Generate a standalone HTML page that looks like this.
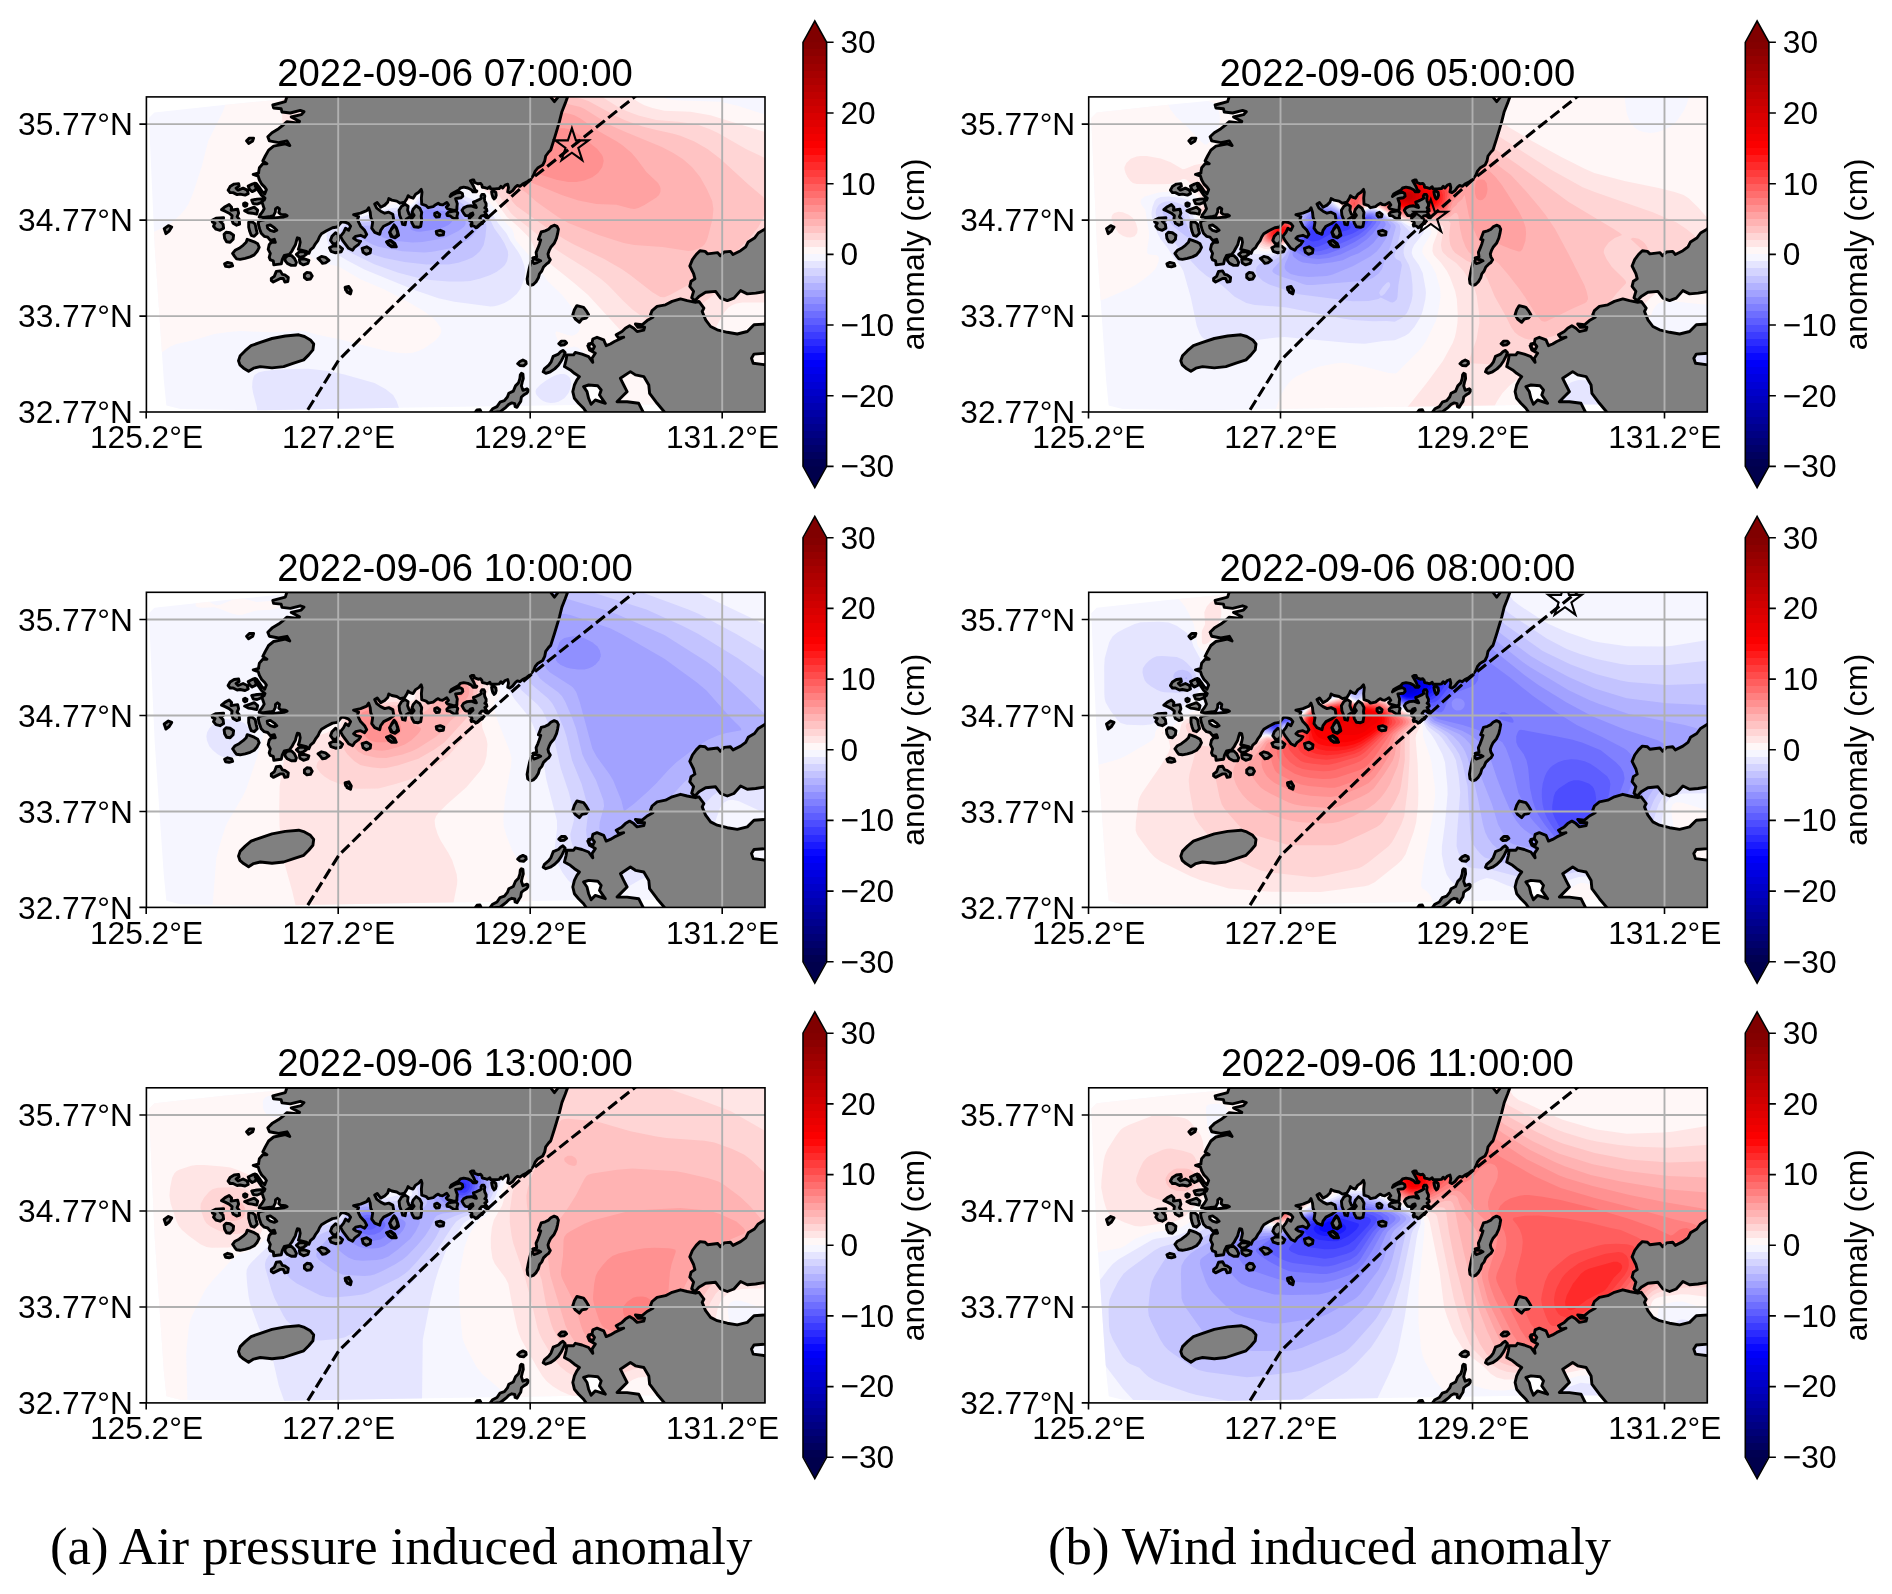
<!DOCTYPE html>
<html lang="en"><head><meta charset="utf-8"><title>Sea level anomaly</title>
<style>html,body{margin:0;padding:0;background:#fff}svg{display:block;will-change:transform}text{font-family:"Liberation Sans",Arial,sans-serif;fill:#000}.cap{font-family:"Liberation Serif","Times New Roman",serif}</style></head><body>
<svg width="1892" height="1594" viewBox="0 0 1892 1594">
<rect width="1892" height="1594" fill="#fff"/>
<defs>
<linearGradient id="cb" x1="0" y1="1" x2="0" y2="0">
<stop offset="0.0000" stop-color="#000052"/>
<stop offset="0.0167" stop-color="#000052"/>
<stop offset="0.0167" stop-color="#00005e"/>
<stop offset="0.0333" stop-color="#00005e"/>
<stop offset="0.0333" stop-color="#00006a"/>
<stop offset="0.0500" stop-color="#00006a"/>
<stop offset="0.0500" stop-color="#000076"/>
<stop offset="0.0667" stop-color="#000076"/>
<stop offset="0.0667" stop-color="#000082"/>
<stop offset="0.0833" stop-color="#000082"/>
<stop offset="0.0833" stop-color="#00008e"/>
<stop offset="0.1000" stop-color="#00008e"/>
<stop offset="0.1000" stop-color="#00009a"/>
<stop offset="0.1167" stop-color="#00009a"/>
<stop offset="0.1167" stop-color="#0000a6"/>
<stop offset="0.1333" stop-color="#0000a6"/>
<stop offset="0.1333" stop-color="#0000b2"/>
<stop offset="0.1500" stop-color="#0000b2"/>
<stop offset="0.1500" stop-color="#0000be"/>
<stop offset="0.1667" stop-color="#0000be"/>
<stop offset="0.1667" stop-color="#0000c9"/>
<stop offset="0.1833" stop-color="#0000c9"/>
<stop offset="0.1833" stop-color="#0000d5"/>
<stop offset="0.2000" stop-color="#0000d5"/>
<stop offset="0.2000" stop-color="#0000e1"/>
<stop offset="0.2167" stop-color="#0000e1"/>
<stop offset="0.2167" stop-color="#0000ed"/>
<stop offset="0.2333" stop-color="#0000ed"/>
<stop offset="0.2333" stop-color="#0000f9"/>
<stop offset="0.2500" stop-color="#0000f9"/>
<stop offset="0.2500" stop-color="#0909ff"/>
<stop offset="0.2667" stop-color="#0909ff"/>
<stop offset="0.2667" stop-color="#1a1aff"/>
<stop offset="0.2833" stop-color="#1a1aff"/>
<stop offset="0.2833" stop-color="#2b2bff"/>
<stop offset="0.3000" stop-color="#2b2bff"/>
<stop offset="0.3000" stop-color="#3c3cff"/>
<stop offset="0.3167" stop-color="#3c3cff"/>
<stop offset="0.3167" stop-color="#4d4dff"/>
<stop offset="0.3333" stop-color="#4d4dff"/>
<stop offset="0.3333" stop-color="#5e5eff"/>
<stop offset="0.3500" stop-color="#5e5eff"/>
<stop offset="0.3500" stop-color="#6e6eff"/>
<stop offset="0.3667" stop-color="#6e6eff"/>
<stop offset="0.3667" stop-color="#8080ff"/>
<stop offset="0.3833" stop-color="#8080ff"/>
<stop offset="0.3833" stop-color="#9090ff"/>
<stop offset="0.4000" stop-color="#9090ff"/>
<stop offset="0.4000" stop-color="#a2a2ff"/>
<stop offset="0.4167" stop-color="#a2a2ff"/>
<stop offset="0.4167" stop-color="#b2b2ff"/>
<stop offset="0.4333" stop-color="#b2b2ff"/>
<stop offset="0.4333" stop-color="#c3c3ff"/>
<stop offset="0.4500" stop-color="#c3c3ff"/>
<stop offset="0.4500" stop-color="#d4d4ff"/>
<stop offset="0.4667" stop-color="#d4d4ff"/>
<stop offset="0.4667" stop-color="#e5e5ff"/>
<stop offset="0.4833" stop-color="#e5e5ff"/>
<stop offset="0.4833" stop-color="#f6f6ff"/>
<stop offset="0.5000" stop-color="#f6f6ff"/>
<stop offset="0.5000" stop-color="#fff7f7"/>
<stop offset="0.5167" stop-color="#fff7f7"/>
<stop offset="0.5167" stop-color="#ffe5e5"/>
<stop offset="0.5333" stop-color="#ffe5e5"/>
<stop offset="0.5333" stop-color="#ffd5d5"/>
<stop offset="0.5500" stop-color="#ffd5d5"/>
<stop offset="0.5500" stop-color="#ffc3c3"/>
<stop offset="0.5667" stop-color="#ffc3c3"/>
<stop offset="0.5667" stop-color="#ffb3b3"/>
<stop offset="0.5833" stop-color="#ffb3b3"/>
<stop offset="0.5833" stop-color="#ffa2a2"/>
<stop offset="0.6000" stop-color="#ffa2a2"/>
<stop offset="0.6000" stop-color="#ff9191"/>
<stop offset="0.6167" stop-color="#ff9191"/>
<stop offset="0.6167" stop-color="#ff8080"/>
<stop offset="0.6333" stop-color="#ff8080"/>
<stop offset="0.6333" stop-color="#ff6e6e"/>
<stop offset="0.6500" stop-color="#ff6e6e"/>
<stop offset="0.6500" stop-color="#ff5e5e"/>
<stop offset="0.6667" stop-color="#ff5e5e"/>
<stop offset="0.6667" stop-color="#ff4c4c"/>
<stop offset="0.6833" stop-color="#ff4c4c"/>
<stop offset="0.6833" stop-color="#ff3c3c"/>
<stop offset="0.7000" stop-color="#ff3c3c"/>
<stop offset="0.7000" stop-color="#ff2a2a"/>
<stop offset="0.7167" stop-color="#ff2a2a"/>
<stop offset="0.7167" stop-color="#ff1a1a"/>
<stop offset="0.7333" stop-color="#ff1a1a"/>
<stop offset="0.7333" stop-color="#ff0808"/>
<stop offset="0.7500" stop-color="#ff0808"/>
<stop offset="0.7500" stop-color="#fb0000"/>
<stop offset="0.7667" stop-color="#fb0000"/>
<stop offset="0.7667" stop-color="#f20000"/>
<stop offset="0.7833" stop-color="#f20000"/>
<stop offset="0.7833" stop-color="#ea0000"/>
<stop offset="0.8000" stop-color="#ea0000"/>
<stop offset="0.8000" stop-color="#e10000"/>
<stop offset="0.8167" stop-color="#e10000"/>
<stop offset="0.8167" stop-color="#d90000"/>
<stop offset="0.8333" stop-color="#d90000"/>
<stop offset="0.8333" stop-color="#d00000"/>
<stop offset="0.8500" stop-color="#d00000"/>
<stop offset="0.8500" stop-color="#c80000"/>
<stop offset="0.8667" stop-color="#c80000"/>
<stop offset="0.8667" stop-color="#bf0000"/>
<stop offset="0.8833" stop-color="#bf0000"/>
<stop offset="0.8833" stop-color="#b70000"/>
<stop offset="0.9000" stop-color="#b70000"/>
<stop offset="0.9000" stop-color="#ae0000"/>
<stop offset="0.9167" stop-color="#ae0000"/>
<stop offset="0.9167" stop-color="#a60000"/>
<stop offset="0.9333" stop-color="#a60000"/>
<stop offset="0.9333" stop-color="#9d0000"/>
<stop offset="0.9500" stop-color="#9d0000"/>
<stop offset="0.9500" stop-color="#950000"/>
<stop offset="0.9667" stop-color="#950000"/>
<stop offset="0.9667" stop-color="#8c0000"/>
<stop offset="0.9833" stop-color="#8c0000"/>
<stop offset="0.9833" stop-color="#840000"/>
<stop offset="1.0000" stop-color="#840000"/>
<stop offset="1.0000" stop-color="#800000"/>
</linearGradient>
<clipPath id="fr"><rect x="0" y="0" width="618.6" height="315.1"/></clipPath>
</defs>
<g transform="translate(146.4,96.9)">
<g clip-path="url(#fr)">
<clipPath id="dr00"><path d="M2.5,21.0 8.0,15.5 77.0,8.0 150.0,1.0 165.0,-3.0 621.6,-3.0 621.6,307.0 430.0,308.0 253.0,310.9 118.0,313.4 34.0,312.0 20.0,308.5 17.4,283.0 8.3,150.0Z"/></clipPath>
<g clip-path="url(#dr00)">
<rect x="-2" y="-2" width="623" height="319" fill="#f6f6ff"/>
<path d="M77.0,-6.0 507.4,-6.0 508.7,-4.0 512.0,-1.5 522.0,2.4 530.0,3.3 574.0,4.8 592.0,9.1 616.0,16.9 620.0,17.6 626.0,17.4 626.0,322.0 447.9,322.0 443.0,310.0 441.1,302.0 441.3,294.0 444.1,282.0 444.8,276.0 444.4,270.0 442.0,262.5 438.0,256.2 432.0,250.8 428.0,249.6 420.0,251.3 416.0,249.9 414.0,247.9 411.5,244.0 409.3,238.0 409.0,236.0 410.0,234.3 422.0,238.3 426.0,238.9 430.0,237.2 432.0,235.1 433.5,232.0 433.7,228.0 430.0,218.5 426.0,211.2 416.0,198.4 401.2,184.0 385.8,162.0 369.9,144.0 367.8,140.0 367.3,136.0 365.6,132.0 356.0,122.7 348.0,111.5 344.0,106.8 340.0,103.0 334.0,98.7 322.0,93.9 315.4,88.0 310.0,84.3 304.0,81.7 298.0,80.5 292.0,80.7 288.0,81.7 284.0,83.4 280.0,86.0 274.0,92.4 268.8,102.0 266.1,106.0 264.0,107.5 262.0,108.1 252.0,107.2 246.0,107.5 235.8,110.0 224.0,111.9 214.0,115.2 212.0,115.1 200.0,111.7 192.0,110.8 182.0,111.6 174.0,113.9 166.4,118.0 161.8,122.0 157.5,128.0 155.9,132.0 155.0,136.0 155.2,144.0 157.1,150.0 160.9,156.0 164.8,160.0 168.0,162.4 176.0,166.2 190.0,169.2 194.0,170.6 214.0,182.3 237.0,192.0 260.2,204.0 277.2,214.0 285.5,220.0 289.5,224.0 293.9,230.0 295.0,234.0 294.6,236.0 292.2,240.0 288.3,244.0 278.0,251.4 272.0,254.2 266.0,255.8 260.0,256.4 254.0,256.2 244.0,254.8 232.0,252.2 194.0,242.7 170.0,237.6 162.0,235.0 158.0,234.2 150.0,234.0 126.0,235.4 94.0,234.1 82.0,235.1 68.0,237.1 48.0,243.1 30.0,247.1 24.0,249.7 12.0,257.8 6.0,260.5 2.0,260.8 -6.0,258.6 -6.0,141.4 16.0,130.9 26.0,125.1 34.0,117.8 38.9,112.0 42.0,107.4 46.7,96.0 55.2,70.0 61.8,44.0 75.8,16.0 78.3,10.0 78.7,4.0Z" fill="#fff7f7" fill-rule="evenodd"/>
<path d="M135.5,-6.0 476.9,-6.0 478.5,-4.0 481.1,-2.0 493.6,6.0 498.0,8.3 506.0,11.1 518.0,13.8 544.0,14.8 564.0,18.4 626.0,37.4 626.0,205.6 596.0,205.7 590.0,206.6 586.0,208.0 582.0,210.6 577.4,216.0 566.4,236.0 560.0,245.1 554.0,251.6 546.0,257.9 536.0,263.1 530.0,265.1 524.0,266.2 518.0,266.6 512.0,266.1 502.0,263.3 494.0,258.5 488.0,252.9 482.6,246.0 472.9,232.0 441.7,198.0 427.7,186.0 392.0,157.4 389.3,154.0 384.9,144.0 382.2,140.0 372.2,130.0 360.5,120.0 350.0,105.3 344.0,98.3 336.0,91.4 312.0,75.7 304.0,72.5 296.0,71.4 288.0,72.4 282.0,74.9 276.0,79.5 272.0,84.3 268.9,90.0 265.7,100.0 264.0,102.8 262.0,103.9 248.0,102.1 232.0,103.7 220.0,104.2 212.0,103.4 175.8,88.0 167.6,84.0 160.0,79.3 153.7,74.0 147.4,66.0 143.2,58.0 139.8,48.0 137.5,38.0 136.0,26.0 135.4,12.0Z" fill="#ffe5e5" fill-rule="evenodd"/>
<path d="M192.6,-6.0 449.2,-6.0 450.6,-4.0 455.7,0.0 471.6,10.0 480.0,14.0 492.0,18.6 510.0,23.0 532.0,24.8 546.0,26.8 552.0,28.2 563.1,32.0 571.6,36.0 600.0,52.3 626.0,64.7 626.0,166.3 588.0,185.0 576.0,191.6 564.2,200.0 544.0,216.9 534.0,223.0 526.0,225.9 518.0,226.9 512.0,226.3 504.0,224.0 496.0,219.8 486.0,212.5 477.0,204.0 461.6,188.0 454.6,182.0 440.6,172.0 420.0,159.4 404.0,148.8 384.3,132.0 368.0,119.5 364.4,116.0 362.0,112.8 352.0,97.3 344.0,88.2 324.0,70.8 316.0,65.0 310.0,61.8 302.0,58.9 294.0,57.8 286.0,58.5 278.0,61.4 272.0,65.5 268.0,69.5 263.4,76.0 257.1,88.0 255.1,90.0 252.0,91.1 240.0,91.0 230.0,89.6 222.0,86.8 214.2,82.0 205.8,74.0 198.5,64.0 193.6,54.0 190.5,44.0 188.9,34.0 188.5,22.0 189.6,10.0Z" fill="#ffd5d5" fill-rule="evenodd"/>
<path d="M283.6,-4.0 284.0,-6.0 417.7,-6.0 420.0,-3.1 424.0,-0.6 436.0,2.0 442.0,4.2 470.0,19.4 478.0,23.1 496.0,29.5 510.0,33.1 526.0,36.5 534.0,38.9 548.0,44.5 561.1,52.0 574.2,62.0 602.0,87.5 616.9,100.0 618.7,104.0 619.1,108.0 618.1,116.0 616.3,122.0 612.0,130.1 604.2,140.0 588.7,156.0 574.7,168.0 558.0,179.2 524.0,197.9 518.0,200.4 514.0,200.0 506.0,195.3 483.8,178.0 475.2,172.0 457.8,162.0 428.0,147.9 418.0,142.4 400.0,130.5 370.0,109.0 366.0,104.7 360.9,96.0 356.4,90.0 324.0,52.0 312.0,40.4 290.7,24.0 284.5,18.0 282.0,14.0 280.6,8.0 281.4,2.0Z" fill="#ffc3c3" fill-rule="evenodd"/>
<path d="M365.1,0.0 376.0,-1.6 390.0,-0.8 400.0,1.3 418.0,6.3 434.0,10.0 438.2,12.0 464.0,28.3 478.0,34.6 515.5,50.0 526.9,56.0 536.4,62.0 545.6,70.0 553.7,80.0 560.4,92.0 565.8,104.0 567.0,112.0 566.1,122.0 561.5,140.0 560.0,144.3 558.0,147.7 556.0,149.5 551.2,152.0 546.0,153.6 542.0,154.0 516.0,150.2 488.0,148.0 477.3,146.0 452.2,138.0 422.0,126.0 411.6,120.0 390.0,104.8 380.2,96.0 366.0,86.1 362.0,82.4 358.3,78.0 353.1,70.0 347.8,60.0 343.7,50.0 341.2,42.0 339.7,34.0 339.5,28.0 340.4,22.0 342.7,16.0 347.0,10.0 351.6,6.0 358.0,2.4Z" fill="#ffb3b3" fill-rule="evenodd"/>
<path d="M401.0,16.0 418.0,15.9 424.0,17.0 428.0,18.3 434.0,21.5 452.0,34.1 469.7,44.0 475.7,48.0 485.3,56.0 490.4,62.0 500.0,75.2 511.7,86.0 513.8,90.0 514.2,92.0 514.0,95.0 512.6,98.0 510.0,100.6 498.1,108.0 492.0,111.1 488.0,112.1 484.0,111.7 470.0,107.8 450.0,107.0 432.0,103.5 416.0,98.3 386.0,86.0 378.0,82.0 371.7,78.0 368.0,74.3 365.6,70.0 363.5,64.0 362.2,58.0 361.7,52.0 361.9,46.0 363.1,40.0 364.6,36.0 366.8,32.0 370.0,28.0 374.0,24.5 378.0,21.9 388.0,18.1Z" fill="#ffa2a2" fill-rule="evenodd"/>
<path d="M408.3,32.0 412.0,31.4 418.0,31.4 422.0,32.0 426.0,33.4 436.0,40.1 450.9,52.0 455.6,58.0 456.5,60.0 457.3,64.0 455.9,70.0 451.7,76.0 446.0,80.4 438.0,83.7 430.0,85.2 422.0,85.2 410.0,82.8 395.2,78.0 386.3,74.0 381.0,70.0 379.4,66.0 379.6,60.0 381.4,54.0 384.6,48.0 388.0,43.8 394.0,38.7 402.0,34.3Z" fill="#ff9191" fill-rule="evenodd"/>
<path d="M289.8,88.0 294.0,87.4 298.0,87.5 306.0,89.7 312.0,93.3 320.0,100.0 330.0,103.8 336.0,107.0 340.0,110.2 344.0,114.5 352.0,126.5 360.0,136.3 364.1,144.0 371.2,154.0 374.7,160.0 377.7,168.0 378.9,174.0 378.0,181.5 374.0,192.0 370.0,197.3 364.0,202.6 358.0,206.0 352.0,208.4 348.0,209.3 344.0,209.5 308.0,204.9 292.0,201.4 268.0,193.1 218.0,172.7 200.0,163.1 191.7,158.0 186.9,154.0 182.4,148.0 180.4,142.0 180.2,138.0 180.9,134.0 184.1,128.0 190.0,123.0 194.0,121.0 200.0,119.6 204.0,119.4 212.0,120.2 216.0,119.9 226.0,116.5 246.0,111.2 252.0,110.7 260.0,111.0 264.0,110.2 268.0,106.8 274.0,98.8 278.0,94.4 284.0,90.2ZM145.1,272.0 162.0,271.9 182.0,274.2 198.0,277.5 228.1,286.0 239.1,292.0 246.7,298.0 250.2,304.0 254.0,315.3 258.7,322.0 107.8,322.0 110.0,317.6 110.9,314.0 110.4,310.0 106.7,296.0 105.7,290.0 106.1,284.0 107.1,280.0 108.3,278.0 112.0,275.5 118.0,274.2 130.0,272.8ZM409.9,278.0 414.0,277.1 418.0,277.2 420.4,278.0 422.8,280.0 424.0,282.0 424.7,286.0 424.0,291.4 422.2,296.0 418.0,301.3 412.0,304.9 408.0,305.9 404.0,306.0 400.0,305.3 396.7,304.0 393.7,302.0 390.2,298.0 389.3,296.0 389.2,294.0 389.9,292.0 393.6,288.0 398.9,284.0 405.4,280.0Z" fill="#e5e5ff" fill-rule="evenodd"/>
<path d="M287.6,94.0 292.0,93.1 296.0,93.0 304.0,94.7 310.0,97.9 320.0,104.7 332.0,110.6 336.0,113.3 340.0,117.1 343.4,122.0 348.0,131.6 354.2,140.0 357.9,146.0 361.4,154.0 361.8,158.0 360.7,164.0 358.5,168.0 356.0,170.7 350.0,175.0 344.0,178.1 334.0,181.5 324.0,184.0 316.0,184.7 302.0,184.7 284.0,183.0 270.0,180.5 252.0,175.8 228.0,167.3 204.0,155.7 198.9,152.0 195.5,148.0 193.1,142.0 193.1,136.0 194.6,132.0 196.0,130.0 200.5,126.0 206.0,123.8 220.7,122.0 234.0,118.4 246.0,114.4 250.0,113.8 260.0,113.6 264.0,112.5 267.4,110.0 274.0,102.6 278.0,99.1 282.0,96.4Z" fill="#d4d4ff" fill-rule="evenodd"/>
<path d="M290.9,98.0 298.0,98.2 306.0,100.7 331.2,116.0 336.0,119.9 338.0,122.3 339.6,126.0 340.0,130.0 339.0,140.0 337.3,148.0 333.7,154.0 330.0,157.7 326.0,160.5 320.0,163.2 312.0,165.9 302.0,167.7 280.0,167.7 258.0,165.0 238.0,161.0 228.0,158.1 208.0,147.8 205.7,146.0 202.8,142.0 201.8,138.0 202.3,134.0 204.4,130.0 208.0,127.2 212.0,125.9 222.0,125.1 230.0,123.5 246.0,117.3 262.0,115.7 266.0,113.7 272.0,107.2 278.0,102.6 284.0,99.6Z" fill="#c3c3ff" fill-rule="evenodd"/>
<path d="M282.3,104.0 290.0,102.5 296.0,102.6 304.0,104.6 310.0,107.7 327.0,120.0 331.1,124.0 332.2,126.0 332.5,128.0 332.0,130.1 330.0,133.9 326.0,139.0 322.0,142.6 310.0,149.0 304.0,151.3 298.0,152.7 286.0,154.9 278.0,155.6 256.0,154.3 232.0,149.8 226.0,147.5 214.0,141.0 210.6,138.0 209.5,136.0 209.2,134.0 209.7,132.0 212.0,129.6 216.0,128.9 228.0,128.6 234.0,126.8 246.0,120.2 250.0,119.4 260.0,119.1 264.0,117.8 268.0,114.7 274.0,107.9 278.0,105.6Z" fill="#b2b2ff" fill-rule="evenodd"/>
<path d="M280.5,108.0 288.0,107.1 294.0,107.2 300.0,108.1 306.0,110.3 311.2,114.0 316.5,120.0 318.9,124.0 319.4,126.0 318.8,128.0 317.3,130.0 312.0,134.0 300.0,140.0 292.0,142.3 276.0,145.2 266.0,145.5 248.0,143.8 238.0,141.1 235.5,140.0 233.6,138.0 234.3,136.0 243.5,126.0 246.0,124.0 250.0,122.8 260.0,122.9 264.0,121.5 268.0,118.8 274.0,110.9 276.0,109.5Z" fill="#a2a2ff" fill-rule="evenodd"/>
<path d="M277.0,114.0 280.0,112.9 284.0,112.7 294.0,113.5 300.0,114.7 303.1,116.0 305.3,118.0 306.3,120.0 306.0,123.8 304.5,126.0 302.0,128.0 298.0,130.2 292.0,132.2 274.0,134.8 270.0,134.6 266.0,133.4 264.0,132.0 264.0,130.0 271.7,122.0 275.2,116.0Z" fill="#9090ff" fill-rule="evenodd"/>
</g>
<path d="M140.6,-0.6 138.9,4.8 126.4,8.1 127.2,11.1 134.7,11.8 135.6,15.1 143.9,16.1 153.9,13.5 157.6,14.8 154.8,17.8 144.8,20.1 153.1,24.5 152.3,26.2 140.6,24.8 136.4,28.5 132.2,31.8 125.6,35.8 121.4,39.9 123.0,44.0 132.2,45.7 140.6,44.0 143.4,48.7 138.9,46.9 127.2,49.2 122.2,53.2 118.9,59.1 116.4,64.1 120.5,66.9 116.4,66.9 113.0,70.8 112.2,75.3 112.3,76.1 106.8,77.6 111.8,79.3 113.0,83.1 115.3,87.2 118.3,90.2 120.0,92.7 118.3,97.0 115.6,94.4 112.6,90.0 110.0,86.7 108.8,89.2 111.6,93.2 115.0,98.2 118.6,101.2 117.8,103.2 115.3,104.7 116.6,108.2 117.8,111.8 115.8,115.3 113.6,118.1 112.8,120.1 117.3,120.5 123.9,119.5 127.1,118.8 128.9,115.3 129.1,112.1 131.1,110.5 133.1,112.1 132.4,115.8 134.4,117.5 139.1,117.8 140.7,118.9 137.4,120.1 132.9,120.5 127.9,121.1 123.9,121.8 119.8,122.5 113.8,123.8 111.8,125.3 112.3,128.8 113.3,132.3 114.8,136.4 117.8,139.4 121.3,140.2 123.9,143.4 127.9,142.4 128.9,145.4 124.9,145.4 122.8,147.9 121.8,152.4 123.9,156.5 122.8,160.5 123.9,163.0 126.9,164.0 127.4,168.0 130.9,167.5 134.9,167.0 135.9,162.5 137.9,158.5 142.9,157.5 145.4,154.4 147.0,151.4 149.0,147.9 150.2,143.4 151.0,140.9 153.0,141.4 153.8,145.4 153.0,149.4 152.0,152.4 156.0,153.4 160.0,154.4 162.5,156.5 164.0,152.9 167.0,150.4 169.0,146.9 171.6,143.4 173.1,139.9 175.1,136.9 180.1,133.9 186.1,130.8 190.9,130.1 193.1,127.3 195.2,124.8 198.7,125.3 202.2,126.8 204.2,129.3 202.2,133.4 199.2,131.3 197.2,135.4 194.1,139.4 196.2,143.4 199.2,147.4 202.2,151.4 206.2,153.4 208.2,150.4 212.2,147.4 214.2,144.4 210.2,143.4 207.2,141.4 209.2,139.4 214.2,138.4 218.2,140.4 220.3,137.4 218.2,133.4 214.2,129.3 212.2,125.3 211.2,122.3 212.2,119.8 207.2,117.8 214.2,116.3 220.3,113.8 222.3,110.8 223.8,115.3 224.3,120.3 226.3,125.3 225.3,131.3 228.3,135.4 233.3,137.4 234.3,133.4 237.3,129.3 243.4,126.3 247.4,123.3 246.4,117.3 242.4,115.3 238.3,116.3 234.3,114.3 230.3,111.3 228.3,107.2 230.8,105.7 234.3,110.3 238.3,108.2 241.3,105.2 242.4,101.7 245.4,103.2 250.4,104.2 253.7,106.3 258.2,105.3 260.7,101.3 261.7,98.8 263.7,100.3 266.7,101.3 269.2,97.3 272.3,95.3 274.8,92.5 275.6,95.3 275.0,101.3 275.3,107.3 279.8,108.8 281.8,110.8 286.8,109.8 289.3,107.8 291.8,106.3 293.6,107.6 296.1,108.0 298.3,106.8 300.4,105.5 302.1,108.0 299.9,110.2 301.2,111.9 304.6,112.7 308.0,113.5 310.5,112.7 310.5,110.2 310.9,106.8 309.7,103.4 309.2,101.7 311.4,101.3 314.7,100.9 316.4,99.2 316.0,96.6 313.9,95.4 309.7,96.2 306.3,97.9 303.7,99.6 305.0,97.1 308.0,95.4 312.2,93.2 313.9,91.1 317.3,90.3 321.5,91.1 324.9,92.8 326.6,94.9 330.0,94.9 330.4,94.1 328.7,93.2 327.4,89.9 325.7,86.9 324.0,83.9 325.7,83.1 327.4,83.1 328.3,85.6 331.7,86.9 334.2,86.5 335.5,88.2 335.9,90.3 338.4,90.7 341.0,91.6 343.5,89.9 344.3,92.0 348.6,92.0 352.8,91.6 354.5,89.4 356.2,91.1 358.7,88.2 361.3,87.3 362.1,90.7 361.3,94.9 363.4,95.8 366.3,93.7 368.9,90.3 371.0,88.6 373.6,89.4 376.2,87.2 380.2,85.2 384.2,82.2 387.2,78.2 388.8,74.2 391.3,71.2 396.3,68.2 398.3,64.1 399.3,59.1 402.3,55.1 404.3,53.1 408.0,41.5 410.5,33.2 413.0,24.8 415.5,14.8 418.8,6.5 421.4,-0.6 412.2,-0.6 408.0,4.8 403.8,-0.6Z M86.2,156.5 88.7,153.4 92.7,151.4 96.7,148.4 99.8,145.4 100.8,142.4 103.8,143.4 107.8,144.9 111.3,146.9 112.8,150.4 110.8,154.4 107.8,158.0 103.8,160.0 98.7,161.5 93.7,162.5 90.2,162.0 88.2,159.5Z M102.3,125.3 105.8,124.8 108.8,127.3 109.8,132.3 110.8,136.4 107.8,139.4 104.8,138.4 103.3,134.4 102.3,130.3Z M81.7,93.2 83.7,89.7 87.7,87.2 92.2,86.7 92.7,89.2 89.7,91.2 91.7,93.2 96.7,91.2 100.8,93.2 101.8,96.7 98.7,98.2 93.7,97.2 90.7,97.7 86.7,95.7 83.7,95.7Z M101.8,89.2 105.8,87.2 108.8,86.2 110.8,89.2 108.8,93.2 105.8,94.7 103.3,92.7Z M75.1,112.8 78.7,109.8 82.7,107.7 85.2,110.3 84.7,113.3 87.7,112.8 91.2,112.3 92.2,116.3 90.7,119.8 92.7,122.3 93.2,127.3 90.2,128.3 86.7,126.3 85.2,122.3 85.7,118.8 82.7,116.3 78.7,114.3Z M105.3,103.2 110.8,102.2 117.8,101.7 115.8,105.2 110.8,107.2 106.8,106.7Z M98.2,113.8 103.8,111.8 107.8,110.3 111.3,113.3 110.3,117.3 105.8,116.3 101.8,115.8Z M65.6,123.3 69.6,121.3 77.2,120.8 76.7,123.3 73.6,124.3 76.7,127.3 77.2,131.3 73.6,133.4 69.6,132.3 67.1,129.3 68.6,126.3 66.1,125.3Z M77.7,137.4 79.7,135.4 83.7,135.9 87.2,138.4 86.7,142.4 83.7,145.4 80.2,144.9 78.2,141.4Z M78.2,167.0 81.2,165.5 85.2,166.5 86.2,169.0 82.7,170.0 79.2,169.5Z M124.9,181.6 127.9,179.5 129.9,174.5 133.9,174.0 135.9,177.5 138.4,178.0 141.9,180.6 141.4,184.6 138.4,185.1 136.9,181.6 133.9,181.6 129.9,183.6 126.9,185.1 124.9,183.6Z M158.0,177.5 160.5,175.5 164.0,176.0 165.8,179.0 164.0,182.1 160.5,182.6 158.0,180.6Z M198.7,190.6 201.7,190.1 204.2,192.6 204.2,196.1 201.2,195.1 199.2,193.1Z M138.4,161.5 140.9,159.0 144.9,158.5 148.0,161.5 150.0,165.5 149.0,168.5 144.9,168.5 140.9,166.5 138.9,164.0Z M150.0,157.5 153.0,154.9 158.0,154.9 160.0,157.5 157.0,159.5 153.0,160.5Z M153.0,162.5 158.0,162.0 162.5,163.5 161.5,166.5 157.0,168.0 153.5,166.0Z M171.6,161.5 175.1,159.5 179.1,160.5 182.6,163.5 179.1,166.0 176.1,166.5 174.1,164.0Z M183.1,150.9 187.1,148.9 193.1,149.4 196.2,151.9 194.7,154.9 189.1,155.9 184.6,154.4Z M215.7,151.4 220.3,149.9 224.3,152.4 223.8,155.9 219.8,157.5 216.7,155.4Z M240.3,144.9 244.4,143.4 248.4,146.4 249.9,149.9 246.4,149.9 242.9,147.9Z M243.4,135.4 245.4,131.3 247.4,128.3 249.9,131.3 251.4,136.4 249.4,140.4 245.9,139.9Z M184.1,143.4 185.6,139.4 189.1,135.9 191.6,137.4 192.1,143.4 190.1,146.9 186.6,146.9Z M97.2,106.7 98.7,106.0 100.6,107.0 100.3,108.7 98.5,109.5 97.2,108.4Z M255.2,109.3 258.7,107.3 261.7,109.3 261.2,113.4 262.7,117.4 266.7,118.4 263.7,119.9 259.7,122.4 258.7,127.9 256.2,127.4 255.2,123.4 253.2,118.4 252.7,113.4Z M266.7,112.3 269.8,108.8 273.3,111.3 275.3,115.4 274.8,119.4 275.3,123.4 274.3,129.4 271.8,130.4 267.7,129.9 265.7,126.4 264.7,122.4 267.7,118.4 265.7,115.4Z M247.7,127.9 249.7,130.4 251.2,134.4 252.2,138.5 248.7,141.0 244.6,139.5 243.1,135.4 245.1,132.4 246.7,130.4Z M240.1,145.0 243.6,143.5 247.2,146.5 249.2,150.0 245.1,150.0 242.1,148.0Z M288.3,116.4 290.8,115.4 293.4,117.4 292.8,119.9 289.8,120.2 288.3,118.4Z M289.8,134.4 293.9,133.4 297.4,134.9 296.9,138.0 292.8,138.5 290.3,137.0Z M92.1,263.8 93.8,258.8 98.8,253.8 104.7,248.8 113.9,245.5 125.6,241.6 138.9,239.1 152.3,237.9 158.1,239.6 164.0,243.0 167.3,247.1 166.5,253.0 162.3,258.0 157.3,263.0 147.3,266.3 137.2,269.7 125.6,271.0 113.9,269.7 107.2,271.3 102.2,274.4 97.2,271.3 93.5,268.0Z M199.0,190.3 202.4,189.5 204.9,193.7 204.1,197.0 200.7,195.4Z M100.2,44.0 103.0,41.2 107.2,41.2 106.3,44.0 102.2,46.5Z M17.8,131.7 22.0,128.7 25.3,130.1 22.8,134.2 19.5,136.7Z M620.8,130.4 618.3,132.3 611.9,136.1 608.1,141.2 601.8,145.0 599.3,150.0 594.2,153.8 586.6,157.6 584.0,154.5 577.7,155.1 573.9,158.9 571.3,155.7 561.2,157.0 558.7,154.5 553.6,153.8 549.8,157.6 546.0,162.7 543.4,169.1 547.2,176.7 548.5,181.8 544.7,184.3 543.4,189.4 547.2,194.4 545.3,200.8 548.5,203.9 552.5,199.5 559.2,195.4 569.2,194.5 574.2,201.2 580.9,203.7 587.5,201.2 594.2,193.7 600.9,197.0 609.3,196.2 619.6,194.5Z M549.1,205.4 540.8,203.7 534.1,202.0 525.7,204.5 519.1,207.9 510.7,209.5 505.7,213.7 504.0,217.9 506.5,220.4 500.7,223.7 495.7,227.9 489.0,227.1 491.5,230.4 498.2,230.4 497.4,233.3 490.7,234.6 487.3,231.3 483.2,228.8 479.0,231.3 475.6,234.6 469.8,237.9 472.3,241.3 477.3,240.4 468.1,244.6 463.9,247.1 459.8,248.8 457.3,243.0 450.6,240.4 446.4,242.1 445.6,246.3 441.4,248.8 443.1,253.0 448.9,256.3 445.6,261.3 446.4,265.5 442.2,259.7 435.6,257.2 428.9,255.5 427.2,258.0 420.5,258.0 419.7,263.0 418.0,269.7 423.9,273.0 428.0,276.4 433.0,279.7 430.5,283.0 428.0,288.1 426.4,294.7 428.0,301.4 432.2,306.4 437.2,311.4 440.6,316.4 497.4,316.4 492.3,306.4 480.7,304.8 470.6,304.8 477.3,298.1 480.7,294.7 477.3,288.1 474.0,281.4 484.0,274.7 489.0,278.0 497.4,279.7 502.4,288.1 503.2,296.4 510.7,306.4 519.1,316.4 619.6,316.4 619.6,268.0 606.8,266.3 605.1,261.3 607.6,257.2 619.6,256.3 619.6,227.1 607.6,227.9 600.9,234.6 590.9,237.1 580.9,235.4 570.8,232.9 564.2,229.6 559.2,222.9 555.8,214.6 557.5,211.2 552.5,204.5Z M430.5,208.7 437.2,210.4 439.7,213.7 442.2,217.9 439.7,221.2 435.6,222.1 433.0,225.4 428.9,222.1 426.4,217.9 428.0,212.9Z M442.2,247.1 445.6,246.3 448.1,249.6 446.4,253.0 443.1,251.3Z M375.0,276.4 376.5,277.1 376.9,281.6 375.8,285.3 375.0,289.0 376.5,293.4 380.6,291.9 382.4,293.4 380.2,296.4 377.2,298.2 375.0,300.1 374.3,304.5 372.8,306.7 370.6,310.4 368.7,309.7 368.4,306.7 365.4,306.0 362.4,307.5 359.5,310.4 356.5,312.7 353.6,314.9 343.2,316.0 346.2,311.9 350.6,309.7 353.6,305.3 358.0,303.8 361.0,300.1 362.4,296.4 366.9,294.2 369.1,289.0 372.1,286.0 373.5,281.6 373.9,277.9Z M371.3,266.8 373.5,264.6 376.5,263.1 379.5,264.6 379.8,266.8 377.2,269.0 373.5,268.6Z M416.5,253.5 418.7,255.7 417.2,259.4 415.0,263.8 412.0,268.3 408.3,272.0 403.9,274.9 399.4,276.4 396.8,274.9 398.0,272.0 402.4,268.3 404.6,265.3 406.8,259.4 412.0,257.2 414.2,254.9Z M412.4,246.8 415.0,244.2 418.7,244.2 420.2,246.1 417.9,247.9 414.2,248.3Z M328.4,316.0 330.6,313.0 333.6,312.7 335.1,316.0Z M315.6,113.5 317.3,111.0 320.7,109.3 324.9,108.9 328.3,110.2 330.0,110.6 329.1,108.5 327.4,106.8 327.0,105.1 329.5,104.2 332.9,102.6 335.0,101.3 334.6,99.2 335.5,97.5 337.6,97.5 338.4,99.2 338.0,101.7 338.4,104.2 339.7,106.8 339.7,109.3 338.4,111.0 340.1,111.9 340.5,114.0 338.4,115.2 339.7,117.3 341.8,119.9 341.4,121.6 339.3,120.3 337.6,118.6 335.0,119.0 333.3,121.2 335.0,123.3 336.7,125.0 335.9,126.7 333.8,127.1 331.7,129.2 329.5,130.9 328.3,129.6 326.6,128.8 324.9,129.2 324.5,127.5 325.7,126.2 324.9,124.5 323.2,123.7 322.8,121.2 324.9,119.5 326.6,117.8 326.2,116.1 324.0,116.9 322.4,119.0 319.0,118.6 317.3,116.5Z M345.2,94.9 346.9,94.1 349.4,95.4 349.8,98.3 349.0,100.9 347.7,102.1 346.5,100.4 345.6,97.5Z M300.4,116.9 302.1,115.2 306.3,114.4 309.7,114.0 311.4,116.1 310.5,119.5 310.9,121.6 307.6,121.6 305.4,120.3 303.7,119.0 300.8,118.6Z M407.8,128.3 410.6,129.5 412.0,132.3 411.2,136.8 410.1,141.3 407.8,146.4 404.4,150.4 402.7,153.8 401.6,157.1 402.2,160.0 403.9,162.8 402.2,165.6 399.9,167.3 397.1,170.1 395.4,174.1 393.1,176.9 392.0,180.9 389.7,184.8 386.9,187.6 384.1,188.5 381.3,186.5 380.7,182.0 381.8,176.3 383.0,170.7 384.4,165.6 385.8,163.9 387.5,166.7 390.9,165.6 394.3,163.9 392.0,162.8 386.9,162.2 386.3,161.1 390.3,160.0 389.7,155.4 391.4,151.5 393.1,147.0 394.3,143.0 392.0,142.5 393.1,139.6 394.8,135.1 398.8,134.0 402.2,132.3 404.4,130.0Z" fill="#808080" stroke="#000" stroke-width="2.9" stroke-linejoin="round"/>
<path d="M120.8,128.8 123.9,128.1 127.9,130.8 130.4,133.4 127.9,134.6 123.9,133.4 121.3,131.3Z M442.2,288.1 451.4,288.9 454.8,293.1 453.1,298.1 458.9,306.4 448.9,303.1 444.7,307.3 442.2,301.4 440.6,294.7 437.2,289.7Z" fill="#fff" stroke="#000" stroke-width="2.9" stroke-linejoin="round"/>
<path d="M191.8,0V315.1 M383.8,0V315.1 M575.8,0V315.1 M0,27.2H618.6 M0,123.2H618.6 M0,219.2H618.6" stroke="#b0b0b0" stroke-width="1.9" fill="none"/>
<path d="M153.0,326.0 L160.6,314.1 L192.4,263.0 L247.0,209.0 L301.8,156.1 L383.6,83.2 L486.4,1.4 L497.0,-7.0" fill="none" stroke="#000" stroke-width="3.1" stroke-dasharray="11.2,4.4"/>
<path d="M425.5,31.3 429.5,43.5 442.3,43.5 431.9,51.1 435.9,63.3 425.5,55.8 415.1,63.3 419.1,51.1 408.7,43.5 421.5,43.5Z" fill="none" stroke="#000" stroke-width="2.1" stroke-linejoin="miter"/>
</g>
<rect x="0" y="0" width="618.6" height="315.1" fill="none" stroke="#000" stroke-width="1.6"/>
<path d="M-0.2,315.1v6.6 M191.8,315.1v6.6 M383.8,315.1v6.6 M575.8,315.1v6.6 M0,27.2h-7 M0,123.2h-7 M0,219.2h-7 M0,315.1h-7" stroke="#000" stroke-width="1.6" fill="none"/>
<text x="0.1" y="351.4" font-size="31.7" text-anchor="middle">125.2°E</text>
<text x="192.1" y="351.4" font-size="31.7" text-anchor="middle">127.2°E</text>
<text x="384.1" y="351.4" font-size="31.7" text-anchor="middle">129.2°E</text>
<text x="576.1" y="351.4" font-size="31.7" text-anchor="middle">131.2°E</text>
<text x="-13.5" y="38.4" font-size="31.7" text-anchor="end">35.77°N</text>
<text x="-13.5" y="134.4" font-size="31.7" text-anchor="end">34.77°N</text>
<text x="-13.5" y="230.4" font-size="31.7" text-anchor="end">33.77°N</text>
<text x="-13.5" y="326.3" font-size="31.7" text-anchor="end">32.77°N</text>
<text x="308.7" y="-11.4" font-size="38.3" text-anchor="middle">2022-09-06 07:00:00</text>
<path d="M656.6,-53.6L668.4,-75.9L680.2,-53.6Z" fill="#800000"/>
<path d="M656.6,368.5L668.4,390.8L680.2,368.5Z" fill="#00004c"/>
<rect x="656.6" y="-54.6" width="23.6" height="424.1" fill="url(#cb)"/>
<path d="M656.6,-54.6L668.4,-75.9L680.2,-54.6L680.2,369.5L668.4,390.8L656.6,369.5Z" fill="none" stroke="#000" stroke-width="1.6" stroke-linejoin="miter"/>
<text x="694.1" y="-43.7" font-size="31.7">30</text>
<text x="694.1" y="27.0" font-size="31.7">20</text>
<text x="694.1" y="97.7" font-size="31.7">10</text>
<text x="694.1" y="168.4" font-size="31.7">0</text>
<text x="694.1" y="239.0" font-size="31.7">−10</text>
<text x="694.1" y="309.7" font-size="31.7">−20</text>
<text x="694.1" y="380.4" font-size="31.7">−30</text>
<path d="M680.2,-54.6h7 M680.2,16.1h7 M680.2,86.8h7 M680.2,157.5h7 M680.2,228.1h7 M680.2,298.8h7 M680.2,369.5h7" stroke="#000" stroke-width="1.6" fill="none"/>
<text transform="translate(777.8,157.4) rotate(-90)" font-size="31.7" text-anchor="middle">anomaly (cm)</text>
</g>
<g transform="translate(1088.7,96.9)">
<g clip-path="url(#fr)">
<clipPath id="dr01"><path d="M2.5,21.0 8.0,15.5 77.0,8.0 150.0,1.0 165.0,-3.0 621.6,-3.0 621.6,307.0 430.0,308.0 253.0,310.9 118.0,313.4 34.0,312.0 20.0,308.5 17.4,283.0 8.3,150.0Z"/></clipPath>
<g clip-path="url(#dr01)">
<rect x="-2" y="-2" width="623" height="319" fill="#f6f6ff"/>
<path d="M-6.0,-6.0 534.9,-6.0 538.0,16.0 539.3,20.0 542.2,26.0 546.0,30.9 550.0,33.7 556.0,35.4 562.0,36.1 568.0,35.3 574.0,33.3 581.1,30.0 586.0,26.3 589.6,22.0 594.9,14.0 597.8,8.0 600.0,0.6 602.0,-1.8 606.0,-3.4 612.0,-4.1 626.0,-2.7 626.0,207.9 612.0,207.4 582.0,204.1 576.0,204.4 570.0,206.4 567.9,208.0 564.9,212.0 558.0,229.2 553.3,238.0 548.0,245.1 540.8,252.0 532.0,257.9 523.3,262.0 512.0,265.5 490.0,269.9 480.0,272.7 466.9,278.0 446.0,288.1 440.0,293.1 435.2,300.0 430.9,310.0 427.3,322.0 182.9,322.0 186.6,314.0 191.2,300.0 195.7,292.0 200.0,286.0 204.0,282.1 208.0,279.4 214.8,276.0 223.6,272.0 230.0,269.8 246.0,266.5 254.0,265.8 260.0,266.5 276.7,270.0 300.0,276.2 306.0,276.6 308.0,276.0 332.0,251.9 337.4,244.0 347.2,224.0 349.2,216.0 351.9,200.0 351.5,192.0 347.0,176.0 342.7,168.0 336.1,160.0 333.8,156.0 333.5,154.0 334.4,150.0 341.8,138.0 342.7,136.0 342.7,134.0 341.4,132.0 337.6,130.0 322.0,127.3 312.0,122.8 304.0,120.4 300.0,118.4 292.0,113.1 286.0,110.6 280.0,110.6 276.0,112.2 268.0,117.0 266.0,117.5 262.0,117.2 259.0,116.0 256.0,114.0 242.0,101.2 232.0,94.6 222.0,90.9 216.0,90.1 212.0,90.4 208.0,91.4 203.7,94.0 200.6,98.0 199.7,102.0 200.5,108.0 206.9,124.0 207.8,128.0 207.6,134.0 205.5,140.0 198.0,147.4 192.0,151.4 188.0,153.0 182.0,154.4 174.0,154.5 168.0,152.9 162.8,150.0 152.0,139.3 146.0,134.8 138.9,132.0 120.0,127.3 112.0,123.5 108.0,119.5 106.3,116.0 105.9,114.0 106.6,110.0 108.6,106.0 108.9,104.0 108.3,102.0 106.0,99.1 102.0,96.1 98.0,94.5 90.0,93.8 70.0,95.7 56.0,99.6 52.8,102.0 52.0,104.0 52.0,106.0 52.9,108.0 56.1,112.0 56.8,114.0 60.1,134.0 60.4,140.0 58.5,152.0 58.6,156.0 60.0,157.5 68.0,158.4 70.1,160.0 70.0,164.2 68.0,169.6 66.5,172.0 62.8,176.0 55.4,182.0 48.0,187.4 42.0,190.8 18.0,201.3 -6.0,210.2ZM90.0,3.8 81.7,6.0 79.9,8.0 81.4,12.0 87.6,20.0 98.7,30.0 112.0,44.4 116.0,47.7 118.0,47.8 122.0,43.8 126.0,38.0 128.2,34.0 130.4,28.0 131.2,22.0 130.9,18.0 130.0,14.0 128.0,9.7 126.0,7.0 124.0,5.5 120.0,4.3 98.0,3.3Z" fill="#fff7f7" fill-rule="evenodd"/>
<path d="M161.6,-6.0 408.0,-6.0 411.5,18.0 412.5,22.0 414.0,25.2 419.8,30.0 443.3,44.0 472.6,60.0 496.5,72.0 505.5,76.0 535.8,84.0 570.0,91.1 586.0,95.1 594.9,98.0 600.0,101.4 610.0,111.1 620.0,122.6 622.0,124.1 626.0,125.4 626.0,178.6 612.0,183.0 584.0,189.1 572.0,193.6 566.0,197.3 560.6,202.0 555.2,208.0 538.0,230.3 530.0,237.9 522.0,243.7 514.2,248.0 506.0,251.5 474.0,262.1 452.0,270.3 442.0,274.7 432.2,280.0 421.4,288.0 413.8,296.0 408.5,304.0 399.1,322.0 313.3,322.0 315.1,316.0 318.9,310.0 338.0,286.1 354.0,264.3 364.0,246.0 366.2,240.0 367.5,234.0 368.7,226.0 369.1,218.0 368.1,202.0 366.4,194.0 361.2,180.0 358.2,174.0 352.5,166.0 345.1,158.0 343.7,154.0 344.2,148.0 348.8,136.0 349.1,134.0 348.0,131.4 345.9,130.0 339.7,128.0 322.0,125.4 313.0,122.0 304.0,119.5 300.0,117.5 292.0,112.1 286.0,109.5 280.0,109.6 276.0,111.2 268.0,116.3 266.0,116.8 262.0,116.6 258.0,114.5 255.0,112.0 244.0,100.2 238.0,94.7 232.0,90.1 226.0,86.4 218.0,82.7 210.0,80.4 202.0,79.4 196.0,79.6 188.0,81.7 184.2,84.0 182.1,86.0 178.6,92.0 177.9,98.0 178.6,100.0 180.5,102.0 192.0,107.8 196.0,111.0 200.0,115.4 204.0,121.1 206.5,126.0 207.3,130.0 206.6,136.0 204.0,140.9 198.0,146.2 194.0,148.9 190.0,150.7 186.0,151.6 180.0,152.4 176.0,152.1 170.0,149.9 167.5,148.0 164.4,144.0 161.4,136.0 159.0,124.0 158.0,122.0 156.0,120.5 150.0,119.8 124.0,122.1 116.0,121.1 112.0,119.1 110.0,117.1 108.8,114.0 109.0,112.0 112.2,106.0 112.7,104.0 111.8,100.0 104.0,89.0 98.0,82.9 96.0,82.0 94.0,82.1 85.6,86.0 80.0,87.0 68.0,87.4 48.0,87.0 44.3,86.0 41.7,84.0 38.8,80.0 36.8,76.0 35.7,72.0 35.8,70.0 37.7,66.0 42.0,61.9 48.0,59.6 52.0,59.0 58.0,59.1 72.0,61.5 82.0,65.4 94.0,72.3 96.0,72.2 105.9,68.0 124.0,64.6 133.5,62.0 142.0,58.9 148.0,55.8 152.8,52.0 156.0,48.0 158.9,42.0 160.6,36.0 161.9,28.0 162.6,18.0ZM25.5,116.0 30.0,114.8 34.0,115.4 40.0,117.8 44.0,120.8 47.3,126.0 48.9,132.0 48.4,136.0 46.0,139.4 42.0,140.6 38.0,140.4 34.0,138.9 29.8,136.0 26.0,130.0 22.9,122.0 22.8,120.0 23.5,118.0Z" fill="#ffe5e5" fill-rule="evenodd"/>
<path d="M197.2,-6.0 375.5,-6.0 377.3,-2.0 384.9,10.0 396.0,26.0 403.2,34.0 412.0,40.6 462.0,72.6 494.0,90.4 506.0,95.2 564.0,115.4 588.0,125.5 597.7,132.0 605.1,138.0 613.7,148.0 614.5,150.0 614.3,152.0 612.3,154.0 609.2,156.0 580.0,172.9 566.0,182.1 560.0,187.8 550.0,198.8 524.0,224.0 514.0,231.7 504.0,237.4 490.0,243.5 470.0,250.9 422.0,265.8 414.0,267.2 406.0,267.7 382.0,266.4 381.2,266.0 380.5,264.0 380.8,262.0 387.9,242.0 390.6,226.0 390.3,216.0 388.0,198.9 386.6,194.0 384.0,188.6 374.8,174.0 367.5,166.0 358.9,160.0 354.7,156.0 353.4,154.0 352.2,148.0 354.8,132.0 354.7,130.0 354.0,128.9 352.9,128.0 350.0,127.5 324.0,124.2 306.0,119.3 300.0,116.6 290.0,109.9 286.0,108.4 282.0,108.2 278.0,109.2 270.0,114.6 266.0,116.2 262.0,115.9 258.0,113.6 254.4,110.0 244.0,96.9 236.0,88.1 207.0,62.0 201.9,56.0 198.2,50.0 194.8,40.0 193.4,28.0 194.2,12.0ZM116.6,80.0 120.0,78.8 124.0,78.4 130.0,79.2 134.0,80.8 138.0,83.8 139.8,86.0 141.4,90.0 141.8,94.0 141.0,98.0 139.2,102.0 134.0,107.8 123.5,114.0 118.0,115.9 116.0,116.1 114.0,115.5 112.7,114.0 112.9,112.0 117.6,106.0 117.9,102.0 117.2,100.0 112.3,92.0 111.6,88.0 112.5,84.0 114.0,81.9ZM187.0,114.0 190.0,113.6 194.0,114.6 198.0,117.1 202.0,120.9 204.4,124.0 206.2,128.0 206.7,132.0 206.0,136.0 204.0,139.9 202.0,141.9 196.0,146.6 192.0,148.7 188.0,149.8 182.0,150.5 176.0,149.8 172.0,147.8 168.8,144.0 167.5,138.0 168.1,132.0 169.9,128.0 172.0,125.5 183.0,116.0Z" fill="#ffd5d5" fill-rule="evenodd"/>
<path d="M233.7,-6.0 336.6,-6.0 340.4,-2.0 380.5,32.0 406.4,52.0 429.4,68.0 480.0,105.1 525.1,132.0 531.3,136.0 533.4,138.0 526.0,141.2 520.0,145.6 516.0,151.2 515.1,154.0 515.1,156.0 517.8,162.0 523.2,170.0 535.4,182.0 537.0,184.0 537.5,186.0 528.0,196.4 513.9,214.0 506.0,220.5 496.1,226.0 468.4,238.0 456.0,241.7 448.0,242.7 440.0,242.7 436.0,241.7 430.0,238.5 426.0,235.3 422.4,230.0 416.5,218.0 406.0,199.7 398.7,182.0 395.1,176.0 388.0,168.3 378.0,163.9 366.6,156.0 364.0,153.1 361.6,148.0 360.9,144.0 360.5,138.0 361.8,126.0 360.0,124.2 356.0,123.9 346.0,124.6 322.0,122.5 304.0,117.8 300.0,115.7 290.0,108.8 284.0,106.9 280.0,107.3 278.0,108.1 269.8,114.0 266.0,115.6 264.0,115.6 260.0,114.2 255.7,110.0 232.8,76.0 226.6,66.0 221.9,56.0 219.1,46.0 218.3,34.0 218.9,28.0 220.6,20.0 225.3,8.0ZM187.2,118.0 190.0,117.1 194.0,117.7 198.0,119.6 202.0,122.7 204.0,125.0 205.5,128.0 206.1,132.0 205.4,136.0 204.0,138.9 202.0,141.1 194.0,146.7 188.0,148.6 182.0,149.0 178.0,148.5 174.0,146.5 171.9,144.0 170.7,140.0 171.2,134.0 172.0,131.6 174.0,128.8ZM541.9,142.0 544.0,140.8 546.0,141.0 550.0,141.9 553.5,144.0 556.0,146.4 558.5,150.0 559.3,152.0 558.9,154.0 556.0,154.0 552.7,152.0Z" fill="#ffc3c3" fill-rule="evenodd"/>
<path d="M277.4,6.0 286.0,5.9 296.0,7.3 306.0,10.4 316.0,14.8 366.0,40.9 384.0,51.1 400.0,61.3 422.2,78.0 437.1,94.0 450.6,110.0 456.9,118.0 466.4,132.0 481.4,160.0 495.6,188.0 497.8,194.0 499.2,200.0 499.3,202.0 498.0,204.8 496.4,206.0 484.0,211.5 458.0,224.3 456.0,224.8 452.9,224.0 447.6,218.0 436.3,200.0 430.7,192.0 419.8,178.0 410.0,166.7 406.0,163.7 400.0,164.2 396.0,163.7 383.7,158.0 380.0,155.0 376.9,150.0 373.8,142.0 371.4,132.0 369.8,120.0 369.3,118.0 368.0,116.0 366.0,116.0 362.0,119.6 358.0,121.1 350.0,122.5 342.0,122.6 324.0,121.5 306.0,117.7 301.9,116.0 290.0,107.6 284.0,105.7 282.0,105.7 278.0,106.8 270.0,113.0 266.0,114.9 262.0,114.4 258.6,112.0 254.3,106.0 249.0,96.0 242.5,82.0 238.7,72.0 236.5,64.0 235.5,58.0 235.2,50.0 235.9,44.0 238.0,36.1 240.8,30.0 244.6,24.0 250.0,18.1 256.0,13.4 262.0,10.1 270.0,7.3ZM188.5,120.0 192.0,119.5 196.0,120.5 200.0,122.4 202.0,124.1 204.0,126.4 205.3,130.0 204.9,136.0 202.0,140.3 196.0,144.7 192.0,146.7 186.0,147.7 182.0,147.7 178.0,146.9 174.2,144.0 173.2,142.0 172.8,138.0 173.3,134.0 175.8,130.0Z" fill="#ffb3b3" fill-rule="evenodd"/>
<path d="M279.0,30.0 288.0,30.3 296.0,32.0 304.0,34.9 326.0,44.3 362.0,54.8 370.0,58.1 394.0,69.7 400.0,73.4 406.9,80.0 413.2,88.0 429.9,114.0 434.0,122.0 436.8,130.0 437.4,136.0 436.7,144.0 433.9,152.0 432.0,154.3 430.0,154.7 422.0,152.2 410.0,147.1 406.0,145.9 402.0,145.7 396.0,147.3 394.0,147.4 392.0,145.9 388.0,139.3 382.0,125.6 380.0,118.1 376.0,98.0 374.0,100.9 373.8,102.0 368.9,106.0 367.8,108.0 364.0,111.4 361.8,116.0 360.0,118.0 356.0,119.6 350.0,120.6 342.0,121.0 326.0,120.5 306.0,116.9 302.0,115.2 290.0,106.3 284.0,104.3 280.0,104.6 278.0,105.4 274.0,108.3 270.3,112.0 266.9,114.0 264.0,114.3 260.0,112.3 256.7,108.0 253.9,102.0 248.0,84.0 245.9,70.0 245.9,64.0 246.8,58.0 248.0,53.7 250.5,48.0 254.0,42.8 258.0,38.6 262.0,35.6 268.0,32.5 274.0,30.7ZM188.1,122.0 190.0,121.2 194.0,121.5 198.0,122.6 202.0,125.1 204.0,127.9 204.7,130.0 204.8,134.0 204.3,136.0 201.4,140.0 194.0,145.0 188.0,146.7 180.0,146.2 176.1,144.0 174.9,142.0 174.3,138.0 174.8,134.0 176.0,131.9Z" fill="#ffa2a2" fill-rule="evenodd"/>
<path d="M279.5,48.0 286.0,48.3 292.0,49.7 310.0,57.3 316.0,59.2 340.0,61.9 356.0,65.1 366.0,68.9 372.0,73.0 374.8,76.0 376.5,80.0 375.1,88.0 373.4,92.0 370.1,96.0 368.7,100.0 364.0,104.6 360.7,114.0 359.4,116.0 356.0,117.8 352.0,118.7 336.0,119.6 324.0,119.2 308.0,116.5 302.0,114.3 290.0,104.9 284.0,102.6 280.0,102.9 276.0,104.9 268.0,112.7 266.0,113.6 264.0,113.6 260.9,112.0 259.1,110.0 257.1,106.0 255.2,100.0 253.5,92.0 252.5,80.0 253.0,74.0 254.0,69.0 255.9,64.0 258.0,60.1 264.0,53.6 268.0,51.0 272.0,49.4ZM387.6,84.0 390.0,82.7 394.0,82.6 396.0,83.4 398.0,86.4 398.8,92.0 398.3,96.0 396.8,100.0 394.0,102.9 392.0,103.4 390.0,103.0 388.0,101.5 387.2,100.0 386.3,96.0 386.2,92.0 386.9,86.0ZM187.3,124.0 190.0,122.6 192.0,122.5 196.0,123.1 200.0,124.6 202.0,126.2 204.1,130.0 204.2,134.0 203.6,136.0 202.5,138.0 200.0,140.3 196.0,143.1 192.0,145.0 188.0,145.8 180.0,145.1 178.0,144.0 176.0,141.1 175.4,138.0 176.1,134.0 178.0,131.5Z" fill="#ff9191" fill-rule="evenodd"/>
<path d="M277.2,62.0 282.0,61.7 288.0,62.5 308.0,70.0 314.0,70.5 326.0,69.4 334.0,69.6 352.0,73.1 358.0,74.9 362.0,76.7 366.0,79.7 367.8,82.0 368.9,84.0 369.8,88.0 369.6,90.0 366.1,98.0 362.0,104.5 358.7,114.0 356.0,116.1 352.0,117.1 336.0,118.3 324.0,118.0 308.0,115.7 304.0,114.5 302.0,113.3 292.0,104.8 288.0,102.1 286.0,101.2 282.0,100.5 280.0,100.8 276.0,102.8 267.9,112.0 266.0,112.8 264.0,112.8 262.2,112.0 259.2,108.0 257.3,100.0 256.9,90.0 258.4,80.0 262.0,72.0 266.0,67.3 272.0,63.5ZM189.7,124.0 192.0,123.7 196.0,124.1 198.0,124.6 200.7,126.0 202.6,128.0 203.4,130.0 203.7,132.0 203.0,136.0 200.0,139.5 196.0,142.3 192.0,144.2 186.0,145.1 180.0,143.9 177.7,142.0 176.8,140.0 176.6,136.0 177.2,134.0 184.0,127.6Z" fill="#ff8080" fill-rule="evenodd"/>
<path d="M275.2,74.0 280.0,72.9 286.0,72.9 292.0,74.0 304.0,77.3 308.0,77.6 326.0,74.6 330.0,74.5 336.0,75.3 354.0,80.2 360.0,82.8 363.5,86.0 364.6,88.0 365.1,90.0 364.6,94.0 358.0,112.2 356.0,114.2 352.0,115.5 344.0,116.5 328.0,117.3 306.0,114.4 301.6,112.0 288.0,100.0 286.0,98.8 282.0,97.8 278.0,98.5 276.0,99.7 274.0,101.7 268.7,110.0 266.0,112.0 264.0,111.9 261.6,110.0 260.6,108.0 259.7,104.0 260.0,96.0 261.4,90.0 264.0,83.7 266.6,80.0 270.0,76.8ZM187.8,126.0 190.0,124.9 192.0,124.8 198.0,125.4 200.0,126.4 201.8,128.0 202.8,130.0 203.1,132.0 202.3,136.0 200.8,138.0 198.3,140.0 192.0,143.5 188.0,144.3 182.0,143.6 179.1,142.0 178.0,140.2 177.6,136.0 178.3,134.0 180.0,132.2Z" fill="#ff6e6e" fill-rule="evenodd"/>
<path d="M325.7,78.0 330.0,77.9 336.0,78.9 354.0,85.0 358.0,87.0 360.0,88.7 361.6,92.0 361.4,96.0 358.0,108.4 356.0,112.0 354.0,113.2 348.0,114.6 330.0,116.2 322.0,115.8 306.0,113.4 303.1,112.0 300.6,110.0 286.0,95.0 282.0,92.3 278.0,91.0 276.0,91.5 274.0,93.4 272.0,97.2 268.6,108.0 267.1,110.0 266.0,110.7 264.0,110.6 262.0,108.1 262.1,102.0 264.0,97.1 266.0,94.3 270.0,91.0 274.0,89.2 282.1,84.0 287.8,82.0 292.0,81.4 306.6,82.0ZM190.0,126.0 196.0,125.9 200.0,127.3 202.0,129.8 202.5,132.0 201.6,136.0 198.0,139.4 192.0,142.7 186.0,143.5 180.8,142.0 179.1,140.0 178.5,138.0 178.6,136.0 179.5,134.0 186.0,128.1Z" fill="#ff5e5e" fill-rule="evenodd"/>
<path d="M317.5,82.0 326.0,80.3 334.0,80.9 350.0,86.7 356.1,90.0 358.0,92.0 358.9,96.0 357.1,106.0 355.2,110.0 352.4,112.0 346.0,113.6 328.0,115.2 308.0,112.9 305.0,112.0 302.0,110.0 296.1,104.0 291.9,98.0 290.1,94.0 290.3,90.0 292.0,87.7 296.0,85.8 306.0,84.6ZM264.9,106.0 266.0,105.1 266.4,106.0 266.0,108.3 264.9,108.0ZM187.7,128.0 192.0,126.7 198.0,127.2 199.6,128.0 201.2,130.0 201.8,132.0 200.7,136.0 196.0,140.0 191.9,142.0 188.0,142.8 184.0,142.3 182.0,141.5 180.0,139.3 179.6,136.0 180.7,134.0Z" fill="#ff4c4c" fill-rule="evenodd"/>
<path d="M316.4,84.0 324.0,82.3 332.0,82.4 344.0,86.4 351.5,90.0 354.1,92.0 355.7,94.0 356.3,96.0 356.0,103.0 354.3,108.0 352.0,110.1 346.0,112.3 330.0,114.2 322.0,113.9 310.0,112.3 304.0,110.3 299.3,106.0 294.9,100.0 293.5,96.0 293.9,92.0 295.3,90.0 298.0,88.4ZM190.0,128.0 196.0,127.8 198.0,128.1 200.0,129.6 200.9,132.0 200.7,134.0 199.8,136.0 194.4,140.0 190.0,141.7 186.0,141.8 182.0,140.1 180.8,138.0 180.9,136.0 182.0,134.0 186.2,130.0Z" fill="#ff3c3c" fill-rule="evenodd"/>
<path d="M322.7,84.0 328.0,83.5 334.0,84.6 344.0,88.2 350.8,92.0 352.8,94.0 354.2,98.0 353.7,104.0 352.0,107.4 348.4,110.0 344.0,111.4 328.0,113.3 320.0,112.8 308.0,110.8 305.8,110.0 302.0,107.3 298.9,104.0 296.5,100.0 295.6,96.0 297.0,92.0 299.6,90.0 302.0,89.0ZM187.9,130.0 192.0,128.8 198.0,129.4 199.9,132.0 199.7,134.0 198.5,136.0 196.1,138.0 192.0,140.2 188.0,140.9 184.0,140.0 182.3,138.0 182.3,136.0 185.4,132.0Z" fill="#ff2a2a" fill-rule="evenodd"/>
<path d="M319.4,86.0 326.0,85.0 332.0,85.6 342.0,89.0 347.9,92.0 350.1,94.0 351.9,98.0 351.9,102.0 350.3,106.0 348.4,108.0 344.0,110.1 328.0,112.3 322.0,112.1 310.0,110.2 304.0,107.6 300.3,104.0 298.0,100.0 297.4,96.0 298.1,94.0 300.0,91.8 303.4,90.0ZM191.5,130.0 196.0,130.1 198.0,131.4 198.3,134.0 196.9,136.0 194.0,138.1 190.0,139.6 188.0,139.7 184.4,138.0 184.1,136.0 185.2,134.0 188.0,131.3Z" fill="#ff1a1a" fill-rule="evenodd"/>
<path d="M315.9,88.0 322.0,86.7 328.0,86.4 334.0,87.8 344.0,91.7 347.4,94.0 348.9,96.0 349.7,100.0 348.8,104.0 347.6,106.0 344.0,108.6 338.2,110.0 330.0,111.2 320.0,110.8 310.0,109.0 306.0,107.5 301.6,104.0 299.3,100.0 299.0,96.0 300.0,94.0 302.1,92.0 306.0,90.3ZM189.7,132.0 192.0,131.5 195.4,132.0 196.2,134.0 194.6,136.0 192.0,137.5 190.0,138.1 188.0,137.8 186.6,136.0 187.4,134.0Z" fill="#ff0808" fill-rule="evenodd"/>
<path d="M322.1,88.0 326.0,87.7 330.0,88.2 340.6,92.0 344.0,93.9 346.1,96.0 346.9,98.0 347.0,100.0 346.0,104.0 344.0,106.4 340.4,108.0 330.7,110.0 324.0,110.2 318.0,109.5 308.0,107.2 304.0,104.9 301.5,102.0 300.2,98.0 300.5,96.0 301.7,94.0 304.0,92.2 308.0,90.7Z" fill="#fb0000" fill-rule="evenodd"/>
<path d="M317.5,90.0 324.0,89.2 328.0,89.4 332.0,90.5 339.8,94.0 342.3,96.0 343.5,98.0 343.5,102.0 342.5,104.0 339.9,106.0 333.9,108.0 324.0,109.1 318.0,108.5 310.0,106.7 306.0,105.0 304.0,103.5 301.8,100.0 301.5,98.0 301.9,96.0 303.3,94.0 308.0,91.6Z" fill="#f20000" fill-rule="evenodd"/>
<path d="M311.5,92.0 324.0,90.6 330.0,91.7 334.8,94.0 337.6,96.0 339.2,98.0 339.7,100.0 339.3,102.0 337.7,104.0 334.0,106.0 326.0,107.9 320.0,107.8 310.0,105.6 306.3,104.0 304.0,102.0 302.9,100.0 302.6,98.0 303.2,96.0 305.0,94.0 308.0,92.6Z" fill="#ea0000" fill-rule="evenodd"/>
<path d="M321.4,92.0 328.0,93.0 332.9,96.0 334.5,98.0 335.0,100.0 334.4,102.0 332.3,104.0 327.9,106.0 324.0,106.7 320.0,106.6 308.0,103.7 305.5,102.0 304.1,100.0 303.8,98.0 304.4,96.0 306.8,94.0 310.0,93.1Z" fill="#e10000" fill-rule="evenodd"/>
<path d="M315.0,94.0 322.0,93.4 326.0,94.3 328.8,96.0 330.3,98.0 330.7,100.0 329.9,102.0 326.0,104.6 320.0,105.4 310.0,103.3 307.2,102.0 305.4,100.0 305.0,98.0 306.0,95.8 308.0,94.6 310.0,94.1Z" fill="#d90000" fill-rule="evenodd"/>
<path d="M307.6,96.0 310.0,95.3 322.0,95.0 324.9,96.0 326.0,97.0 326.9,98.0 327.2,100.0 326.2,102.0 324.0,103.4 322.0,104.1 318.0,103.9 310.0,102.0 308.0,101.0 306.9,100.0 306.2,98.0Z" fill="#d00000" fill-rule="evenodd"/>
<path d="M308.0,98.0 310.0,97.0 314.0,97.7 320.0,96.6 322.0,97.0 323.6,98.0 324.2,100.0 322.5,102.0 320.0,102.5 317.1,102.0 314.0,100.6 310.0,100.2Z" fill="#c80000" fill-rule="evenodd"/>
<path d="M212.8,98.0 218.0,96.3 222.0,96.1 226.0,96.5 232.0,98.3 242.0,103.7 256.0,114.9 262.0,117.9 266.0,118.1 268.0,117.6 276.0,113.0 280.0,111.5 286.0,111.6 292.0,114.2 302.0,120.5 312.0,124.0 320.0,129.0 332.0,131.6 335.1,134.0 334.8,136.0 325.4,148.0 323.6,152.0 323.0,156.0 324.4,160.0 330.2,168.0 334.0,176.0 336.9,192.0 337.2,196.0 336.7,202.0 334.0,214.0 331.8,220.0 325.7,230.0 320.0,236.5 316.0,239.2 306.0,243.4 294.8,244.0 276.0,246.8 261.0,246.0 196.0,240.0 188.0,240.5 172.0,242.6 150.0,247.0 138.0,247.7 130.0,246.9 122.0,245.0 116.0,242.4 113.1,240.0 110.7,236.0 108.0,228.8 102.0,200.0 94.6,174.0 92.0,169.5 84.0,159.2 78.2,150.0 71.8,142.0 68.6,136.0 65.4,128.0 63.1,120.0 62.7,116.0 63.7,110.0 66.0,104.0 68.0,101.9 72.0,100.2 80.0,99.5 92.0,100.8 100.0,103.2 101.2,104.0 102.5,106.0 102.7,114.0 104.7,120.0 108.0,124.8 112.0,128.5 120.0,133.4 137.4,142.0 156.5,154.0 166.0,157.0 176.0,157.7 184.0,156.5 192.0,153.3 198.0,148.8 206.0,140.3 207.8,136.0 208.7,130.0 208.1,124.0 206.0,114.0 205.9,108.0 207.0,104.0 208.2,102.0 210.0,99.9ZM595.3,252.0 600.0,251.5 606.0,251.9 626.0,255.4 626.0,322.0 456.7,322.0 458.0,311.4 459.0,308.0 461.2,304.0 464.7,300.0 471.3,294.0 482.0,285.7 486.0,284.0 490.0,283.2 496.0,283.4 512.0,285.5 520.0,285.8 532.0,284.9 542.0,282.7 552.0,279.1 560.0,275.0 570.4,268.0 586.0,255.9 590.0,253.7Z" fill="#e5e5ff" fill-rule="evenodd"/>
<path d="M217.2,102.0 222.0,100.6 226.0,100.4 230.0,101.0 236.0,102.8 244.0,107.0 256.1,116.0 262.0,118.6 266.0,118.8 268.0,118.3 276.0,113.8 280.0,112.4 284.0,112.2 288.0,113.2 302.0,121.5 312.5,126.0 322.7,136.0 322.6,138.0 316.0,148.5 315.0,152.0 314.9,156.0 315.9,160.0 320.3,168.0 322.5,176.0 323.8,188.0 323.9,198.0 322.8,204.0 320.0,212.4 318.0,216.4 314.0,220.7 306.0,224.9 298.0,224.0 284.0,224.4 264.0,223.1 254.0,221.6 198.0,210.5 166.0,208.0 157.6,206.0 146.0,199.8 132.0,187.4 118.0,179.2 110.0,172.4 90.0,150.8 78.0,136.3 70.0,124.4 67.8,120.0 66.9,116.0 67.6,112.0 70.0,108.1 72.7,106.0 76.0,104.8 80.0,104.3 84.0,104.6 89.4,106.0 94.0,108.0 96.0,109.6 97.7,112.0 100.8,120.0 104.0,126.1 108.0,131.2 112.0,135.2 128.9,148.0 140.0,158.5 144.0,161.5 150.0,163.9 156.0,164.2 178.0,161.0 184.0,159.6 192.0,155.6 198.0,150.5 205.7,142.0 207.8,138.0 209.4,130.0 209.1,116.0 209.5,112.0 212.1,106.0 214.0,104.0Z" fill="#d4d4ff" fill-rule="evenodd"/>
<path d="M225.5,104.0 232.0,104.3 240.0,106.8 248.0,111.2 256.0,116.8 262.0,119.4 266.0,119.5 268.0,119.0 276.0,114.6 280.0,113.3 286.0,113.6 291.5,116.0 302.0,122.8 308.7,126.0 311.0,128.0 311.9,132.0 311.5,136.0 307.7,152.0 305.7,158.0 305.8,160.0 307.5,162.0 312.0,164.7 313.2,168.0 309.7,188.0 308.8,200.0 308.0,202.5 306.0,204.7 304.0,205.6 302.0,205.4 292.0,200.7 289.6,202.0 280.0,204.0 264.0,204.3 210.0,197.4 180.0,187.4 174.2,184.0 170.0,180.0 168.5,178.0 167.1,174.0 167.9,170.0 169.7,168.0 172.0,166.7 182.0,164.4 186.0,162.8 192.0,158.9 196.0,155.2 206.0,142.8 208.0,139.3 210.2,130.0 211.7,116.0 214.0,110.5 216.0,108.1 218.8,106.0 222.0,104.6ZM298.0,185.8 294.0,190.0 291.2,194.0 290.5,196.0 292.0,199.0 294.0,198.5 296.0,196.8 300.9,190.0 301.5,188.0 301.1,186.0 300.0,185.2ZM76.8,112.0 80.0,110.8 84.0,111.0 90.0,113.6 92.8,116.0 96.0,122.0 102.4,138.0 103.0,140.0 102.0,141.9 98.0,139.8 90.0,133.9 84.0,128.5 76.1,120.0 73.8,116.0 74.4,114.0Z" fill="#c3c3ff" fill-rule="evenodd"/>
<path d="M223.1,108.0 230.0,106.8 238.0,108.1 246.0,111.4 258.0,118.8 264.0,120.3 270.0,119.0 278.0,114.6 282.0,114.0 286.0,114.6 292.9,118.0 304.5,126.0 306.6,128.0 307.1,130.0 306.6,132.0 302.2,148.0 295.7,164.0 293.4,172.0 290.0,176.7 284.0,181.2 278.0,183.6 224.0,188.1 218.0,188.1 214.0,187.2 206.4,184.0 196.0,180.9 188.5,178.0 185.0,176.0 183.5,174.0 184.3,172.0 196.0,159.2 202.9,148.0 208.0,141.1 210.7,132.0 213.2,120.0 215.7,114.0 219.4,110.0Z" fill="#b2b2ff" fill-rule="evenodd"/>
<path d="M227.0,110.0 234.0,109.5 242.0,111.1 248.0,113.7 258.0,119.6 264.0,121.1 268.0,120.6 278.0,115.5 282.0,115.0 286.0,115.7 290.9,118.0 298.7,124.0 302.0,128.0 302.0,130.0 297.0,142.0 292.0,149.7 288.0,154.7 282.0,159.3 264.0,169.3 244.0,177.7 238.0,179.0 220.0,180.2 210.0,179.0 202.0,177.0 198.0,174.4 196.3,172.0 195.8,170.0 196.7,166.0 198.7,162.0 203.1,150.0 208.0,142.8 209.3,140.0 214.0,123.6 216.0,118.7 220.0,113.5 224.0,111.0Z" fill="#a2a2ff" fill-rule="evenodd"/>
<path d="M230.7,112.0 238.0,112.0 244.0,113.3 248.0,114.9 258.0,120.5 264.0,121.9 268.0,121.5 270.0,120.7 278.0,116.3 280.0,116.0 284.0,116.2 288.6,118.0 293.8,122.0 296.8,126.0 297.0,128.0 290.0,139.4 284.6,146.0 280.0,150.1 270.0,156.4 262.0,159.4 254.0,163.3 244.0,165.3 228.0,167.4 214.0,165.6 210.0,163.9 205.0,160.0 203.9,158.0 204.0,152.0 204.6,150.0 209.5,142.0 212.0,133.0 216.0,123.3 218.0,119.9 220.0,117.4 224.0,114.2Z" fill="#9090ff" fill-rule="evenodd"/>
<path d="M233.7,114.0 238.0,113.8 244.0,114.7 248.0,116.1 256.0,120.7 264.0,122.9 266.0,122.9 270.0,121.6 278.0,117.3 280.0,117.0 284.0,117.4 288.9,120.0 290.9,122.0 291.8,124.0 291.7,126.0 284.0,136.8 278.0,142.7 268.0,149.9 252.0,157.5 240.0,161.1 230.0,162.2 222.0,161.3 214.0,159.0 208.0,155.3 206.0,152.0 206.2,150.0 210.5,142.0 212.0,135.7 214.0,130.7 218.0,123.7 222.0,119.0 228.0,115.4Z" fill="#8080ff" fill-rule="evenodd"/>
<path d="M235.6,116.0 242.0,115.8 246.0,116.6 256.0,121.7 264.0,123.9 268.0,123.5 270.0,122.8 278.0,118.3 282.0,118.3 286.0,120.0 287.6,122.0 287.9,124.0 287.1,126.0 284.0,130.2 276.0,138.5 266.0,145.1 250.0,152.9 238.0,157.1 230.0,158.3 220.0,157.5 216.0,156.4 212.0,154.4 208.9,152.0 208.4,150.0 211.1,144.0 213.6,134.0 216.0,129.9 220.0,124.5 224.0,120.7 230.0,117.4Z" fill="#6e6eff" fill-rule="evenodd"/>
<path d="M237.0,118.0 242.0,117.4 246.0,117.8 256.0,122.9 264.0,125.2 268.0,124.9 272.0,123.1 276.9,120.0 280.0,119.5 282.1,120.0 284.0,121.8 284.1,124.0 281.6,128.0 278.0,131.8 270.0,138.1 258.0,144.0 238.4,152.0 232.0,154.0 224.0,154.8 218.0,154.0 213.4,152.0 211.7,150.0 211.7,148.0 212.9,144.0 213.9,136.0 216.0,132.4 222.0,125.7 226.0,122.5 230.6,120.0Z" fill="#5e5eff" fill-rule="evenodd"/>
<path d="M238.4,120.0 242.0,119.2 246.0,119.3 248.2,120.0 254.0,123.5 264.0,126.9 266.0,127.2 270.0,126.3 278.0,121.8 279.3,122.0 280.1,124.0 277.0,128.0 272.2,132.0 264.0,136.5 244.0,143.6 230.0,149.6 224.0,150.6 220.0,150.4 218.0,149.7 216.1,148.0 215.5,146.0 215.1,138.0 216.0,135.2 220.0,130.8 226.0,126.0 233.2,122.0Z" fill="#4d4dff" fill-rule="evenodd"/>
<path d="M240.5,122.0 244.0,121.0 248.0,121.7 254.0,125.5 260.4,128.0 262.0,130.0 261.0,132.0 258.0,133.5 242.0,137.0 230.0,143.7 224.0,144.5 222.0,144.2 220.0,143.2 217.9,140.0 217.7,138.0 218.6,136.0 226.0,129.9Z" fill="#3c3cff" fill-rule="evenodd"/>
<path d="M242.8,126.0 244.0,124.9 246.0,124.3 248.4,126.0 248.8,128.0 246.0,129.2 244.0,129.0 242.5,128.0ZM228.1,136.0 230.2,136.0Z" fill="#2b2bff" fill-rule="evenodd"/>
</g>
<path d="M140.6,-0.6 138.9,4.8 126.4,8.1 127.2,11.1 134.7,11.8 135.6,15.1 143.9,16.1 153.9,13.5 157.6,14.8 154.8,17.8 144.8,20.1 153.1,24.5 152.3,26.2 140.6,24.8 136.4,28.5 132.2,31.8 125.6,35.8 121.4,39.9 123.0,44.0 132.2,45.7 140.6,44.0 143.4,48.7 138.9,46.9 127.2,49.2 122.2,53.2 118.9,59.1 116.4,64.1 120.5,66.9 116.4,66.9 113.0,70.8 112.2,75.3 112.3,76.1 106.8,77.6 111.8,79.3 113.0,83.1 115.3,87.2 118.3,90.2 120.0,92.7 118.3,97.0 115.6,94.4 112.6,90.0 110.0,86.7 108.8,89.2 111.6,93.2 115.0,98.2 118.6,101.2 117.8,103.2 115.3,104.7 116.6,108.2 117.8,111.8 115.8,115.3 113.6,118.1 112.8,120.1 117.3,120.5 123.9,119.5 127.1,118.8 128.9,115.3 129.1,112.1 131.1,110.5 133.1,112.1 132.4,115.8 134.4,117.5 139.1,117.8 140.7,118.9 137.4,120.1 132.9,120.5 127.9,121.1 123.9,121.8 119.8,122.5 113.8,123.8 111.8,125.3 112.3,128.8 113.3,132.3 114.8,136.4 117.8,139.4 121.3,140.2 123.9,143.4 127.9,142.4 128.9,145.4 124.9,145.4 122.8,147.9 121.8,152.4 123.9,156.5 122.8,160.5 123.9,163.0 126.9,164.0 127.4,168.0 130.9,167.5 134.9,167.0 135.9,162.5 137.9,158.5 142.9,157.5 145.4,154.4 147.0,151.4 149.0,147.9 150.2,143.4 151.0,140.9 153.0,141.4 153.8,145.4 153.0,149.4 152.0,152.4 156.0,153.4 160.0,154.4 162.5,156.5 164.0,152.9 167.0,150.4 169.0,146.9 171.6,143.4 173.1,139.9 175.1,136.9 180.1,133.9 186.1,130.8 190.9,130.1 193.1,127.3 195.2,124.8 198.7,125.3 202.2,126.8 204.2,129.3 202.2,133.4 199.2,131.3 197.2,135.4 194.1,139.4 196.2,143.4 199.2,147.4 202.2,151.4 206.2,153.4 208.2,150.4 212.2,147.4 214.2,144.4 210.2,143.4 207.2,141.4 209.2,139.4 214.2,138.4 218.2,140.4 220.3,137.4 218.2,133.4 214.2,129.3 212.2,125.3 211.2,122.3 212.2,119.8 207.2,117.8 214.2,116.3 220.3,113.8 222.3,110.8 223.8,115.3 224.3,120.3 226.3,125.3 225.3,131.3 228.3,135.4 233.3,137.4 234.3,133.4 237.3,129.3 243.4,126.3 247.4,123.3 246.4,117.3 242.4,115.3 238.3,116.3 234.3,114.3 230.3,111.3 228.3,107.2 230.8,105.7 234.3,110.3 238.3,108.2 241.3,105.2 242.4,101.7 245.4,103.2 250.4,104.2 253.7,106.3 258.2,105.3 260.7,101.3 261.7,98.8 263.7,100.3 266.7,101.3 269.2,97.3 272.3,95.3 274.8,92.5 275.6,95.3 275.0,101.3 275.3,107.3 279.8,108.8 281.8,110.8 286.8,109.8 289.3,107.8 291.8,106.3 293.6,107.6 296.1,108.0 298.3,106.8 300.4,105.5 302.1,108.0 299.9,110.2 301.2,111.9 304.6,112.7 308.0,113.5 310.5,112.7 310.5,110.2 310.9,106.8 309.7,103.4 309.2,101.7 311.4,101.3 314.7,100.9 316.4,99.2 316.0,96.6 313.9,95.4 309.7,96.2 306.3,97.9 303.7,99.6 305.0,97.1 308.0,95.4 312.2,93.2 313.9,91.1 317.3,90.3 321.5,91.1 324.9,92.8 326.6,94.9 330.0,94.9 330.4,94.1 328.7,93.2 327.4,89.9 325.7,86.9 324.0,83.9 325.7,83.1 327.4,83.1 328.3,85.6 331.7,86.9 334.2,86.5 335.5,88.2 335.9,90.3 338.4,90.7 341.0,91.6 343.5,89.9 344.3,92.0 348.6,92.0 352.8,91.6 354.5,89.4 356.2,91.1 358.7,88.2 361.3,87.3 362.1,90.7 361.3,94.9 363.4,95.8 366.3,93.7 368.9,90.3 371.0,88.6 373.6,89.4 376.2,87.2 380.2,85.2 384.2,82.2 387.2,78.2 388.8,74.2 391.3,71.2 396.3,68.2 398.3,64.1 399.3,59.1 402.3,55.1 404.3,53.1 408.0,41.5 410.5,33.2 413.0,24.8 415.5,14.8 418.8,6.5 421.4,-0.6 412.2,-0.6 408.0,4.8 403.8,-0.6Z M86.2,156.5 88.7,153.4 92.7,151.4 96.7,148.4 99.8,145.4 100.8,142.4 103.8,143.4 107.8,144.9 111.3,146.9 112.8,150.4 110.8,154.4 107.8,158.0 103.8,160.0 98.7,161.5 93.7,162.5 90.2,162.0 88.2,159.5Z M102.3,125.3 105.8,124.8 108.8,127.3 109.8,132.3 110.8,136.4 107.8,139.4 104.8,138.4 103.3,134.4 102.3,130.3Z M81.7,93.2 83.7,89.7 87.7,87.2 92.2,86.7 92.7,89.2 89.7,91.2 91.7,93.2 96.7,91.2 100.8,93.2 101.8,96.7 98.7,98.2 93.7,97.2 90.7,97.7 86.7,95.7 83.7,95.7Z M101.8,89.2 105.8,87.2 108.8,86.2 110.8,89.2 108.8,93.2 105.8,94.7 103.3,92.7Z M75.1,112.8 78.7,109.8 82.7,107.7 85.2,110.3 84.7,113.3 87.7,112.8 91.2,112.3 92.2,116.3 90.7,119.8 92.7,122.3 93.2,127.3 90.2,128.3 86.7,126.3 85.2,122.3 85.7,118.8 82.7,116.3 78.7,114.3Z M105.3,103.2 110.8,102.2 117.8,101.7 115.8,105.2 110.8,107.2 106.8,106.7Z M98.2,113.8 103.8,111.8 107.8,110.3 111.3,113.3 110.3,117.3 105.8,116.3 101.8,115.8Z M65.6,123.3 69.6,121.3 77.2,120.8 76.7,123.3 73.6,124.3 76.7,127.3 77.2,131.3 73.6,133.4 69.6,132.3 67.1,129.3 68.6,126.3 66.1,125.3Z M77.7,137.4 79.7,135.4 83.7,135.9 87.2,138.4 86.7,142.4 83.7,145.4 80.2,144.9 78.2,141.4Z M78.2,167.0 81.2,165.5 85.2,166.5 86.2,169.0 82.7,170.0 79.2,169.5Z M124.9,181.6 127.9,179.5 129.9,174.5 133.9,174.0 135.9,177.5 138.4,178.0 141.9,180.6 141.4,184.6 138.4,185.1 136.9,181.6 133.9,181.6 129.9,183.6 126.9,185.1 124.9,183.6Z M158.0,177.5 160.5,175.5 164.0,176.0 165.8,179.0 164.0,182.1 160.5,182.6 158.0,180.6Z M198.7,190.6 201.7,190.1 204.2,192.6 204.2,196.1 201.2,195.1 199.2,193.1Z M138.4,161.5 140.9,159.0 144.9,158.5 148.0,161.5 150.0,165.5 149.0,168.5 144.9,168.5 140.9,166.5 138.9,164.0Z M150.0,157.5 153.0,154.9 158.0,154.9 160.0,157.5 157.0,159.5 153.0,160.5Z M153.0,162.5 158.0,162.0 162.5,163.5 161.5,166.5 157.0,168.0 153.5,166.0Z M171.6,161.5 175.1,159.5 179.1,160.5 182.6,163.5 179.1,166.0 176.1,166.5 174.1,164.0Z M183.1,150.9 187.1,148.9 193.1,149.4 196.2,151.9 194.7,154.9 189.1,155.9 184.6,154.4Z M215.7,151.4 220.3,149.9 224.3,152.4 223.8,155.9 219.8,157.5 216.7,155.4Z M240.3,144.9 244.4,143.4 248.4,146.4 249.9,149.9 246.4,149.9 242.9,147.9Z M243.4,135.4 245.4,131.3 247.4,128.3 249.9,131.3 251.4,136.4 249.4,140.4 245.9,139.9Z M184.1,143.4 185.6,139.4 189.1,135.9 191.6,137.4 192.1,143.4 190.1,146.9 186.6,146.9Z M97.2,106.7 98.7,106.0 100.6,107.0 100.3,108.7 98.5,109.5 97.2,108.4Z M255.2,109.3 258.7,107.3 261.7,109.3 261.2,113.4 262.7,117.4 266.7,118.4 263.7,119.9 259.7,122.4 258.7,127.9 256.2,127.4 255.2,123.4 253.2,118.4 252.7,113.4Z M266.7,112.3 269.8,108.8 273.3,111.3 275.3,115.4 274.8,119.4 275.3,123.4 274.3,129.4 271.8,130.4 267.7,129.9 265.7,126.4 264.7,122.4 267.7,118.4 265.7,115.4Z M247.7,127.9 249.7,130.4 251.2,134.4 252.2,138.5 248.7,141.0 244.6,139.5 243.1,135.4 245.1,132.4 246.7,130.4Z M240.1,145.0 243.6,143.5 247.2,146.5 249.2,150.0 245.1,150.0 242.1,148.0Z M288.3,116.4 290.8,115.4 293.4,117.4 292.8,119.9 289.8,120.2 288.3,118.4Z M289.8,134.4 293.9,133.4 297.4,134.9 296.9,138.0 292.8,138.5 290.3,137.0Z M92.1,263.8 93.8,258.8 98.8,253.8 104.7,248.8 113.9,245.5 125.6,241.6 138.9,239.1 152.3,237.9 158.1,239.6 164.0,243.0 167.3,247.1 166.5,253.0 162.3,258.0 157.3,263.0 147.3,266.3 137.2,269.7 125.6,271.0 113.9,269.7 107.2,271.3 102.2,274.4 97.2,271.3 93.5,268.0Z M199.0,190.3 202.4,189.5 204.9,193.7 204.1,197.0 200.7,195.4Z M100.2,44.0 103.0,41.2 107.2,41.2 106.3,44.0 102.2,46.5Z M17.8,131.7 22.0,128.7 25.3,130.1 22.8,134.2 19.5,136.7Z M620.8,130.4 618.3,132.3 611.9,136.1 608.1,141.2 601.8,145.0 599.3,150.0 594.2,153.8 586.6,157.6 584.0,154.5 577.7,155.1 573.9,158.9 571.3,155.7 561.2,157.0 558.7,154.5 553.6,153.8 549.8,157.6 546.0,162.7 543.4,169.1 547.2,176.7 548.5,181.8 544.7,184.3 543.4,189.4 547.2,194.4 545.3,200.8 548.5,203.9 552.5,199.5 559.2,195.4 569.2,194.5 574.2,201.2 580.9,203.7 587.5,201.2 594.2,193.7 600.9,197.0 609.3,196.2 619.6,194.5Z M549.1,205.4 540.8,203.7 534.1,202.0 525.7,204.5 519.1,207.9 510.7,209.5 505.7,213.7 504.0,217.9 506.5,220.4 500.7,223.7 495.7,227.9 489.0,227.1 491.5,230.4 498.2,230.4 497.4,233.3 490.7,234.6 487.3,231.3 483.2,228.8 479.0,231.3 475.6,234.6 469.8,237.9 472.3,241.3 477.3,240.4 468.1,244.6 463.9,247.1 459.8,248.8 457.3,243.0 450.6,240.4 446.4,242.1 445.6,246.3 441.4,248.8 443.1,253.0 448.9,256.3 445.6,261.3 446.4,265.5 442.2,259.7 435.6,257.2 428.9,255.5 427.2,258.0 420.5,258.0 419.7,263.0 418.0,269.7 423.9,273.0 428.0,276.4 433.0,279.7 430.5,283.0 428.0,288.1 426.4,294.7 428.0,301.4 432.2,306.4 437.2,311.4 440.6,316.4 497.4,316.4 492.3,306.4 480.7,304.8 470.6,304.8 477.3,298.1 480.7,294.7 477.3,288.1 474.0,281.4 484.0,274.7 489.0,278.0 497.4,279.7 502.4,288.1 503.2,296.4 510.7,306.4 519.1,316.4 619.6,316.4 619.6,268.0 606.8,266.3 605.1,261.3 607.6,257.2 619.6,256.3 619.6,227.1 607.6,227.9 600.9,234.6 590.9,237.1 580.9,235.4 570.8,232.9 564.2,229.6 559.2,222.9 555.8,214.6 557.5,211.2 552.5,204.5Z M430.5,208.7 437.2,210.4 439.7,213.7 442.2,217.9 439.7,221.2 435.6,222.1 433.0,225.4 428.9,222.1 426.4,217.9 428.0,212.9Z M442.2,247.1 445.6,246.3 448.1,249.6 446.4,253.0 443.1,251.3Z M375.0,276.4 376.5,277.1 376.9,281.6 375.8,285.3 375.0,289.0 376.5,293.4 380.6,291.9 382.4,293.4 380.2,296.4 377.2,298.2 375.0,300.1 374.3,304.5 372.8,306.7 370.6,310.4 368.7,309.7 368.4,306.7 365.4,306.0 362.4,307.5 359.5,310.4 356.5,312.7 353.6,314.9 343.2,316.0 346.2,311.9 350.6,309.7 353.6,305.3 358.0,303.8 361.0,300.1 362.4,296.4 366.9,294.2 369.1,289.0 372.1,286.0 373.5,281.6 373.9,277.9Z M371.3,266.8 373.5,264.6 376.5,263.1 379.5,264.6 379.8,266.8 377.2,269.0 373.5,268.6Z M416.5,253.5 418.7,255.7 417.2,259.4 415.0,263.8 412.0,268.3 408.3,272.0 403.9,274.9 399.4,276.4 396.8,274.9 398.0,272.0 402.4,268.3 404.6,265.3 406.8,259.4 412.0,257.2 414.2,254.9Z M412.4,246.8 415.0,244.2 418.7,244.2 420.2,246.1 417.9,247.9 414.2,248.3Z M328.4,316.0 330.6,313.0 333.6,312.7 335.1,316.0Z M315.6,113.5 317.3,111.0 320.7,109.3 324.9,108.9 328.3,110.2 330.0,110.6 329.1,108.5 327.4,106.8 327.0,105.1 329.5,104.2 332.9,102.6 335.0,101.3 334.6,99.2 335.5,97.5 337.6,97.5 338.4,99.2 338.0,101.7 338.4,104.2 339.7,106.8 339.7,109.3 338.4,111.0 340.1,111.9 340.5,114.0 338.4,115.2 339.7,117.3 341.8,119.9 341.4,121.6 339.3,120.3 337.6,118.6 335.0,119.0 333.3,121.2 335.0,123.3 336.7,125.0 335.9,126.7 333.8,127.1 331.7,129.2 329.5,130.9 328.3,129.6 326.6,128.8 324.9,129.2 324.5,127.5 325.7,126.2 324.9,124.5 323.2,123.7 322.8,121.2 324.9,119.5 326.6,117.8 326.2,116.1 324.0,116.9 322.4,119.0 319.0,118.6 317.3,116.5Z M345.2,94.9 346.9,94.1 349.4,95.4 349.8,98.3 349.0,100.9 347.7,102.1 346.5,100.4 345.6,97.5Z M300.4,116.9 302.1,115.2 306.3,114.4 309.7,114.0 311.4,116.1 310.5,119.5 310.9,121.6 307.6,121.6 305.4,120.3 303.7,119.0 300.8,118.6Z M407.8,128.3 410.6,129.5 412.0,132.3 411.2,136.8 410.1,141.3 407.8,146.4 404.4,150.4 402.7,153.8 401.6,157.1 402.2,160.0 403.9,162.8 402.2,165.6 399.9,167.3 397.1,170.1 395.4,174.1 393.1,176.9 392.0,180.9 389.7,184.8 386.9,187.6 384.1,188.5 381.3,186.5 380.7,182.0 381.8,176.3 383.0,170.7 384.4,165.6 385.8,163.9 387.5,166.7 390.9,165.6 394.3,163.9 392.0,162.8 386.9,162.2 386.3,161.1 390.3,160.0 389.7,155.4 391.4,151.5 393.1,147.0 394.3,143.0 392.0,142.5 393.1,139.6 394.8,135.1 398.8,134.0 402.2,132.3 404.4,130.0Z" fill="#808080" stroke="#000" stroke-width="2.9" stroke-linejoin="round"/>
<path d="M120.8,128.8 123.9,128.1 127.9,130.8 130.4,133.4 127.9,134.6 123.9,133.4 121.3,131.3Z M442.2,288.1 451.4,288.9 454.8,293.1 453.1,298.1 458.9,306.4 448.9,303.1 444.7,307.3 442.2,301.4 440.6,294.7 437.2,289.7Z" fill="#fff" stroke="#000" stroke-width="2.9" stroke-linejoin="round"/>
<path d="M191.8,0V315.1 M383.8,0V315.1 M575.8,0V315.1 M0,27.2H618.6 M0,123.2H618.6 M0,219.2H618.6" stroke="#b0b0b0" stroke-width="1.9" fill="none"/>
<path d="M153.0,326.0 L160.6,314.1 L192.4,263.0 L247.0,209.0 L301.8,156.1 L383.6,83.2 L486.4,1.4 L497.0,-7.0" fill="none" stroke="#000" stroke-width="3.1" stroke-dasharray="11.2,4.4"/>
<path d="M342.1,102.6 346.1,114.8 358.9,114.8 348.5,122.4 352.5,134.6 342.1,127.1 331.7,134.6 335.7,122.4 325.3,114.8 338.1,114.8Z" fill="none" stroke="#000" stroke-width="2.1" stroke-linejoin="miter"/>
</g>
<rect x="0" y="0" width="618.6" height="315.1" fill="none" stroke="#000" stroke-width="1.6"/>
<path d="M-0.2,315.1v6.6 M191.8,315.1v6.6 M383.8,315.1v6.6 M575.8,315.1v6.6 M0,27.2h-7 M0,123.2h-7 M0,219.2h-7 M0,315.1h-7" stroke="#000" stroke-width="1.6" fill="none"/>
<text x="0.1" y="351.4" font-size="31.7" text-anchor="middle">125.2°E</text>
<text x="192.1" y="351.4" font-size="31.7" text-anchor="middle">127.2°E</text>
<text x="384.1" y="351.4" font-size="31.7" text-anchor="middle">129.2°E</text>
<text x="576.1" y="351.4" font-size="31.7" text-anchor="middle">131.2°E</text>
<text x="-13.5" y="38.4" font-size="31.7" text-anchor="end">35.77°N</text>
<text x="-13.5" y="134.4" font-size="31.7" text-anchor="end">34.77°N</text>
<text x="-13.5" y="230.4" font-size="31.7" text-anchor="end">33.77°N</text>
<text x="-13.5" y="326.3" font-size="31.7" text-anchor="end">32.77°N</text>
<text x="308.7" y="-11.4" font-size="38.3" text-anchor="middle">2022-09-06 05:00:00</text>
<path d="M656.6,-53.6L668.4,-75.9L680.2,-53.6Z" fill="#800000"/>
<path d="M656.6,368.5L668.4,390.8L680.2,368.5Z" fill="#00004c"/>
<rect x="656.6" y="-54.6" width="23.6" height="424.1" fill="url(#cb)"/>
<path d="M656.6,-54.6L668.4,-75.9L680.2,-54.6L680.2,369.5L668.4,390.8L656.6,369.5Z" fill="none" stroke="#000" stroke-width="1.6" stroke-linejoin="miter"/>
<text x="694.1" y="-43.7" font-size="31.7">30</text>
<text x="694.1" y="27.0" font-size="31.7">20</text>
<text x="694.1" y="97.7" font-size="31.7">10</text>
<text x="694.1" y="168.4" font-size="31.7">0</text>
<text x="694.1" y="239.0" font-size="31.7">−10</text>
<text x="694.1" y="309.7" font-size="31.7">−20</text>
<text x="694.1" y="380.4" font-size="31.7">−30</text>
<path d="M680.2,-54.6h7 M680.2,16.1h7 M680.2,86.8h7 M680.2,157.5h7 M680.2,228.1h7 M680.2,298.8h7 M680.2,369.5h7" stroke="#000" stroke-width="1.6" fill="none"/>
<text transform="translate(777.8,157.4) rotate(-90)" font-size="31.7" text-anchor="middle">anomaly (cm)</text>
</g>
<g transform="translate(146.4,592.3)">
<g clip-path="url(#fr)">
<clipPath id="dr10"><path d="M2.5,21.0 8.0,15.5 77.0,8.0 150.0,1.0 165.0,-3.0 621.6,-3.0 621.6,307.0 430.0,308.0 253.0,310.9 118.0,313.4 34.0,312.0 20.0,308.5 17.4,283.0 8.3,150.0Z"/></clipPath>
<g clip-path="url(#dr10)">
<rect x="-2" y="-2" width="623" height="319" fill="#f6f6ff"/>
<path d="M90.9,6.0 96.0,6.1 110.0,9.6 124.0,8.8 130.0,9.0 134.3,10.0 137.1,12.0 136.3,14.0 130.0,16.5 124.0,17.5 110.0,18.2 96.0,22.5 92.0,22.8 86.0,21.5 74.0,16.6 68.0,15.0 56.0,15.5 52.0,15.3 49.5,14.0 49.1,12.0 50.0,9.3 52.0,7.4 54.0,6.5 56.0,6.3 60.0,7.4 66.0,11.5 70.0,13.0 74.0,12.5 88.0,6.7ZM256.9,10.0 264.0,8.7 270.0,8.3 282.0,9.2 294.0,12.5 306.0,18.3 318.0,27.0 328.0,36.9 338.0,50.4 345.1,64.0 348.1,72.0 350.3,80.0 353.9,102.0 353.6,104.0 352.6,106.0 347.8,110.0 347.4,114.0 348.0,118.0 351.1,128.0 363.1,158.0 365.2,166.0 364.6,174.0 358.8,204.0 356.9,226.0 357.3,234.0 360.0,243.3 365.7,258.0 378.3,280.0 381.1,286.0 382.7,292.0 385.8,310.0 387.4,314.0 391.8,322.0 64.3,322.0 66.5,310.0 69.9,266.0 73.0,254.0 78.5,236.0 81.2,230.0 96.4,204.0 100.0,196.4 110.9,164.0 118.4,138.0 122.0,132.2 126.0,127.0 143.5,108.0 148.4,100.0 151.3,92.0 160.0,59.5 162.7,52.0 166.0,45.3 168.3,42.0 172.0,38.4 178.0,35.1 188.0,32.5 210.0,30.2 218.0,28.4 226.0,24.9 244.0,14.7 250.3,12.0ZM602.5,298.0 614.0,296.7 626.0,297.3 626.0,322.0 527.4,322.0 533.0,320.0 560.0,313.0 592.0,301.0Z" fill="#fff7f7" fill-rule="evenodd"/>
<path d="M289.1,44.0 298.0,42.5 306.0,43.4 316.0,47.1 324.0,52.4 332.0,60.4 338.0,69.5 341.6,78.0 343.6,88.0 342.9,96.0 339.6,104.0 338.6,108.0 337.4,120.0 335.3,130.0 336.0,135.6 339.9,146.0 341.1,152.0 340.1,164.0 338.0,171.8 334.0,178.5 320.0,194.9 300.7,212.0 292.6,220.0 289.6,224.0 288.2,228.0 288.8,234.0 291.3,242.0 294.1,248.0 302.0,260.7 305.8,268.0 310.3,282.0 310.9,288.0 310.7,292.0 306.4,314.0 305.5,322.0 151.3,322.0 145.6,298.0 136.6,266.0 133.1,234.0 132.8,216.0 133.2,194.0 137.1,170.0 138.5,164.0 140.0,160.2 144.0,155.5 152.0,150.2 160.0,146.8 180.0,140.6 190.0,135.1 193.8,132.0 194.6,130.0 194.6,128.0 194.0,125.9 189.4,118.0 187.8,114.0 186.9,110.0 186.9,104.0 188.6,98.0 190.9,94.0 194.6,90.0 200.0,86.7 204.0,85.6 210.0,85.3 216.0,86.7 220.0,88.7 226.0,93.7 229.4,98.0 234.0,105.2 236.0,106.7 238.0,106.9 246.0,104.5 250.0,104.3 254.0,104.9 262.0,108.7 264.0,109.1 267.0,108.0 268.3,106.0 268.9,102.0 267.5,78.0 268.3,70.0 269.8,64.0 272.4,58.0 276.7,52.0 282.0,47.4Z" fill="#ffe5e5" fill-rule="evenodd"/>
<path d="M299.5,60.0 306.0,59.3 312.0,60.1 318.0,62.4 324.0,66.2 329.7,72.0 333.5,78.0 335.9,84.0 336.9,90.0 336.6,96.0 332.5,114.0 326.0,133.4 318.0,145.2 302.0,163.5 298.0,167.0 292.0,171.1 268.0,185.1 262.0,187.6 250.0,191.4 232.0,196.1 214.0,196.5 208.0,196.1 202.0,194.9 184.0,187.9 178.0,184.3 174.0,180.7 170.5,176.0 170.0,174.0 171.1,170.0 176.2,164.0 186.0,156.3 188.0,154.1 189.0,152.0 191.0,144.0 196.3,136.0 198.3,132.0 198.8,128.0 196.9,118.0 196.8,112.0 198.5,106.0 201.5,102.0 204.0,100.0 208.0,98.2 212.0,97.7 216.0,98.1 220.0,99.4 224.0,101.8 230.9,108.0 234.0,110.1 238.0,110.7 246.0,109.6 250.0,109.8 262.0,113.8 266.0,114.1 268.0,113.6 272.0,110.9 275.0,106.0 276.6,100.0 279.6,82.0 281.6,76.0 283.7,72.0 286.6,68.0 290.0,64.7 294.0,62.1Z" fill="#ffd5d5" fill-rule="evenodd"/>
<path d="M302.5,72.0 308.0,71.0 312.0,71.3 318.0,73.2 322.0,75.7 326.0,79.5 329.0,84.0 331.1,90.0 331.6,96.0 330.9,102.0 329.4,108.0 327.2,114.0 324.0,120.3 320.0,126.0 298.2,150.0 288.0,157.1 272.0,166.5 252.0,172.9 240.0,175.8 234.0,175.9 226.0,175.1 218.0,173.8 214.0,172.6 208.0,169.0 200.9,162.0 198.2,158.0 197.6,156.0 196.3,146.0 201.3,132.0 201.8,128.0 201.7,118.0 202.5,114.0 204.0,110.7 206.2,108.0 209.2,106.0 212.0,105.0 218.0,104.9 224.0,106.9 234.0,112.3 238.0,113.0 248.0,113.2 264.0,118.3 270.0,117.8 273.6,116.0 276.0,114.1 280.5,108.0 282.9,102.0 287.2,88.0 291.6,80.0 296.0,75.4Z" fill="#ffc3c3" fill-rule="evenodd"/>
<path d="M303.4,82.0 308.0,80.5 312.0,80.3 316.0,81.2 320.8,84.0 324.0,87.5 326.2,92.0 327.1,96.0 326.7,102.0 324.0,109.6 320.0,115.4 316.0,119.2 304.6,128.0 294.6,140.0 290.0,144.2 272.0,155.7 266.0,158.8 256.0,162.1 240.0,165.7 230.0,165.4 218.0,162.8 212.0,159.4 204.8,152.0 202.5,148.0 202.2,144.0 206.0,118.0 207.9,114.0 210.0,111.9 212.0,110.7 216.0,109.6 222.0,110.1 236.0,114.6 248.0,116.5 264.0,123.0 268.0,123.5 272.0,123.1 278.0,120.0 282.6,116.0 286.0,112.0 288.2,108.0 292.4,96.0 295.2,90.0 298.2,86.0Z" fill="#ffb3b3" fill-rule="evenodd"/>
<path d="M305.9,90.0 308.0,88.9 312.0,88.1 316.0,88.8 318.0,89.8 320.0,91.5 321.7,94.0 322.5,96.0 322.8,100.0 321.8,104.0 318.0,109.3 312.0,112.8 306.0,113.9 302.0,113.1 300.7,112.0 299.5,110.0 298.9,106.0 299.6,100.0 301.0,96.0 303.6,92.0ZM217.1,114.0 222.0,113.7 226.0,114.1 242.5,118.0 248.2,120.0 255.4,124.0 266.0,131.3 274.0,135.5 274.6,136.0 274.3,138.0 271.3,142.0 265.0,148.0 258.8,152.0 252.0,154.7 242.0,157.5 236.0,158.4 228.0,157.7 220.0,155.3 214.4,152.0 211.3,148.0 208.8,142.0 207.8,136.0 207.9,130.0 209.6,120.0 212.0,116.3 214.0,115.0Z" fill="#ffa2a2" fill-rule="evenodd"/>
<path d="M311.7,96.0 314.0,95.5 315.8,96.0 317.5,98.0 317.8,100.0 317.0,102.0 314.0,104.1 311.7,104.0 309.5,102.0 309.1,100.0 309.7,98.0ZM221.6,118.0 226.0,117.5 232.2,118.0 243.3,122.0 249.6,126.0 252.9,130.0 254.5,134.0 254.9,138.0 253.0,142.0 246.0,147.5 238.7,150.0 230.0,149.9 226.0,148.9 222.0,146.9 218.8,144.0 216.0,140.0 214.0,135.5 213.2,130.0 213.8,124.0 214.5,122.0 216.2,120.0Z" fill="#ff9191" fill-rule="evenodd"/>
<path d="M226.5,126.0 230.0,124.2 234.0,125.2 237.1,128.0 237.6,130.0 236.9,132.0 234.0,133.5 232.0,133.7 228.0,132.5 225.8,130.0 225.6,128.0Z" fill="#ff8080" fill-rule="evenodd"/>
<path d="M328.4,-6.0 544.3,-6.0 545.7,-4.0 548.0,-2.0 555.1,2.0 618.0,32.0 622.0,33.5 626.0,34.2 626.0,222.9 616.0,219.7 592.0,208.8 586.0,207.5 581.8,208.0 578.0,210.0 575.9,212.0 573.5,216.0 564.6,242.0 560.7,250.0 556.9,256.0 548.0,266.1 542.0,271.0 536.0,274.8 529.5,278.0 522.0,280.7 497.4,286.0 492.9,288.0 476.0,297.7 468.0,300.7 462.0,302.0 452.0,302.6 444.0,301.4 436.0,298.6 428.0,293.8 421.7,288.0 416.0,280.3 411.9,272.0 409.4,264.0 408.5,254.0 410.7,236.0 410.5,228.0 399.6,186.0 395.9,158.0 394.0,150.2 386.0,131.5 382.1,124.0 368.0,106.7 363.7,100.0 361.8,94.0 356.6,70.0 352.4,56.0 346.0,38.8 330.8,2.0ZM72.8,128.0 76.0,127.0 80.0,126.8 92.0,128.1 98.0,130.8 102.0,135.1 105.4,142.0 105.9,146.0 104.0,152.3 100.0,158.9 98.0,161.1 94.0,163.2 90.0,164.1 82.0,165.1 78.0,164.9 74.8,164.0 71.2,162.0 66.4,158.0 62.9,154.0 60.5,148.0 60.0,144.0 60.7,140.0 63.0,136.0 66.0,132.8 69.3,130.0Z" fill="#e5e5ff" fill-rule="evenodd"/>
<path d="M358.3,-6.0 487.1,-6.0 490.0,-3.0 495.3,0.0 542.0,17.2 552.0,21.5 590.3,42.0 620.0,59.7 626.0,62.0 626.0,196.6 590.0,194.4 580.0,195.9 572.0,199.3 565.7,204.0 560.1,210.0 542.0,237.6 537.1,244.0 531.6,250.0 524.7,256.0 518.0,260.7 510.0,265.1 499.0,270.0 478.0,277.8 470.0,279.6 464.0,280.2 458.0,280.0 452.0,278.8 446.0,276.5 440.0,272.9 434.7,268.0 430.3,262.0 427.2,256.0 424.5,248.0 423.9,242.0 427.5,228.0 427.4,220.0 422.4,200.0 414.3,176.0 408.4,150.0 405.2,140.0 398.8,124.0 395.8,118.0 390.8,112.0 375.1,98.0 372.3,94.0 370.1,88.0 361.6,50.0 357.9,28.0 356.8,10.0Z" fill="#d4d4ff" fill-rule="evenodd"/>
<path d="M387.5,-6.0 437.1,-6.0 438.7,-4.0 441.5,-2.0 445.8,0.0 500.0,17.2 537.0,34.0 552.0,41.6 591.5,66.0 622.0,87.9 626.0,89.9 626.0,176.8 612.0,179.3 592.0,180.7 582.0,182.1 572.0,185.0 564.0,188.9 556.0,194.5 548.1,202.0 525.8,230.0 514.6,242.0 502.0,252.0 490.0,258.8 478.0,263.3 468.0,264.7 462.0,264.2 458.0,263.2 454.0,261.5 450.0,259.0 446.7,256.0 443.7,252.0 441.6,248.0 440.2,244.0 439.7,238.0 441.8,220.0 440.8,212.0 435.3,192.0 425.6,168.0 420.0,144.0 417.4,136.0 409.6,118.0 406.0,111.2 401.5,106.0 387.2,94.0 383.2,90.0 379.7,84.0 376.5,74.0 374.2,62.0 372.6,48.0 372.3,36.0 373.1,26.0 374.6,18.0 377.3,10.0 380.5,4.0Z" fill="#c3c3ff" fill-rule="evenodd"/>
<path d="M405.5,8.0 410.0,6.6 414.0,6.1 422.0,7.0 460.0,18.2 470.0,21.7 518.0,42.8 561.1,70.0 569.1,76.0 589.3,94.0 602.0,105.7 622.0,125.4 626.0,128.4 626.0,155.8 618.0,160.7 612.0,163.1 604.0,164.6 586.0,166.1 578.0,167.3 568.0,170.1 558.0,174.6 548.0,181.2 537.8,190.0 528.5,200.0 504.0,228.9 497.1,236.0 490.2,242.0 482.0,247.4 474.0,250.7 470.0,251.4 466.0,251.3 460.0,249.4 458.0,248.0 454.9,244.0 452.9,236.0 453.3,230.0 457.7,214.0 457.0,208.0 449.6,188.0 438.6,168.0 435.9,162.0 429.5,136.0 426.0,126.2 419.1,110.0 415.7,104.0 411.8,100.0 398.0,90.0 393.3,86.0 389.3,80.0 385.9,70.0 384.3,60.0 384.1,50.0 385.0,40.0 387.4,30.0 390.9,22.0 394.9,16.0 400.0,11.2Z" fill="#b2b2ff" fill-rule="evenodd"/>
<path d="M414.5,22.0 418.0,21.4 424.0,22.6 463.8,36.0 475.5,42.0 518.0,66.4 550.2,90.0 559.8,98.0 584.0,125.1 592.9,134.0 594.6,136.0 595.0,138.0 580.0,140.7 572.0,143.0 562.0,147.3 550.0,154.6 530.0,170.0 522.0,177.7 510.0,190.9 502.0,198.8 488.0,211.1 478.0,218.7 477.3,218.0 474.9,208.0 466.7,188.0 463.1,182.0 450.0,164.0 446.0,156.5 433.4,110.0 429.9,100.0 427.2,96.0 425.1,94.0 403.3,80.0 399.6,76.0 396.8,70.0 395.6,64.0 395.6,56.0 396.7,48.0 398.4,42.0 401.1,36.0 405.0,30.0 410.0,24.8Z" fill="#a2a2ff" fill-rule="evenodd"/>
<path d="M426.3,44.0 432.0,44.2 438.0,46.0 445.8,50.0 450.8,54.0 453.3,58.0 454.3,62.0 454.3,64.0 452.9,68.0 449.4,72.0 446.0,74.4 442.0,76.3 438.0,77.2 432.0,77.2 424.0,76.3 420.0,75.2 414.0,72.4 411.0,70.0 409.7,68.0 409.3,64.0 410.8,56.0 413.1,50.0 414.7,48.0 418.0,45.8Z" fill="#9090ff" fill-rule="evenodd"/>
</g>
<path d="M140.6,-0.6 138.9,4.8 126.4,8.1 127.2,11.1 134.7,11.8 135.6,15.1 143.9,16.1 153.9,13.5 157.6,14.8 154.8,17.8 144.8,20.1 153.1,24.5 152.3,26.2 140.6,24.8 136.4,28.5 132.2,31.8 125.6,35.8 121.4,39.9 123.0,44.0 132.2,45.7 140.6,44.0 143.4,48.7 138.9,46.9 127.2,49.2 122.2,53.2 118.9,59.1 116.4,64.1 120.5,66.9 116.4,66.9 113.0,70.8 112.2,75.3 112.3,76.1 106.8,77.6 111.8,79.3 113.0,83.1 115.3,87.2 118.3,90.2 120.0,92.7 118.3,97.0 115.6,94.4 112.6,90.0 110.0,86.7 108.8,89.2 111.6,93.2 115.0,98.2 118.6,101.2 117.8,103.2 115.3,104.7 116.6,108.2 117.8,111.8 115.8,115.3 113.6,118.1 112.8,120.1 117.3,120.5 123.9,119.5 127.1,118.8 128.9,115.3 129.1,112.1 131.1,110.5 133.1,112.1 132.4,115.8 134.4,117.5 139.1,117.8 140.7,118.9 137.4,120.1 132.9,120.5 127.9,121.1 123.9,121.8 119.8,122.5 113.8,123.8 111.8,125.3 112.3,128.8 113.3,132.3 114.8,136.4 117.8,139.4 121.3,140.2 123.9,143.4 127.9,142.4 128.9,145.4 124.9,145.4 122.8,147.9 121.8,152.4 123.9,156.5 122.8,160.5 123.9,163.0 126.9,164.0 127.4,168.0 130.9,167.5 134.9,167.0 135.9,162.5 137.9,158.5 142.9,157.5 145.4,154.4 147.0,151.4 149.0,147.9 150.2,143.4 151.0,140.9 153.0,141.4 153.8,145.4 153.0,149.4 152.0,152.4 156.0,153.4 160.0,154.4 162.5,156.5 164.0,152.9 167.0,150.4 169.0,146.9 171.6,143.4 173.1,139.9 175.1,136.9 180.1,133.9 186.1,130.8 190.9,130.1 193.1,127.3 195.2,124.8 198.7,125.3 202.2,126.8 204.2,129.3 202.2,133.4 199.2,131.3 197.2,135.4 194.1,139.4 196.2,143.4 199.2,147.4 202.2,151.4 206.2,153.4 208.2,150.4 212.2,147.4 214.2,144.4 210.2,143.4 207.2,141.4 209.2,139.4 214.2,138.4 218.2,140.4 220.3,137.4 218.2,133.4 214.2,129.3 212.2,125.3 211.2,122.3 212.2,119.8 207.2,117.8 214.2,116.3 220.3,113.8 222.3,110.8 223.8,115.3 224.3,120.3 226.3,125.3 225.3,131.3 228.3,135.4 233.3,137.4 234.3,133.4 237.3,129.3 243.4,126.3 247.4,123.3 246.4,117.3 242.4,115.3 238.3,116.3 234.3,114.3 230.3,111.3 228.3,107.2 230.8,105.7 234.3,110.3 238.3,108.2 241.3,105.2 242.4,101.7 245.4,103.2 250.4,104.2 253.7,106.3 258.2,105.3 260.7,101.3 261.7,98.8 263.7,100.3 266.7,101.3 269.2,97.3 272.3,95.3 274.8,92.5 275.6,95.3 275.0,101.3 275.3,107.3 279.8,108.8 281.8,110.8 286.8,109.8 289.3,107.8 291.8,106.3 293.6,107.6 296.1,108.0 298.3,106.8 300.4,105.5 302.1,108.0 299.9,110.2 301.2,111.9 304.6,112.7 308.0,113.5 310.5,112.7 310.5,110.2 310.9,106.8 309.7,103.4 309.2,101.7 311.4,101.3 314.7,100.9 316.4,99.2 316.0,96.6 313.9,95.4 309.7,96.2 306.3,97.9 303.7,99.6 305.0,97.1 308.0,95.4 312.2,93.2 313.9,91.1 317.3,90.3 321.5,91.1 324.9,92.8 326.6,94.9 330.0,94.9 330.4,94.1 328.7,93.2 327.4,89.9 325.7,86.9 324.0,83.9 325.7,83.1 327.4,83.1 328.3,85.6 331.7,86.9 334.2,86.5 335.5,88.2 335.9,90.3 338.4,90.7 341.0,91.6 343.5,89.9 344.3,92.0 348.6,92.0 352.8,91.6 354.5,89.4 356.2,91.1 358.7,88.2 361.3,87.3 362.1,90.7 361.3,94.9 363.4,95.8 366.3,93.7 368.9,90.3 371.0,88.6 373.6,89.4 376.2,87.2 380.2,85.2 384.2,82.2 387.2,78.2 388.8,74.2 391.3,71.2 396.3,68.2 398.3,64.1 399.3,59.1 402.3,55.1 404.3,53.1 408.0,41.5 410.5,33.2 413.0,24.8 415.5,14.8 418.8,6.5 421.4,-0.6 412.2,-0.6 408.0,4.8 403.8,-0.6Z M86.2,156.5 88.7,153.4 92.7,151.4 96.7,148.4 99.8,145.4 100.8,142.4 103.8,143.4 107.8,144.9 111.3,146.9 112.8,150.4 110.8,154.4 107.8,158.0 103.8,160.0 98.7,161.5 93.7,162.5 90.2,162.0 88.2,159.5Z M102.3,125.3 105.8,124.8 108.8,127.3 109.8,132.3 110.8,136.4 107.8,139.4 104.8,138.4 103.3,134.4 102.3,130.3Z M81.7,93.2 83.7,89.7 87.7,87.2 92.2,86.7 92.7,89.2 89.7,91.2 91.7,93.2 96.7,91.2 100.8,93.2 101.8,96.7 98.7,98.2 93.7,97.2 90.7,97.7 86.7,95.7 83.7,95.7Z M101.8,89.2 105.8,87.2 108.8,86.2 110.8,89.2 108.8,93.2 105.8,94.7 103.3,92.7Z M75.1,112.8 78.7,109.8 82.7,107.7 85.2,110.3 84.7,113.3 87.7,112.8 91.2,112.3 92.2,116.3 90.7,119.8 92.7,122.3 93.2,127.3 90.2,128.3 86.7,126.3 85.2,122.3 85.7,118.8 82.7,116.3 78.7,114.3Z M105.3,103.2 110.8,102.2 117.8,101.7 115.8,105.2 110.8,107.2 106.8,106.7Z M98.2,113.8 103.8,111.8 107.8,110.3 111.3,113.3 110.3,117.3 105.8,116.3 101.8,115.8Z M65.6,123.3 69.6,121.3 77.2,120.8 76.7,123.3 73.6,124.3 76.7,127.3 77.2,131.3 73.6,133.4 69.6,132.3 67.1,129.3 68.6,126.3 66.1,125.3Z M77.7,137.4 79.7,135.4 83.7,135.9 87.2,138.4 86.7,142.4 83.7,145.4 80.2,144.9 78.2,141.4Z M78.2,167.0 81.2,165.5 85.2,166.5 86.2,169.0 82.7,170.0 79.2,169.5Z M124.9,181.6 127.9,179.5 129.9,174.5 133.9,174.0 135.9,177.5 138.4,178.0 141.9,180.6 141.4,184.6 138.4,185.1 136.9,181.6 133.9,181.6 129.9,183.6 126.9,185.1 124.9,183.6Z M158.0,177.5 160.5,175.5 164.0,176.0 165.8,179.0 164.0,182.1 160.5,182.6 158.0,180.6Z M198.7,190.6 201.7,190.1 204.2,192.6 204.2,196.1 201.2,195.1 199.2,193.1Z M138.4,161.5 140.9,159.0 144.9,158.5 148.0,161.5 150.0,165.5 149.0,168.5 144.9,168.5 140.9,166.5 138.9,164.0Z M150.0,157.5 153.0,154.9 158.0,154.9 160.0,157.5 157.0,159.5 153.0,160.5Z M153.0,162.5 158.0,162.0 162.5,163.5 161.5,166.5 157.0,168.0 153.5,166.0Z M171.6,161.5 175.1,159.5 179.1,160.5 182.6,163.5 179.1,166.0 176.1,166.5 174.1,164.0Z M183.1,150.9 187.1,148.9 193.1,149.4 196.2,151.9 194.7,154.9 189.1,155.9 184.6,154.4Z M215.7,151.4 220.3,149.9 224.3,152.4 223.8,155.9 219.8,157.5 216.7,155.4Z M240.3,144.9 244.4,143.4 248.4,146.4 249.9,149.9 246.4,149.9 242.9,147.9Z M243.4,135.4 245.4,131.3 247.4,128.3 249.9,131.3 251.4,136.4 249.4,140.4 245.9,139.9Z M184.1,143.4 185.6,139.4 189.1,135.9 191.6,137.4 192.1,143.4 190.1,146.9 186.6,146.9Z M97.2,106.7 98.7,106.0 100.6,107.0 100.3,108.7 98.5,109.5 97.2,108.4Z M255.2,109.3 258.7,107.3 261.7,109.3 261.2,113.4 262.7,117.4 266.7,118.4 263.7,119.9 259.7,122.4 258.7,127.9 256.2,127.4 255.2,123.4 253.2,118.4 252.7,113.4Z M266.7,112.3 269.8,108.8 273.3,111.3 275.3,115.4 274.8,119.4 275.3,123.4 274.3,129.4 271.8,130.4 267.7,129.9 265.7,126.4 264.7,122.4 267.7,118.4 265.7,115.4Z M247.7,127.9 249.7,130.4 251.2,134.4 252.2,138.5 248.7,141.0 244.6,139.5 243.1,135.4 245.1,132.4 246.7,130.4Z M240.1,145.0 243.6,143.5 247.2,146.5 249.2,150.0 245.1,150.0 242.1,148.0Z M288.3,116.4 290.8,115.4 293.4,117.4 292.8,119.9 289.8,120.2 288.3,118.4Z M289.8,134.4 293.9,133.4 297.4,134.9 296.9,138.0 292.8,138.5 290.3,137.0Z M92.1,263.8 93.8,258.8 98.8,253.8 104.7,248.8 113.9,245.5 125.6,241.6 138.9,239.1 152.3,237.9 158.1,239.6 164.0,243.0 167.3,247.1 166.5,253.0 162.3,258.0 157.3,263.0 147.3,266.3 137.2,269.7 125.6,271.0 113.9,269.7 107.2,271.3 102.2,274.4 97.2,271.3 93.5,268.0Z M199.0,190.3 202.4,189.5 204.9,193.7 204.1,197.0 200.7,195.4Z M100.2,44.0 103.0,41.2 107.2,41.2 106.3,44.0 102.2,46.5Z M17.8,131.7 22.0,128.7 25.3,130.1 22.8,134.2 19.5,136.7Z M620.8,130.4 618.3,132.3 611.9,136.1 608.1,141.2 601.8,145.0 599.3,150.0 594.2,153.8 586.6,157.6 584.0,154.5 577.7,155.1 573.9,158.9 571.3,155.7 561.2,157.0 558.7,154.5 553.6,153.8 549.8,157.6 546.0,162.7 543.4,169.1 547.2,176.7 548.5,181.8 544.7,184.3 543.4,189.4 547.2,194.4 545.3,200.8 548.5,203.9 552.5,199.5 559.2,195.4 569.2,194.5 574.2,201.2 580.9,203.7 587.5,201.2 594.2,193.7 600.9,197.0 609.3,196.2 619.6,194.5Z M549.1,205.4 540.8,203.7 534.1,202.0 525.7,204.5 519.1,207.9 510.7,209.5 505.7,213.7 504.0,217.9 506.5,220.4 500.7,223.7 495.7,227.9 489.0,227.1 491.5,230.4 498.2,230.4 497.4,233.3 490.7,234.6 487.3,231.3 483.2,228.8 479.0,231.3 475.6,234.6 469.8,237.9 472.3,241.3 477.3,240.4 468.1,244.6 463.9,247.1 459.8,248.8 457.3,243.0 450.6,240.4 446.4,242.1 445.6,246.3 441.4,248.8 443.1,253.0 448.9,256.3 445.6,261.3 446.4,265.5 442.2,259.7 435.6,257.2 428.9,255.5 427.2,258.0 420.5,258.0 419.7,263.0 418.0,269.7 423.9,273.0 428.0,276.4 433.0,279.7 430.5,283.0 428.0,288.1 426.4,294.7 428.0,301.4 432.2,306.4 437.2,311.4 440.6,316.4 497.4,316.4 492.3,306.4 480.7,304.8 470.6,304.8 477.3,298.1 480.7,294.7 477.3,288.1 474.0,281.4 484.0,274.7 489.0,278.0 497.4,279.7 502.4,288.1 503.2,296.4 510.7,306.4 519.1,316.4 619.6,316.4 619.6,268.0 606.8,266.3 605.1,261.3 607.6,257.2 619.6,256.3 619.6,227.1 607.6,227.9 600.9,234.6 590.9,237.1 580.9,235.4 570.8,232.9 564.2,229.6 559.2,222.9 555.8,214.6 557.5,211.2 552.5,204.5Z M430.5,208.7 437.2,210.4 439.7,213.7 442.2,217.9 439.7,221.2 435.6,222.1 433.0,225.4 428.9,222.1 426.4,217.9 428.0,212.9Z M442.2,247.1 445.6,246.3 448.1,249.6 446.4,253.0 443.1,251.3Z M375.0,276.4 376.5,277.1 376.9,281.6 375.8,285.3 375.0,289.0 376.5,293.4 380.6,291.9 382.4,293.4 380.2,296.4 377.2,298.2 375.0,300.1 374.3,304.5 372.8,306.7 370.6,310.4 368.7,309.7 368.4,306.7 365.4,306.0 362.4,307.5 359.5,310.4 356.5,312.7 353.6,314.9 343.2,316.0 346.2,311.9 350.6,309.7 353.6,305.3 358.0,303.8 361.0,300.1 362.4,296.4 366.9,294.2 369.1,289.0 372.1,286.0 373.5,281.6 373.9,277.9Z M371.3,266.8 373.5,264.6 376.5,263.1 379.5,264.6 379.8,266.8 377.2,269.0 373.5,268.6Z M416.5,253.5 418.7,255.7 417.2,259.4 415.0,263.8 412.0,268.3 408.3,272.0 403.9,274.9 399.4,276.4 396.8,274.9 398.0,272.0 402.4,268.3 404.6,265.3 406.8,259.4 412.0,257.2 414.2,254.9Z M412.4,246.8 415.0,244.2 418.7,244.2 420.2,246.1 417.9,247.9 414.2,248.3Z M328.4,316.0 330.6,313.0 333.6,312.7 335.1,316.0Z M315.6,113.5 317.3,111.0 320.7,109.3 324.9,108.9 328.3,110.2 330.0,110.6 329.1,108.5 327.4,106.8 327.0,105.1 329.5,104.2 332.9,102.6 335.0,101.3 334.6,99.2 335.5,97.5 337.6,97.5 338.4,99.2 338.0,101.7 338.4,104.2 339.7,106.8 339.7,109.3 338.4,111.0 340.1,111.9 340.5,114.0 338.4,115.2 339.7,117.3 341.8,119.9 341.4,121.6 339.3,120.3 337.6,118.6 335.0,119.0 333.3,121.2 335.0,123.3 336.7,125.0 335.9,126.7 333.8,127.1 331.7,129.2 329.5,130.9 328.3,129.6 326.6,128.8 324.9,129.2 324.5,127.5 325.7,126.2 324.9,124.5 323.2,123.7 322.8,121.2 324.9,119.5 326.6,117.8 326.2,116.1 324.0,116.9 322.4,119.0 319.0,118.6 317.3,116.5Z M345.2,94.9 346.9,94.1 349.4,95.4 349.8,98.3 349.0,100.9 347.7,102.1 346.5,100.4 345.6,97.5Z M300.4,116.9 302.1,115.2 306.3,114.4 309.7,114.0 311.4,116.1 310.5,119.5 310.9,121.6 307.6,121.6 305.4,120.3 303.7,119.0 300.8,118.6Z M407.8,128.3 410.6,129.5 412.0,132.3 411.2,136.8 410.1,141.3 407.8,146.4 404.4,150.4 402.7,153.8 401.6,157.1 402.2,160.0 403.9,162.8 402.2,165.6 399.9,167.3 397.1,170.1 395.4,174.1 393.1,176.9 392.0,180.9 389.7,184.8 386.9,187.6 384.1,188.5 381.3,186.5 380.7,182.0 381.8,176.3 383.0,170.7 384.4,165.6 385.8,163.9 387.5,166.7 390.9,165.6 394.3,163.9 392.0,162.8 386.9,162.2 386.3,161.1 390.3,160.0 389.7,155.4 391.4,151.5 393.1,147.0 394.3,143.0 392.0,142.5 393.1,139.6 394.8,135.1 398.8,134.0 402.2,132.3 404.4,130.0Z" fill="#808080" stroke="#000" stroke-width="2.9" stroke-linejoin="round"/>
<path d="M120.8,128.8 123.9,128.1 127.9,130.8 130.4,133.4 127.9,134.6 123.9,133.4 121.3,131.3Z M442.2,288.1 451.4,288.9 454.8,293.1 453.1,298.1 458.9,306.4 448.9,303.1 444.7,307.3 442.2,301.4 440.6,294.7 437.2,289.7Z" fill="#fff" stroke="#000" stroke-width="2.9" stroke-linejoin="round"/>
<path d="M191.8,0V315.1 M383.8,0V315.1 M575.8,0V315.1 M0,27.2H618.6 M0,123.2H618.6 M0,219.2H618.6" stroke="#b0b0b0" stroke-width="1.9" fill="none"/>
<path d="M153.0,326.0 L160.6,314.1 L192.4,263.0 L247.0,209.0 L301.8,156.1 L383.6,83.2 L486.4,1.4 L497.0,-7.0" fill="none" stroke="#000" stroke-width="3.1" stroke-dasharray="11.2,4.4"/>
</g>
<rect x="0" y="0" width="618.6" height="315.1" fill="none" stroke="#000" stroke-width="1.6"/>
<path d="M-0.2,315.1v6.6 M191.8,315.1v6.6 M383.8,315.1v6.6 M575.8,315.1v6.6 M0,27.2h-7 M0,123.2h-7 M0,219.2h-7 M0,315.1h-7" stroke="#000" stroke-width="1.6" fill="none"/>
<text x="0.1" y="351.4" font-size="31.7" text-anchor="middle">125.2°E</text>
<text x="192.1" y="351.4" font-size="31.7" text-anchor="middle">127.2°E</text>
<text x="384.1" y="351.4" font-size="31.7" text-anchor="middle">129.2°E</text>
<text x="576.1" y="351.4" font-size="31.7" text-anchor="middle">131.2°E</text>
<text x="-13.5" y="38.4" font-size="31.7" text-anchor="end">35.77°N</text>
<text x="-13.5" y="134.4" font-size="31.7" text-anchor="end">34.77°N</text>
<text x="-13.5" y="230.4" font-size="31.7" text-anchor="end">33.77°N</text>
<text x="-13.5" y="326.3" font-size="31.7" text-anchor="end">32.77°N</text>
<text x="308.7" y="-11.4" font-size="38.3" text-anchor="middle">2022-09-06 10:00:00</text>
<path d="M656.6,-53.6L668.4,-75.9L680.2,-53.6Z" fill="#800000"/>
<path d="M656.6,368.5L668.4,390.8L680.2,368.5Z" fill="#00004c"/>
<rect x="656.6" y="-54.6" width="23.6" height="424.1" fill="url(#cb)"/>
<path d="M656.6,-54.6L668.4,-75.9L680.2,-54.6L680.2,369.5L668.4,390.8L656.6,369.5Z" fill="none" stroke="#000" stroke-width="1.6" stroke-linejoin="miter"/>
<text x="694.1" y="-43.7" font-size="31.7">30</text>
<text x="694.1" y="27.0" font-size="31.7">20</text>
<text x="694.1" y="97.7" font-size="31.7">10</text>
<text x="694.1" y="168.4" font-size="31.7">0</text>
<text x="694.1" y="239.0" font-size="31.7">−10</text>
<text x="694.1" y="309.7" font-size="31.7">−20</text>
<text x="694.1" y="380.4" font-size="31.7">−30</text>
<path d="M680.2,-54.6h7 M680.2,16.1h7 M680.2,86.8h7 M680.2,157.5h7 M680.2,228.1h7 M680.2,298.8h7 M680.2,369.5h7" stroke="#000" stroke-width="1.6" fill="none"/>
<text transform="translate(777.8,157.4) rotate(-90)" font-size="31.7" text-anchor="middle">anomaly (cm)</text>
</g>
<g transform="translate(1088.7,592.3)">
<g clip-path="url(#fr)">
<clipPath id="dr11"><path d="M2.5,21.0 8.0,15.5 77.0,8.0 150.0,1.0 165.0,-3.0 621.6,-3.0 621.6,307.0 430.0,308.0 253.0,310.9 118.0,313.4 34.0,312.0 20.0,308.5 17.4,283.0 8.3,150.0Z"/></clipPath>
<g clip-path="url(#dr11)">
<rect x="-2" y="-2" width="623" height="319" fill="#f6f6ff"/>
<path d="M72.8,-6.0 173.0,-6.0 162.0,3.8 156.0,10.9 150.0,20.4 137.4,44.0 132.0,52.1 126.0,58.0 124.0,59.1 120.0,60.0 116.0,59.3 114.0,58.4 112.0,57.0 109.3,54.0 108.5,52.0 107.6,44.0 105.1,32.0 100.0,20.9 96.0,14.0 92.0,8.9 88.0,4.9ZM278.9,104.0 282.0,103.2 286.0,103.1 290.0,103.8 294.0,105.3 310.0,115.4 326.0,122.3 330.6,126.0 333.0,130.0 334.0,134.0 334.3,144.0 341.2,164.0 342.7,170.0 346.0,193.2 346.5,202.0 344.6,220.0 335.4,268.0 332.5,290.0 332.5,294.0 333.5,296.0 338.0,298.9 342.0,303.6 346.5,316.0 349.9,322.0 -6.0,322.0 -6.0,180.4 6.0,173.7 28.0,167.4 36.0,164.1 60.0,150.2 64.0,147.4 66.0,144.5 66.6,140.0 67.4,138.0 70.0,135.2 74.0,133.7 80.0,134.8 84.0,133.8 96.0,123.4 106.0,118.8 112.0,118.8 116.0,120.5 120.0,123.5 133.1,136.0 139.4,140.0 146.0,142.7 152.0,144.2 160.0,145.1 170.0,144.8 178.0,143.0 186.0,144.3 188.0,144.1 190.0,143.3 196.0,138.2 202.0,137.1 206.0,134.5 207.7,132.0 210.5,126.0 213.3,122.0 222.0,112.8 226.0,110.4 230.0,109.5 236.0,109.2 250.0,104.7 254.0,104.1 260.0,105.4 268.0,110.0 270.0,109.5 276.0,105.2ZM587.8,210.0 594.0,210.5 616.0,217.1 626.0,219.1 626.0,322.0 387.3,322.0 389.5,320.0 398.0,315.3 406.0,312.9 412.0,312.7 426.0,314.0 434.0,314.2 444.0,313.2 454.0,310.9 468.0,305.1 476.0,300.3 488.0,292.1 492.0,290.7 496.0,290.9 514.0,295.5 522.0,296.5 528.0,296.5 536.0,295.7 542.0,294.4 550.0,291.7 556.0,288.7 564.0,283.3 571.6,276.0 577.3,268.0 581.2,260.0 583.7,252.0 585.0,242.0 584.8,234.0 582.7,220.0 582.6,216.0 584.1,212.0Z" fill="#fff7f7" fill-rule="evenodd"/>
<path d="M121.9,10.0 124.0,8.8 126.0,8.5 128.0,9.1 130.0,10.8 132.3,16.0 132.7,20.0 132.4,24.0 127.9,38.0 124.1,46.0 120.0,50.3 116.8,52.0 114.7,52.0 114.0,51.8 113.2,50.0 113.0,40.0 113.5,38.0 116.4,32.0 115.6,20.0 118.0,14.1ZM249.2,106.0 254.0,105.1 258.0,105.7 262.0,107.5 265.9,110.0 268.0,110.6 270.6,110.0 276.0,106.3 280.0,104.7 284.0,104.1 290.0,104.9 296.0,107.5 310.0,116.4 326.0,123.7 328.8,126.0 331.3,130.0 331.6,134.0 327.5,142.0 326.9,146.0 329.0,172.0 329.7,200.0 329.4,212.0 327.5,230.0 324.9,240.0 316.9,262.0 312.9,268.0 308.0,272.5 286.0,289.9 280.0,292.9 276.0,293.9 232.0,299.7 182.0,299.5 140.0,296.1 112.0,287.9 101.9,284.0 72.0,269.1 66.0,265.0 61.3,260.0 49.4,244.0 48.0,241.5 46.9,238.0 47.1,230.0 49.9,208.0 51.4,204.0 53.7,200.0 72.0,173.5 80.0,160.0 81.3,156.0 81.4,154.0 80.0,148.0 80.6,146.0 83.3,144.0 88.7,142.0 90.0,141.0 90.7,140.0 92.7,132.0 96.0,128.0 98.0,126.9 102.0,125.9 106.0,126.0 110.0,127.2 114.2,130.0 122.4,138.0 128.0,142.4 134.0,145.4 142.0,147.6 150.0,148.5 158.0,148.4 168.0,147.0 178.0,143.8 186.0,145.0 188.0,144.9 190.0,144.0 196.0,138.9 202.0,137.9 206.0,135.6 208.6,132.0 212.5,124.0 220.0,115.8 224.0,112.4 228.0,110.8 236.5,110.0ZM73.3,140.0 74.0,139.6 74.5,140.0 74.0,142.1ZM625.8,264.0 626.0,322.0 477.9,322.0 479.5,320.0 488.0,313.3 492.0,310.9 496.0,309.7 502.0,310.2 522.0,314.7 534.0,315.6 542.0,315.3 550.0,314.2 564.6,310.0 576.0,304.6 586.0,298.0 597.4,288.0 614.0,270.7 620.0,266.3Z" fill="#ffe5e5" fill-rule="evenodd"/>
<path d="M279.2,106.0 282.0,105.3 286.0,105.2 290.0,106.0 294.0,107.6 308.0,116.4 324.2,124.0 328.0,127.3 329.5,130.0 329.7,132.0 329.1,134.0 323.2,140.0 321.0,144.0 320.9,166.0 319.1,196.0 315.5,224.0 312.6,232.0 306.0,245.3 303.2,250.0 299.9,254.0 279.9,270.0 274.1,274.0 270.0,276.0 233.4,284.0 224.0,285.0 182.0,280.3 172.0,278.3 161.9,274.0 140.0,263.2 134.7,260.0 130.0,256.1 110.4,232.0 106.6,226.0 105.2,222.0 100.9,198.0 100.0,188.0 100.7,182.0 105.7,164.0 106.3,158.0 105.9,156.0 101.9,152.0 101.2,144.0 98.0,137.6 96.9,134.0 98.0,131.3 100.0,130.6 102.0,131.0 103.8,132.0 105.4,134.0 106.9,138.0 108.7,150.0 109.7,152.0 112.0,153.2 122.0,154.5 130.0,155.0 140.0,154.7 150.0,153.6 164.0,150.6 178.0,144.8 188.0,145.6 190.0,144.9 196.0,139.6 204.0,137.9 208.0,134.4 212.0,126.0 214.9,122.0 222.0,114.9 226.0,112.4 230.0,111.3 238.0,110.4 250.0,106.6 254.0,106.1 260.0,107.3 264.7,110.0 268.0,111.1 270.0,110.8 276.0,107.2Z" fill="#ffd5d5" fill-rule="evenodd"/>
<path d="M248.3,108.0 252.0,107.1 256.0,107.0 260.0,108.1 268.0,111.6 270.0,111.4 276.0,108.1 280.0,106.7 284.0,106.2 290.0,107.1 296.0,109.7 310.0,118.5 322.0,124.1 326.0,127.2 327.6,130.0 327.5,132.0 326.2,134.0 319.0,140.0 316.6,144.0 316.0,148.0 316.1,168.0 312.3,194.0 310.8,200.0 306.0,209.9 294.0,229.6 291.8,232.0 288.0,234.7 276.0,240.6 254.0,250.6 248.0,252.4 244.0,252.9 208.0,253.0 198.0,252.3 166.0,242.7 160.0,240.6 156.0,238.4 150.0,232.9 140.3,222.0 135.4,216.0 133.0,212.0 130.6,204.0 126.5,184.0 126.9,178.0 128.8,174.0 134.2,168.0 140.3,164.0 162.0,154.8 177.1,146.0 180.0,145.5 186.0,146.7 188.0,146.5 192.0,144.2 196.0,140.3 202.0,139.4 205.5,138.0 209.2,134.0 214.0,124.0 220.0,117.6 224.0,114.3 228.0,112.5 236.0,111.5Z" fill="#ffc3c3" fill-rule="evenodd"/>
<path d="M251.5,108.0 254.0,107.7 258.0,108.2 268.0,112.1 270.0,111.9 276.0,108.9 280.0,107.6 284.0,107.2 290.0,108.1 296.0,110.7 308.0,118.5 322.0,125.6 324.6,128.0 325.5,130.0 325.0,132.0 315.6,140.0 312.9,144.0 311.9,148.0 311.3,164.0 308.9,174.0 301.2,192.0 296.3,200.0 291.6,206.0 286.0,211.5 280.0,215.8 264.0,224.2 250.0,229.4 244.0,230.6 236.0,231.2 212.0,230.0 204.0,228.8 196.0,226.9 184.0,222.7 174.0,218.3 166.0,213.7 158.9,208.0 154.0,202.8 150.0,197.2 147.2,192.0 145.0,186.0 144.4,180.0 145.0,176.0 146.7,172.0 149.9,168.0 166.0,156.8 176.0,148.0 178.0,146.9 180.0,146.5 186.0,147.7 188.0,147.5 192.0,145.2 196.0,141.1 204.0,139.7 206.0,138.7 208.0,137.1 210.0,134.3 214.7,124.0 220.0,118.5 224.0,115.2 228.0,113.3 236.7,112.0Z" fill="#ffb3b3" fill-rule="evenodd"/>
<path d="M246.5,110.0 252.0,108.7 256.0,108.6 268.0,112.6 270.0,112.4 276.0,109.6 280.0,108.4 284.0,108.1 288.0,108.6 296.0,111.8 308.0,119.7 320.1,126.0 322.3,128.0 323.1,130.0 322.3,132.0 312.4,140.0 309.3,144.0 308.2,148.0 306.2,162.0 304.2,168.0 295.4,182.0 285.2,196.0 280.0,200.5 272.0,204.6 250.0,214.3 246.0,215.5 242.0,215.9 214.0,213.7 206.0,212.3 200.0,210.2 182.0,201.4 175.8,198.0 172.0,195.3 167.5,190.0 160.4,180.0 158.4,176.0 158.3,174.0 159.1,172.0 168.0,161.2 176.2,150.0 178.0,148.4 180.0,147.8 186.0,148.9 188.0,148.7 192.0,146.4 196.0,141.9 198.0,141.2 204.0,140.6 206.0,139.8 208.0,138.4 210.0,136.0 213.2,128.0 215.4,124.0 222.0,117.6 228.0,114.2 238.0,112.3Z" fill="#ffa2a2" fill-rule="evenodd"/>
<path d="M249.1,110.0 256.0,109.3 268.0,113.0 270.0,112.8 280.0,109.3 284.0,109.0 288.0,109.5 296.0,112.8 306.0,119.8 317.4,126.0 319.6,128.0 320.3,130.0 319.3,132.0 309.3,140.0 306.2,144.0 302.4,158.0 300.0,163.9 292.5,176.0 286.0,185.0 280.0,190.6 272.0,195.0 252.0,202.9 242.0,204.8 222.0,203.4 210.0,201.4 204.0,199.3 194.0,194.7 186.0,190.6 182.0,187.8 178.2,184.0 175.5,180.0 173.7,176.0 172.8,172.0 172.9,168.0 174.0,162.0 175.8,156.0 178.0,151.5 180.0,149.9 186.0,150.5 188.0,150.1 192.0,147.7 196.0,143.0 197.7,142.0 204.0,141.6 208.0,139.7 211.1,136.0 213.9,128.0 216.1,124.0 224.0,116.9 230.0,114.3Z" fill="#ff9191" fill-rule="evenodd"/>
<path d="M281.1,110.0 288.0,110.5 294.0,112.8 306.0,121.1 314.7,126.0 316.8,128.0 317.4,130.0 316.3,132.0 304.4,142.0 296.0,160.1 286.0,176.0 280.0,182.6 274.0,185.7 251.4,194.0 246.0,195.4 240.0,195.5 220.0,193.7 212.0,192.3 204.0,188.9 192.0,182.9 188.0,180.1 186.2,178.0 183.7,172.0 181.8,164.0 181.1,158.0 182.0,154.8 182.8,154.0 190.0,151.3 192.0,149.6 196.0,144.3 198.0,143.0 204.0,142.7 208.0,141.2 209.4,140.0 212.1,136.0 214.6,128.0 216.0,125.1 218.7,122.0 224.0,117.7 230.0,115.0 252.0,110.1 258.0,110.4 268.0,113.4 270.0,113.3 276.0,111.0Z" fill="#ff8080" fill-rule="evenodd"/>
<path d="M246.1,112.0 252.0,110.9 256.0,110.8 268.0,113.8 270.0,113.7 276.0,111.6 280.0,110.9 288.0,111.5 292.0,112.9 297.5,116.0 306.0,122.7 312.0,126.2 314.0,128.0 314.5,130.0 313.4,132.0 305.6,138.0 301.4,142.0 286.0,164.4 280.0,171.7 276.0,175.1 270.0,178.1 248.0,185.5 242.0,186.5 234.0,186.6 222.0,185.7 214.0,184.3 206.0,181.4 196.7,176.0 194.0,173.6 191.4,170.0 188.8,164.0 188.0,160.0 189.1,156.0 196.3,146.0 198.0,144.3 206.0,143.6 210.0,141.2 213.2,136.0 216.1,126.0 219.5,122.0 224.0,118.6 230.0,115.7Z" fill="#ff6e6e" fill-rule="evenodd"/>
<path d="M249.3,112.0 254.0,111.4 258.0,111.7 268.0,114.3 280.0,111.7 288.0,112.5 292.2,114.0 298.0,117.7 310.7,128.0 311.4,130.0 310.1,132.0 298.1,142.0 278.0,164.3 272.0,168.6 266.0,171.2 246.0,177.7 240.0,178.8 234.0,179.0 222.0,178.0 214.0,176.7 208.0,174.4 201.4,170.0 196.0,164.0 194.3,160.0 194.0,158.0 194.6,154.0 196.1,150.0 198.0,146.8 200.0,145.7 206.0,145.4 208.0,144.6 211.3,142.0 214.0,137.1 216.0,128.0 216.8,126.0 220.0,122.4 224.0,119.4 231.6,116.0Z" fill="#ff5e5e" fill-rule="evenodd"/>
<path d="M242.6,114.0 254.0,112.2 258.0,112.4 268.0,114.7 280.0,112.5 288.0,113.5 292.0,115.0 296.8,118.0 304.9,126.0 306.6,128.0 307.2,130.0 306.1,132.0 304.1,134.0 294.8,142.0 276.0,159.9 272.0,162.7 268.0,164.7 248.0,170.7 240.0,172.4 234.0,172.5 224.0,171.4 216.0,170.1 212.0,168.6 206.0,163.8 200.9,158.0 199.4,154.0 200.0,150.0 202.0,148.9 208.0,147.3 212.0,144.0 215.0,138.0 216.7,128.0 217.5,126.0 220.0,123.2 228.0,118.0Z" fill="#ff4c4c" fill-rule="evenodd"/>
<path d="M245.7,114.0 256.0,113.0 268.0,115.2 278.0,113.4 284.0,113.6 288.0,114.5 292.0,116.1 297.4,120.0 302.3,126.0 303.3,128.0 303.5,130.0 302.7,132.0 299.0,136.0 280.0,152.4 272.0,158.6 266.0,161.4 250.0,165.6 238.0,167.4 226.0,166.2 220.0,164.7 216.0,162.9 212.2,160.0 210.5,158.0 208.9,154.0 209.4,152.0 214.0,145.2 215.4,142.0 216.5,138.0 217.5,128.0 218.3,126.0 222.0,122.4 228.0,118.9 236.7,116.0Z" fill="#ff3c3c" fill-rule="evenodd"/>
<path d="M250.3,114.0 258.0,113.8 268.0,115.7 276.0,114.3 280.0,114.1 288.0,115.6 293.2,118.0 297.5,122.0 300.1,126.0 300.7,130.0 299.8,132.0 296.4,136.0 282.0,147.9 272.0,155.2 264.0,158.8 250.0,161.9 238.0,162.9 228.0,161.6 223.4,160.0 220.0,158.1 217.8,156.0 216.1,152.0 217.9,140.0 218.0,130.0 219.3,126.0 224.0,121.9 232.0,118.1 239.3,116.0Z" fill="#ff2a2a" fill-rule="evenodd"/>
<path d="M242.5,116.0 256.0,114.5 268.0,116.2 278.0,115.0 285.5,116.0 290.9,118.0 293.9,120.0 295.8,122.0 298.0,126.0 298.2,130.0 296.0,134.0 284.0,144.0 274.0,150.9 266.0,155.0 258.0,157.2 248.0,158.4 238.0,158.4 230.0,157.0 224.0,154.0 221.1,150.0 220.2,146.0 219.3,128.0 220.3,126.0 222.0,124.4 226.0,121.7 234.6,118.0Z" fill="#ff1a1a" fill-rule="evenodd"/>
<path d="M247.7,116.0 258.0,115.5 268.0,116.9 278.0,115.9 286.0,117.4 291.7,120.0 293.9,122.0 295.9,126.0 295.9,130.0 293.4,134.0 282.0,142.9 272.0,149.1 265.6,152.0 257.0,154.0 248.0,154.5 238.0,153.7 230.0,151.6 226.0,148.7 224.0,145.3 220.6,132.0 220.5,128.0 221.6,126.0 224.1,124.0 231.7,120.0 238.0,117.8Z" fill="#ff0808" fill-rule="evenodd"/>
<path d="M241.1,118.0 256.0,116.5 268.0,117.6 276.0,116.9 280.0,117.4 288.0,119.8 291.4,122.0 292.8,124.0 293.7,128.0 292.1,132.0 290.0,134.0 278.9,142.0 270.0,146.7 264.0,148.8 256.9,150.0 250.0,150.0 244.0,149.1 234.0,146.9 230.0,145.1 228.0,143.1 226.0,139.9 221.9,130.0 222.0,128.0 223.5,126.0 226.3,124.0 234.5,120.0Z" fill="#fb0000" fill-rule="evenodd"/>
<path d="M251.4,118.0 278.0,118.4 283.4,120.0 287.4,122.0 289.5,124.0 290.2,126.0 290.1,128.0 288.0,130.8 282.1,134.0 276.0,139.5 270.0,142.0 266.0,142.7 252.0,142.5 248.0,141.8 244.0,140.0 240.0,137.2 238.0,136.9 234.0,138.0 230.0,137.2 226.0,133.3 224.5,130.0 224.7,128.0 226.4,126.0 229.4,124.0 238.0,120.0Z" fill="#f20000" fill-rule="evenodd"/>
<path d="M250.9,120.0 262.0,119.5 276.0,119.9 281.1,122.0 283.3,124.0 283.7,126.0 282.2,128.0 276.0,133.3 274.0,134.6 270.0,135.6 268.0,135.1 266.0,133.9 262.0,129.8 260.0,128.7 258.0,128.4 256.0,128.9 250.0,132.4 248.0,132.8 240.0,131.0 232.0,131.1 229.9,130.0 229.7,128.0 231.4,126.0 237.9,122.0 244.0,120.6Z" fill="#ea0000" fill-rule="evenodd"/>
<path d="M264.2,124.0 266.0,123.0 272.0,122.8 275.0,124.0 275.2,126.0 273.0,128.0 270.0,128.4 266.0,126.3Z" fill="#e10000" fill-rule="evenodd"/>
<path d="M238.4,-6.0 419.8,-6.0 421.6,4.0 424.3,8.0 430.0,12.5 450.4,26.0 460.0,31.6 478.4,40.0 504.0,48.6 512.0,50.2 538.0,54.0 576.0,54.1 584.0,53.4 616.0,48.2 626.0,45.7 626.0,200.7 594.0,201.3 586.0,203.2 582.0,205.4 580.0,207.2 576.7,212.0 575.2,216.0 571.1,242.0 568.6,250.0 564.9,258.0 559.3,266.0 553.3,272.0 546.0,277.3 538.0,281.2 530.0,283.6 520.0,285.1 512.0,285.2 496.0,284.3 490.0,284.8 484.0,286.5 462.0,294.8 448.0,297.4 438.0,297.6 428.0,296.1 418.0,292.9 404.0,287.0 398.0,285.8 391.0,288.0 376.0,296.3 372.0,296.9 370.0,296.1 362.0,288.2 358.0,282.5 355.3,274.0 353.1,262.0 353.2,254.0 356.2,232.0 358.9,202.0 358.7,194.0 356.3,170.0 353.6,162.0 346.3,148.0 342.4,142.0 338.0,136.8 333.8,128.0 330.0,123.6 324.0,120.1 310.0,114.4 296.0,105.2 290.0,102.6 284.0,101.8 280.0,102.4 276.0,104.1 270.0,108.6 268.0,109.1 266.0,108.4 260.0,104.3 256.0,103.1 252.0,103.2 237.0,108.0 228.0,108.8 224.0,110.3 220.0,113.5 212.0,122.5 205.4,134.0 202.0,136.3 196.0,137.2 190.0,142.6 186.0,143.6 178.0,142.2 170.0,143.0 166.0,142.9 159.5,142.0 152.0,139.9 146.0,137.1 140.0,133.1 134.6,128.0 129.7,122.0 122.8,112.0 118.5,104.0 116.8,98.0 116.9,94.0 119.0,84.0 121.2,78.0 123.9,74.0 138.0,57.9 156.0,32.1 166.0,21.0 172.0,16.2 180.0,11.6 186.0,9.2 194.0,7.3 200.0,6.8 208.0,7.1 228.0,11.5 232.0,11.1 234.0,10.0 236.3,6.0ZM52.1,30.0 70.0,29.5 80.0,30.2 88.0,33.5 98.0,40.5 102.0,45.3 104.7,54.0 111.3,66.0 112.4,70.0 113.7,80.0 113.8,88.0 110.7,98.0 107.7,102.0 94.0,113.9 78.8,124.0 62.0,132.2 54.0,132.9 38.0,132.4 32.0,130.6 28.9,128.0 21.5,118.0 16.9,110.0 15.9,106.0 15.6,100.0 15.5,74.0 16.0,66.0 20.5,50.0 24.0,43.9 29.0,40.0 36.7,36.0 46.0,31.7Z" fill="#e5e5ff" fill-rule="evenodd"/>
<path d="M249.0,-6.0 405.8,-6.0 408.3,2.0 411.8,10.0 416.0,16.6 420.0,20.7 458.0,46.3 478.0,56.7 492.0,61.9 508.0,66.8 532.0,71.7 540.0,72.8 580.0,72.8 618.0,68.5 626.0,68.5 626.0,186.4 592.0,193.8 584.0,196.9 578.0,201.0 573.4,206.0 570.0,212.0 567.8,218.0 561.2,240.0 557.6,248.0 554.0,254.0 549.2,260.0 542.5,266.0 536.0,270.2 528.0,273.8 516.0,276.8 490.0,279.2 464.0,284.9 448.0,286.3 438.0,285.8 430.0,284.5 402.0,277.1 384.0,275.8 380.0,275.0 376.5,272.0 372.7,266.0 369.5,260.0 367.9,254.0 368.1,244.0 371.5,200.0 370.0,183.8 367.2,168.0 364.0,161.3 353.5,146.0 349.8,142.0 340.0,134.6 338.0,132.3 334.2,126.0 330.0,122.0 326.0,119.8 310.0,113.5 296.0,104.1 290.0,101.4 284.0,100.6 280.0,101.1 276.0,102.7 270.0,107.4 268.0,108.1 260.0,103.0 256.0,102.0 252.0,102.0 238.0,106.5 228.0,107.6 224.0,109.0 220.0,112.1 211.5,122.0 208.9,126.0 206.0,132.0 204.3,134.0 200.1,136.0 196.0,136.1 190.0,141.9 186.0,142.9 178.0,141.4 172.0,141.4 166.0,140.6 160.0,139.0 153.2,136.0 147.1,132.0 142.8,128.0 138.0,122.0 133.6,114.0 130.9,106.0 130.1,98.0 131.3,88.0 133.8,80.0 137.8,72.0 145.7,60.0 156.0,46.0 164.0,36.9 170.0,31.3 176.0,26.9 182.0,23.5 190.0,20.4 196.0,18.9 204.0,17.9 228.0,17.9 234.9,16.0 240.0,12.1 243.0,8.0 246.9,0.0ZM67.9,64.0 74.0,63.6 88.0,64.8 94.0,67.3 98.0,70.4 105.1,78.0 107.1,82.0 107.4,84.0 107.3,86.0 105.9,90.0 102.0,95.8 98.0,98.8 94.0,100.1 88.0,100.5 76.0,99.9 72.0,99.1 68.0,97.4 62.2,94.0 58.0,90.7 56.0,88.0 54.6,84.0 53.8,80.0 54.1,76.0 56.8,72.0 60.8,68.0 64.0,65.7Z" fill="#d4d4ff" fill-rule="evenodd"/>
<path d="M258.8,-6.0 393.2,-6.0 394.8,-2.0 405.5,18.0 412.0,27.6 416.0,31.9 454.0,58.7 482.0,72.1 508.0,82.0 532.0,88.1 540.0,89.6 578.0,92.6 618.0,91.3 626.0,92.1 626.0,171.9 610.0,179.0 586.0,188.1 580.0,191.4 574.1,196.0 568.9,202.0 565.2,208.0 553.8,236.0 546.9,248.0 541.9,254.0 536.0,259.3 530.0,263.4 522.0,267.2 514.0,269.7 504.0,271.7 472.0,276.3 456.0,277.2 444.0,276.4 430.0,274.3 420.0,272.0 396.0,265.1 392.2,262.0 388.7,258.0 384.3,252.0 382.6,248.0 381.4,238.0 378.9,194.0 373.5,170.0 370.5,162.0 366.8,156.0 357.7,144.0 353.0,140.0 340.4,132.0 334.5,124.0 330.0,120.5 312.0,113.6 308.0,111.3 296.0,102.8 292.0,100.8 288.0,99.6 282.0,99.3 278.0,100.3 274.0,102.3 270.0,105.6 268.0,106.4 260.0,101.6 256.0,100.5 252.0,100.5 238.0,105.1 226.0,106.8 222.0,108.9 220.0,110.6 214.4,118.0 210.5,122.0 206.0,130.5 204.0,133.2 202.0,134.5 200.0,135.0 196.0,134.4 190.0,141.2 186.0,142.2 170.0,139.4 160.0,135.6 154.3,132.0 149.8,128.0 146.4,124.0 142.6,118.0 139.6,110.0 138.2,102.0 138.5,94.0 140.2,86.0 143.3,78.0 148.8,68.0 156.0,57.8 164.0,48.3 170.0,42.5 176.0,37.7 182.0,33.9 190.0,30.1 196.0,28.2 204.0,26.5 228.0,23.6 234.0,21.9 238.0,20.1 243.6,16.0 249.0,10.0 256.9,-2.0ZM89.9,78.0 94.0,77.5 98.0,78.5 100.0,79.5 102.5,82.0 103.4,84.0 103.5,86.0 102.0,89.6 100.0,91.7 96.0,93.3 92.0,92.9 88.0,90.8 85.5,88.0 84.6,84.0 85.1,82.0 86.5,80.0Z" fill="#c3c3ff" fill-rule="evenodd"/>
<path d="M269.3,-6.0 380.4,-6.0 403.1,30.0 408.0,36.9 412.0,41.3 442.0,63.6 456.0,71.9 480.0,84.6 506.0,96.3 538.0,105.9 578.0,111.0 616.0,112.7 620.0,113.4 626.0,116.6 626.0,152.5 616.0,162.0 608.2,168.0 600.0,172.9 580.0,182.6 574.0,186.8 570.0,190.5 565.4,196.0 560.3,204.0 548.0,230.9 541.3,242.0 536.4,248.0 532.0,252.2 526.0,256.7 520.2,260.0 510.1,264.0 500.0,266.5 484.0,269.1 470.0,270.1 460.0,269.5 449.8,268.0 426.0,263.6 416.0,260.5 408.3,256.0 403.8,252.0 399.4,246.0 396.5,240.0 394.2,232.0 389.6,208.0 385.4,190.0 379.0,166.0 376.7,160.0 374.6,156.0 370.3,150.0 364.4,144.0 358.9,140.0 342.0,130.8 336.0,123.3 330.0,119.0 312.0,112.6 307.5,110.0 296.0,101.5 292.0,99.5 288.0,98.2 282.0,97.8 278.0,98.6 268.0,103.7 258.0,99.3 252.0,98.9 238.0,103.3 226.0,105.3 222.0,107.3 219.0,110.0 214.0,117.2 209.4,122.0 204.0,132.1 202.0,133.6 200.0,134.0 196.0,133.3 194.0,134.9 192.4,138.0 190.0,140.5 188.0,141.4 186.0,141.6 171.6,138.0 163.2,134.0 155.8,128.0 149.8,120.0 147.1,114.0 145.2,106.0 145.0,98.0 146.3,90.0 148.9,82.0 152.9,74.0 159.7,64.0 166.5,56.0 172.0,50.6 178.0,45.8 184.0,41.9 191.9,38.0 204.0,34.1 230.0,28.9 236.0,26.8 242.0,23.7 247.1,20.0 253.5,14.0 266.8,-2.0ZM95.7,86.0 98.0,85.0 98.6,86.0 98.0,86.8Z" fill="#b2b2ff" fill-rule="evenodd"/>
<path d="M281.6,-6.0 366.1,-6.0 380.0,10.4 398.9,38.0 405.2,46.0 412.0,52.3 434.0,69.7 442.0,75.2 480.0,97.9 500.0,107.4 510.0,111.5 540.0,121.6 596.0,132.7 608.0,136.0 609.9,138.0 610.0,140.0 606.3,150.0 601.6,158.0 595.9,164.0 590.0,167.8 576.0,174.6 570.0,179.1 565.3,184.0 560.9,190.0 556.2,198.0 544.0,223.4 539.2,232.0 533.6,240.0 526.0,247.7 516.0,254.6 504.0,259.6 488.0,263.3 474.0,264.2 466.0,263.4 460.0,262.1 440.0,255.3 424.5,252.0 421.1,250.0 414.0,240.5 409.3,232.0 403.3,212.0 393.0,186.0 386.3,160.0 384.4,156.0 381.6,152.0 376.0,146.0 370.8,142.0 344.3,130.0 342.0,128.0 337.2,122.0 334.0,119.6 328.0,116.9 312.0,111.7 308.0,109.3 298.0,101.5 292.0,98.0 286.0,96.3 280.0,96.3 268.0,100.5 258.0,97.4 252.0,97.1 248.0,97.9 238.0,101.2 228.0,102.9 224.0,104.3 220.0,106.9 218.0,109.1 213.7,116.0 208.3,122.0 204.0,130.7 202.0,132.5 200.0,132.9 196.0,132.3 194.0,133.4 191.6,138.0 190.0,139.8 188.0,140.7 184.0,140.6 174.0,137.1 168.2,134.0 163.0,130.0 157.7,124.0 153.4,116.0 151.3,108.0 151.0,100.0 152.3,92.0 155.9,82.0 161.7,72.0 168.0,64.1 174.0,58.1 180.0,53.2 192.0,46.0 204.0,41.5 232.0,34.1 238.0,31.8 245.1,28.0 250.9,24.0 257.8,18.0 280.3,-4.0Z" fill="#a2a2ff" fill-rule="evenodd"/>
<path d="M296.5,-4.0 298.9,-6.0 347.2,-6.0 362.0,4.6 372.0,14.3 381.3,26.0 398.0,50.3 404.0,57.3 436.0,83.0 450.0,93.0 478.0,110.3 504.0,124.1 536.0,137.1 569.1,148.0 576.1,152.0 577.2,154.0 568.0,162.2 564.0,167.0 560.8,172.0 556.0,181.3 542.1,212.0 536.0,224.0 529.4,234.0 522.2,242.0 516.0,247.0 508.0,251.7 500.0,255.0 490.0,257.7 482.0,258.8 474.0,258.7 466.0,257.0 459.4,254.0 436.3,238.0 431.9,234.0 427.1,228.0 421.5,218.0 413.7,200.0 408.3,186.0 400.9,164.0 396.3,156.0 391.0,150.0 383.4,144.0 374.0,138.6 346.0,128.4 340.0,122.0 334.4,118.0 329.3,116.0 316.0,112.5 312.0,110.8 307.6,108.0 296.0,98.6 288.0,95.0 284.0,94.3 280.0,94.3 268.0,97.2 258.0,95.1 252.0,94.8 248.0,95.5 224.0,102.1 220.0,104.6 216.9,108.0 212.2,116.0 207.0,122.0 203.3,130.0 202.0,131.4 200.0,131.9 196.0,131.5 194.0,132.3 190.8,138.0 188.0,140.1 184.0,139.8 175.2,136.0 169.6,132.0 165.6,128.0 161.2,122.0 157.9,114.0 156.6,106.0 157.1,98.0 159.1,90.0 162.7,82.0 168.0,74.0 174.0,67.2 184.0,58.8 196.0,52.0 206.4,48.0 232.0,40.3 240.0,37.1 246.0,33.9 257.5,26.0 282.0,5.3Z" fill="#9090ff" fill-rule="evenodd"/>
<path d="M318.4,0.0 328.0,0.2 338.0,2.2 348.0,6.4 356.0,11.3 366.0,20.0 374.7,30.0 384.3,44.0 397.2,66.0 402.0,71.0 422.0,85.8 444.0,103.5 468.0,120.3 488.0,132.6 514.0,144.9 535.2,156.0 538.2,158.0 542.0,161.9 545.0,168.0 545.9,174.0 545.5,182.0 543.0,192.0 535.3,210.0 528.0,224.0 522.0,232.4 514.0,240.4 508.0,244.8 502.0,248.1 496.0,250.6 488.0,252.8 480.0,253.8 474.0,253.4 468.7,252.0 464.8,250.0 462.0,247.7 445.5,230.0 442.3,226.0 438.7,220.0 429.5,200.0 422.4,170.0 417.2,156.0 413.6,150.0 408.0,146.4 388.0,137.2 374.0,132.7 350.0,127.0 347.9,126.0 341.5,120.0 336.0,116.9 314.0,110.9 308.9,108.0 296.0,97.0 288.0,93.1 280.0,92.0 268.0,93.6 256.0,92.0 250.0,92.2 230.0,97.3 224.0,99.4 220.0,101.8 216.0,106.0 211.7,114.0 206.0,121.4 202.1,130.0 200.0,130.8 196.0,130.7 194.0,131.4 190.1,138.0 188.0,139.3 184.0,139.0 177.8,136.0 173.2,132.0 169.7,128.0 165.8,122.0 162.8,114.0 162.0,108.0 162.5,100.0 164.7,92.0 168.6,84.0 174.0,76.6 180.6,70.0 190.0,63.1 200.0,58.0 232.0,47.2 246.0,40.8 258.0,33.1 282.0,14.5 294.0,7.1 306.0,2.3 312.0,0.8ZM368.0,105.9 366.0,106.5 364.0,108.1 363.0,110.0 363.2,114.0 364.0,115.5 366.0,117.4 368.0,118.2 372.0,117.9 374.6,116.0 375.7,114.0 376.1,112.0 375.7,110.0 374.4,108.0 372.0,106.5Z" fill="#8080ff" fill-rule="evenodd"/>
<path d="M311.0,10.0 318.0,9.1 326.0,9.2 334.0,10.6 340.0,12.5 346.0,15.2 352.0,18.8 358.0,23.4 364.8,30.0 371.4,38.0 376.7,46.0 381.1,54.0 385.3,64.0 388.5,74.0 389.9,82.0 389.2,88.0 386.5,92.0 382.0,94.8 370.0,99.2 364.0,102.5 362.0,104.2 359.2,108.0 355.1,118.0 352.7,120.0 350.0,120.3 336.0,114.9 320.0,111.7 314.0,110.0 307.8,106.0 296.0,95.2 292.0,92.7 286.0,90.3 280.0,89.3 268.0,89.6 254.0,88.2 246.0,88.8 226.0,94.7 222.0,96.7 218.0,99.8 214.0,104.8 209.4,114.0 205.1,120.0 202.0,128.1 200.0,129.7 194.0,130.5 192.4,132.0 190.0,136.8 188.7,138.0 186.0,138.6 183.4,138.0 179.9,136.0 177.8,134.0 172.2,126.0 169.3,120.0 167.7,114.0 167.3,106.0 168.8,98.0 172.0,90.4 176.2,84.0 182.0,77.8 190.0,71.6 200.0,66.2 208.0,63.1 232.0,55.1 244.0,49.7 256.0,42.4 278.0,25.9 288.0,19.2 300.0,13.2ZM412.9,120.0 416.0,120.0 420.0,122.0 423.6,126.0 424.7,128.0 424.9,130.0 424.0,130.5 422.0,130.2 414.1,128.0 410.5,126.0 409.6,124.0 410.1,122.0ZM430.4,138.0 432.0,137.4 434.0,137.6 466.0,143.7 484.0,147.4 494.0,150.5 512.1,158.0 527.2,170.0 532.0,174.9 534.8,180.0 535.9,186.0 535.1,190.0 532.1,198.0 525.3,214.0 520.0,223.6 513.4,232.0 506.0,238.7 500.0,242.6 492.0,246.2 484.0,248.2 476.0,248.7 470.0,247.2 466.0,244.6 455.7,232.0 449.2,222.0 446.5,216.0 443.9,208.0 441.3,196.0 439.5,176.0 437.8,168.0 435.0,162.0 429.1,154.0 427.5,150.0 427.5,144.0 429.0,140.0Z" fill="#6e6eff" fill-rule="evenodd"/>
<path d="M313.2,18.0 322.0,17.5 332.0,18.9 340.0,21.5 348.0,25.7 356.0,31.8 363.7,40.0 369.4,48.0 374.4,58.0 376.9,66.0 377.9,72.0 377.7,78.0 376.6,82.0 373.3,88.0 360.0,101.0 352.0,111.2 348.0,113.7 344.0,114.0 318.0,110.4 314.0,109.1 310.0,106.7 296.0,93.1 290.0,89.3 286.0,87.6 278.0,85.7 254.0,82.5 248.0,82.2 242.0,82.8 234.0,84.7 228.0,86.9 222.0,90.3 216.0,95.7 211.9,102.0 207.6,112.0 203.1,120.0 200.1,128.0 193.3,130.0 192.0,131.1 190.0,135.3 188.0,137.4 186.0,137.7 184.0,137.1 181.9,136.0 180.0,134.0 173.9,120.0 172.7,114.0 172.7,108.0 173.8,102.0 176.2,96.0 180.0,90.0 186.0,83.7 192.0,79.4 200.0,75.4 208.0,72.7 228.0,67.5 238.0,63.4 252.0,54.6 276.0,35.8 288.0,27.5 300.0,21.5 306.0,19.5ZM475.1,168.0 482.0,166.9 488.0,167.1 496.0,168.9 502.0,171.6 508.0,175.6 518.4,184.0 520.9,188.0 521.7,192.0 520.4,202.0 517.5,212.0 514.0,219.3 509.2,226.0 502.0,233.4 495.8,238.0 486.3,242.0 478.0,243.6 474.0,243.5 470.0,242.0 466.0,238.0 462.0,232.0 458.4,226.0 455.8,220.0 453.9,212.0 453.1,204.0 453.1,198.0 454.0,191.4 456.0,184.5 458.1,180.0 460.9,176.0 464.0,173.1 469.4,170.0Z" fill="#5e5eff" fill-rule="evenodd"/>
<path d="M312.7,26.0 320.0,25.5 328.0,26.2 336.0,28.4 344.0,32.2 352.0,38.0 358.0,44.2 363.5,52.0 367.4,60.0 369.1,66.0 369.8,72.0 369.3,78.0 367.3,84.0 363.8,90.0 353.0,104.0 350.0,107.3 346.0,109.9 340.0,111.0 330.0,110.8 320.0,109.9 314.0,108.2 310.0,105.6 298.0,92.5 292.0,87.7 284.0,83.3 265.4,76.0 262.3,74.0 260.2,72.0 259.1,70.0 259.0,66.0 262.1,60.0 268.8,52.0 279.6,42.0 288.0,35.8 296.0,31.3 304.0,28.0ZM196.1,88.0 202.0,86.9 206.2,88.0 207.7,90.0 208.1,92.0 207.5,98.0 204.5,110.0 201.2,118.0 198.7,126.0 196.0,127.8 192.0,129.3 188.2,136.0 186.0,136.5 184.0,135.8 182.1,134.0 181.2,132.0 178.6,116.0 179.0,108.0 181.0,102.0 184.8,96.0 190.0,91.2ZM485.0,188.0 490.0,188.0 494.0,189.0 500.0,191.2 503.6,194.0 505.0,196.0 506.5,200.0 507.4,206.0 507.4,210.0 506.2,214.0 503.8,218.0 495.6,228.0 492.0,231.5 488.0,233.6 481.4,236.0 476.0,237.1 474.0,236.9 472.0,235.9 470.0,233.3 466.0,225.8 463.7,220.0 463.5,214.0 465.1,204.0 466.6,200.0 470.0,196.3 480.0,189.8Z" fill="#4d4dff" fill-rule="evenodd"/>
<path d="M310.9,34.0 318.0,33.2 326.0,33.7 334.0,35.7 340.0,38.4 346.0,42.3 352.0,47.8 356.8,54.0 360.0,60.0 362.0,66.0 362.9,72.0 362.6,78.0 361.1,84.0 357.1,92.0 351.8,100.0 348.0,104.3 344.0,107.0 338.0,108.8 328.0,109.4 320.0,108.9 314.0,107.2 309.7,104.0 296.0,87.8 279.1,74.0 275.9,70.0 274.6,66.0 275.6,60.0 277.7,56.0 282.4,50.0 289.2,44.0 296.0,39.5 304.0,35.9ZM190.1,106.0 192.0,104.6 194.0,104.1 196.0,104.8 197.5,108.0 197.5,112.0 196.0,118.4 194.0,123.0 192.0,123.5 188.3,120.0 186.9,116.0 187.6,110.0ZM185.9,128.0 188.0,127.5 189.3,130.0 188.0,134.3 186.0,134.7 184.7,134.0 183.7,132.0 184.1,130.0Z" fill="#3c3cff" fill-rule="evenodd"/>
<path d="M309.4,42.0 316.0,40.8 322.0,40.7 328.0,41.6 335.1,44.0 340.0,46.6 346.0,51.4 350.1,56.0 353.7,62.0 355.4,66.0 356.7,72.0 356.9,78.0 355.8,84.0 353.6,90.0 350.4,96.0 346.0,101.6 342.0,104.7 336.0,106.9 326.0,108.1 318.0,107.6 313.6,106.0 309.3,102.0 287.2,72.0 285.8,68.0 285.5,64.0 286.5,60.0 288.6,56.0 292.0,52.0 298.0,47.1 304.0,43.9Z" fill="#2b2bff" fill-rule="evenodd"/>
<path d="M319.6,48.0 324.0,48.2 330.0,49.6 335.5,52.0 340.0,55.0 344.0,58.8 347.7,64.0 350.0,69.0 351.2,74.0 351.6,78.0 351.0,84.0 349.3,90.0 346.3,96.0 343.3,100.0 340.0,102.7 336.0,104.7 330.0,106.3 324.0,107.0 318.0,106.6 314.0,105.1 312.0,103.5 308.0,98.0 297.7,80.0 295.0,74.0 294.1,70.0 294.1,66.0 295.2,62.0 297.7,58.0 300.0,55.5 304.0,52.5 309.1,50.0 314.0,48.6Z" fill="#1a1aff" fill-rule="evenodd"/>
<path d="M315.2,56.0 320.0,55.3 324.0,55.5 328.0,56.4 332.2,58.0 336.0,60.3 340.0,63.9 343.0,68.0 344.9,72.0 346.1,76.0 346.6,82.0 345.8,88.0 344.5,92.0 342.5,96.0 339.1,100.0 336.3,102.0 332.1,104.0 326.0,105.6 322.0,105.9 318.0,105.5 314.0,103.9 312.1,102.0 309.5,98.0 302.6,82.0 300.8,74.0 300.9,70.0 302.1,66.0 304.0,62.9 306.9,60.0 310.0,57.9Z" fill="#0909ff" fill-rule="evenodd"/>
<path d="M315.1,64.0 318.0,63.1 322.0,62.7 326.0,63.2 330.0,64.6 334.0,67.1 337.0,70.0 339.6,74.0 341.2,78.0 341.9,82.0 341.9,86.0 341.3,90.0 339.8,94.0 337.1,98.0 334.9,100.0 331.8,102.0 326.6,104.0 320.0,104.7 316.8,104.0 314.0,102.3 311.2,98.0 308.1,90.0 306.1,80.0 306.6,74.0 308.0,70.2 309.5,68.0 312.0,65.7Z" fill="#0000f9" fill-rule="evenodd"/>
<path d="M315.8,72.0 318.0,70.9 322.0,70.0 328.0,71.2 332.2,74.0 334.1,76.0 336.3,80.0 337.4,84.0 337.5,88.0 336.0,94.0 333.2,98.0 330.9,100.0 326.0,102.6 320.0,103.4 316.0,102.1 313.9,100.0 312.1,96.0 310.3,88.0 310.3,82.0 312.0,76.3 314.0,73.5Z" fill="#0000ed" fill-rule="evenodd"/>
<path d="M319.8,78.0 324.0,77.5 328.0,79.0 330.0,80.7 332.0,83.7 333.1,88.0 332.2,94.0 329.6,98.0 326.0,100.7 322.0,102.0 318.0,101.4 316.0,100.0 314.1,96.0 313.4,92.0 313.5,88.0 314.4,84.0 316.0,80.9Z" fill="#0000e1" fill-rule="evenodd"/>
<path d="M319.6,86.0 322.0,84.9 324.0,85.0 326.0,86.0 327.6,88.0 328.4,90.0 328.3,94.0 327.5,96.0 326.0,98.0 322.0,100.2 320.0,100.2 318.0,99.0 316.4,96.0 316.2,94.0 316.9,90.0 318.0,87.6Z" fill="#0000d5" fill-rule="evenodd"/>
<path d="M321.6,94.0 322.3,94.0 322.4,96.0 322.0,96.4 320.9,96.0Z" fill="#0000c9" fill-rule="evenodd"/>
</g>
<path d="M140.6,-0.6 138.9,4.8 126.4,8.1 127.2,11.1 134.7,11.8 135.6,15.1 143.9,16.1 153.9,13.5 157.6,14.8 154.8,17.8 144.8,20.1 153.1,24.5 152.3,26.2 140.6,24.8 136.4,28.5 132.2,31.8 125.6,35.8 121.4,39.9 123.0,44.0 132.2,45.7 140.6,44.0 143.4,48.7 138.9,46.9 127.2,49.2 122.2,53.2 118.9,59.1 116.4,64.1 120.5,66.9 116.4,66.9 113.0,70.8 112.2,75.3 112.3,76.1 106.8,77.6 111.8,79.3 113.0,83.1 115.3,87.2 118.3,90.2 120.0,92.7 118.3,97.0 115.6,94.4 112.6,90.0 110.0,86.7 108.8,89.2 111.6,93.2 115.0,98.2 118.6,101.2 117.8,103.2 115.3,104.7 116.6,108.2 117.8,111.8 115.8,115.3 113.6,118.1 112.8,120.1 117.3,120.5 123.9,119.5 127.1,118.8 128.9,115.3 129.1,112.1 131.1,110.5 133.1,112.1 132.4,115.8 134.4,117.5 139.1,117.8 140.7,118.9 137.4,120.1 132.9,120.5 127.9,121.1 123.9,121.8 119.8,122.5 113.8,123.8 111.8,125.3 112.3,128.8 113.3,132.3 114.8,136.4 117.8,139.4 121.3,140.2 123.9,143.4 127.9,142.4 128.9,145.4 124.9,145.4 122.8,147.9 121.8,152.4 123.9,156.5 122.8,160.5 123.9,163.0 126.9,164.0 127.4,168.0 130.9,167.5 134.9,167.0 135.9,162.5 137.9,158.5 142.9,157.5 145.4,154.4 147.0,151.4 149.0,147.9 150.2,143.4 151.0,140.9 153.0,141.4 153.8,145.4 153.0,149.4 152.0,152.4 156.0,153.4 160.0,154.4 162.5,156.5 164.0,152.9 167.0,150.4 169.0,146.9 171.6,143.4 173.1,139.9 175.1,136.9 180.1,133.9 186.1,130.8 190.9,130.1 193.1,127.3 195.2,124.8 198.7,125.3 202.2,126.8 204.2,129.3 202.2,133.4 199.2,131.3 197.2,135.4 194.1,139.4 196.2,143.4 199.2,147.4 202.2,151.4 206.2,153.4 208.2,150.4 212.2,147.4 214.2,144.4 210.2,143.4 207.2,141.4 209.2,139.4 214.2,138.4 218.2,140.4 220.3,137.4 218.2,133.4 214.2,129.3 212.2,125.3 211.2,122.3 212.2,119.8 207.2,117.8 214.2,116.3 220.3,113.8 222.3,110.8 223.8,115.3 224.3,120.3 226.3,125.3 225.3,131.3 228.3,135.4 233.3,137.4 234.3,133.4 237.3,129.3 243.4,126.3 247.4,123.3 246.4,117.3 242.4,115.3 238.3,116.3 234.3,114.3 230.3,111.3 228.3,107.2 230.8,105.7 234.3,110.3 238.3,108.2 241.3,105.2 242.4,101.7 245.4,103.2 250.4,104.2 253.7,106.3 258.2,105.3 260.7,101.3 261.7,98.8 263.7,100.3 266.7,101.3 269.2,97.3 272.3,95.3 274.8,92.5 275.6,95.3 275.0,101.3 275.3,107.3 279.8,108.8 281.8,110.8 286.8,109.8 289.3,107.8 291.8,106.3 293.6,107.6 296.1,108.0 298.3,106.8 300.4,105.5 302.1,108.0 299.9,110.2 301.2,111.9 304.6,112.7 308.0,113.5 310.5,112.7 310.5,110.2 310.9,106.8 309.7,103.4 309.2,101.7 311.4,101.3 314.7,100.9 316.4,99.2 316.0,96.6 313.9,95.4 309.7,96.2 306.3,97.9 303.7,99.6 305.0,97.1 308.0,95.4 312.2,93.2 313.9,91.1 317.3,90.3 321.5,91.1 324.9,92.8 326.6,94.9 330.0,94.9 330.4,94.1 328.7,93.2 327.4,89.9 325.7,86.9 324.0,83.9 325.7,83.1 327.4,83.1 328.3,85.6 331.7,86.9 334.2,86.5 335.5,88.2 335.9,90.3 338.4,90.7 341.0,91.6 343.5,89.9 344.3,92.0 348.6,92.0 352.8,91.6 354.5,89.4 356.2,91.1 358.7,88.2 361.3,87.3 362.1,90.7 361.3,94.9 363.4,95.8 366.3,93.7 368.9,90.3 371.0,88.6 373.6,89.4 376.2,87.2 380.2,85.2 384.2,82.2 387.2,78.2 388.8,74.2 391.3,71.2 396.3,68.2 398.3,64.1 399.3,59.1 402.3,55.1 404.3,53.1 408.0,41.5 410.5,33.2 413.0,24.8 415.5,14.8 418.8,6.5 421.4,-0.6 412.2,-0.6 408.0,4.8 403.8,-0.6Z M86.2,156.5 88.7,153.4 92.7,151.4 96.7,148.4 99.8,145.4 100.8,142.4 103.8,143.4 107.8,144.9 111.3,146.9 112.8,150.4 110.8,154.4 107.8,158.0 103.8,160.0 98.7,161.5 93.7,162.5 90.2,162.0 88.2,159.5Z M102.3,125.3 105.8,124.8 108.8,127.3 109.8,132.3 110.8,136.4 107.8,139.4 104.8,138.4 103.3,134.4 102.3,130.3Z M81.7,93.2 83.7,89.7 87.7,87.2 92.2,86.7 92.7,89.2 89.7,91.2 91.7,93.2 96.7,91.2 100.8,93.2 101.8,96.7 98.7,98.2 93.7,97.2 90.7,97.7 86.7,95.7 83.7,95.7Z M101.8,89.2 105.8,87.2 108.8,86.2 110.8,89.2 108.8,93.2 105.8,94.7 103.3,92.7Z M75.1,112.8 78.7,109.8 82.7,107.7 85.2,110.3 84.7,113.3 87.7,112.8 91.2,112.3 92.2,116.3 90.7,119.8 92.7,122.3 93.2,127.3 90.2,128.3 86.7,126.3 85.2,122.3 85.7,118.8 82.7,116.3 78.7,114.3Z M105.3,103.2 110.8,102.2 117.8,101.7 115.8,105.2 110.8,107.2 106.8,106.7Z M98.2,113.8 103.8,111.8 107.8,110.3 111.3,113.3 110.3,117.3 105.8,116.3 101.8,115.8Z M65.6,123.3 69.6,121.3 77.2,120.8 76.7,123.3 73.6,124.3 76.7,127.3 77.2,131.3 73.6,133.4 69.6,132.3 67.1,129.3 68.6,126.3 66.1,125.3Z M77.7,137.4 79.7,135.4 83.7,135.9 87.2,138.4 86.7,142.4 83.7,145.4 80.2,144.9 78.2,141.4Z M78.2,167.0 81.2,165.5 85.2,166.5 86.2,169.0 82.7,170.0 79.2,169.5Z M124.9,181.6 127.9,179.5 129.9,174.5 133.9,174.0 135.9,177.5 138.4,178.0 141.9,180.6 141.4,184.6 138.4,185.1 136.9,181.6 133.9,181.6 129.9,183.6 126.9,185.1 124.9,183.6Z M158.0,177.5 160.5,175.5 164.0,176.0 165.8,179.0 164.0,182.1 160.5,182.6 158.0,180.6Z M198.7,190.6 201.7,190.1 204.2,192.6 204.2,196.1 201.2,195.1 199.2,193.1Z M138.4,161.5 140.9,159.0 144.9,158.5 148.0,161.5 150.0,165.5 149.0,168.5 144.9,168.5 140.9,166.5 138.9,164.0Z M150.0,157.5 153.0,154.9 158.0,154.9 160.0,157.5 157.0,159.5 153.0,160.5Z M153.0,162.5 158.0,162.0 162.5,163.5 161.5,166.5 157.0,168.0 153.5,166.0Z M171.6,161.5 175.1,159.5 179.1,160.5 182.6,163.5 179.1,166.0 176.1,166.5 174.1,164.0Z M183.1,150.9 187.1,148.9 193.1,149.4 196.2,151.9 194.7,154.9 189.1,155.9 184.6,154.4Z M215.7,151.4 220.3,149.9 224.3,152.4 223.8,155.9 219.8,157.5 216.7,155.4Z M240.3,144.9 244.4,143.4 248.4,146.4 249.9,149.9 246.4,149.9 242.9,147.9Z M243.4,135.4 245.4,131.3 247.4,128.3 249.9,131.3 251.4,136.4 249.4,140.4 245.9,139.9Z M184.1,143.4 185.6,139.4 189.1,135.9 191.6,137.4 192.1,143.4 190.1,146.9 186.6,146.9Z M97.2,106.7 98.7,106.0 100.6,107.0 100.3,108.7 98.5,109.5 97.2,108.4Z M255.2,109.3 258.7,107.3 261.7,109.3 261.2,113.4 262.7,117.4 266.7,118.4 263.7,119.9 259.7,122.4 258.7,127.9 256.2,127.4 255.2,123.4 253.2,118.4 252.7,113.4Z M266.7,112.3 269.8,108.8 273.3,111.3 275.3,115.4 274.8,119.4 275.3,123.4 274.3,129.4 271.8,130.4 267.7,129.9 265.7,126.4 264.7,122.4 267.7,118.4 265.7,115.4Z M247.7,127.9 249.7,130.4 251.2,134.4 252.2,138.5 248.7,141.0 244.6,139.5 243.1,135.4 245.1,132.4 246.7,130.4Z M240.1,145.0 243.6,143.5 247.2,146.5 249.2,150.0 245.1,150.0 242.1,148.0Z M288.3,116.4 290.8,115.4 293.4,117.4 292.8,119.9 289.8,120.2 288.3,118.4Z M289.8,134.4 293.9,133.4 297.4,134.9 296.9,138.0 292.8,138.5 290.3,137.0Z M92.1,263.8 93.8,258.8 98.8,253.8 104.7,248.8 113.9,245.5 125.6,241.6 138.9,239.1 152.3,237.9 158.1,239.6 164.0,243.0 167.3,247.1 166.5,253.0 162.3,258.0 157.3,263.0 147.3,266.3 137.2,269.7 125.6,271.0 113.9,269.7 107.2,271.3 102.2,274.4 97.2,271.3 93.5,268.0Z M199.0,190.3 202.4,189.5 204.9,193.7 204.1,197.0 200.7,195.4Z M100.2,44.0 103.0,41.2 107.2,41.2 106.3,44.0 102.2,46.5Z M17.8,131.7 22.0,128.7 25.3,130.1 22.8,134.2 19.5,136.7Z M620.8,130.4 618.3,132.3 611.9,136.1 608.1,141.2 601.8,145.0 599.3,150.0 594.2,153.8 586.6,157.6 584.0,154.5 577.7,155.1 573.9,158.9 571.3,155.7 561.2,157.0 558.7,154.5 553.6,153.8 549.8,157.6 546.0,162.7 543.4,169.1 547.2,176.7 548.5,181.8 544.7,184.3 543.4,189.4 547.2,194.4 545.3,200.8 548.5,203.9 552.5,199.5 559.2,195.4 569.2,194.5 574.2,201.2 580.9,203.7 587.5,201.2 594.2,193.7 600.9,197.0 609.3,196.2 619.6,194.5Z M549.1,205.4 540.8,203.7 534.1,202.0 525.7,204.5 519.1,207.9 510.7,209.5 505.7,213.7 504.0,217.9 506.5,220.4 500.7,223.7 495.7,227.9 489.0,227.1 491.5,230.4 498.2,230.4 497.4,233.3 490.7,234.6 487.3,231.3 483.2,228.8 479.0,231.3 475.6,234.6 469.8,237.9 472.3,241.3 477.3,240.4 468.1,244.6 463.9,247.1 459.8,248.8 457.3,243.0 450.6,240.4 446.4,242.1 445.6,246.3 441.4,248.8 443.1,253.0 448.9,256.3 445.6,261.3 446.4,265.5 442.2,259.7 435.6,257.2 428.9,255.5 427.2,258.0 420.5,258.0 419.7,263.0 418.0,269.7 423.9,273.0 428.0,276.4 433.0,279.7 430.5,283.0 428.0,288.1 426.4,294.7 428.0,301.4 432.2,306.4 437.2,311.4 440.6,316.4 497.4,316.4 492.3,306.4 480.7,304.8 470.6,304.8 477.3,298.1 480.7,294.7 477.3,288.1 474.0,281.4 484.0,274.7 489.0,278.0 497.4,279.7 502.4,288.1 503.2,296.4 510.7,306.4 519.1,316.4 619.6,316.4 619.6,268.0 606.8,266.3 605.1,261.3 607.6,257.2 619.6,256.3 619.6,227.1 607.6,227.9 600.9,234.6 590.9,237.1 580.9,235.4 570.8,232.9 564.2,229.6 559.2,222.9 555.8,214.6 557.5,211.2 552.5,204.5Z M430.5,208.7 437.2,210.4 439.7,213.7 442.2,217.9 439.7,221.2 435.6,222.1 433.0,225.4 428.9,222.1 426.4,217.9 428.0,212.9Z M442.2,247.1 445.6,246.3 448.1,249.6 446.4,253.0 443.1,251.3Z M375.0,276.4 376.5,277.1 376.9,281.6 375.8,285.3 375.0,289.0 376.5,293.4 380.6,291.9 382.4,293.4 380.2,296.4 377.2,298.2 375.0,300.1 374.3,304.5 372.8,306.7 370.6,310.4 368.7,309.7 368.4,306.7 365.4,306.0 362.4,307.5 359.5,310.4 356.5,312.7 353.6,314.9 343.2,316.0 346.2,311.9 350.6,309.7 353.6,305.3 358.0,303.8 361.0,300.1 362.4,296.4 366.9,294.2 369.1,289.0 372.1,286.0 373.5,281.6 373.9,277.9Z M371.3,266.8 373.5,264.6 376.5,263.1 379.5,264.6 379.8,266.8 377.2,269.0 373.5,268.6Z M416.5,253.5 418.7,255.7 417.2,259.4 415.0,263.8 412.0,268.3 408.3,272.0 403.9,274.9 399.4,276.4 396.8,274.9 398.0,272.0 402.4,268.3 404.6,265.3 406.8,259.4 412.0,257.2 414.2,254.9Z M412.4,246.8 415.0,244.2 418.7,244.2 420.2,246.1 417.9,247.9 414.2,248.3Z M328.4,316.0 330.6,313.0 333.6,312.7 335.1,316.0Z M315.6,113.5 317.3,111.0 320.7,109.3 324.9,108.9 328.3,110.2 330.0,110.6 329.1,108.5 327.4,106.8 327.0,105.1 329.5,104.2 332.9,102.6 335.0,101.3 334.6,99.2 335.5,97.5 337.6,97.5 338.4,99.2 338.0,101.7 338.4,104.2 339.7,106.8 339.7,109.3 338.4,111.0 340.1,111.9 340.5,114.0 338.4,115.2 339.7,117.3 341.8,119.9 341.4,121.6 339.3,120.3 337.6,118.6 335.0,119.0 333.3,121.2 335.0,123.3 336.7,125.0 335.9,126.7 333.8,127.1 331.7,129.2 329.5,130.9 328.3,129.6 326.6,128.8 324.9,129.2 324.5,127.5 325.7,126.2 324.9,124.5 323.2,123.7 322.8,121.2 324.9,119.5 326.6,117.8 326.2,116.1 324.0,116.9 322.4,119.0 319.0,118.6 317.3,116.5Z M345.2,94.9 346.9,94.1 349.4,95.4 349.8,98.3 349.0,100.9 347.7,102.1 346.5,100.4 345.6,97.5Z M300.4,116.9 302.1,115.2 306.3,114.4 309.7,114.0 311.4,116.1 310.5,119.5 310.9,121.6 307.6,121.6 305.4,120.3 303.7,119.0 300.8,118.6Z M407.8,128.3 410.6,129.5 412.0,132.3 411.2,136.8 410.1,141.3 407.8,146.4 404.4,150.4 402.7,153.8 401.6,157.1 402.2,160.0 403.9,162.8 402.2,165.6 399.9,167.3 397.1,170.1 395.4,174.1 393.1,176.9 392.0,180.9 389.7,184.8 386.9,187.6 384.1,188.5 381.3,186.5 380.7,182.0 381.8,176.3 383.0,170.7 384.4,165.6 385.8,163.9 387.5,166.7 390.9,165.6 394.3,163.9 392.0,162.8 386.9,162.2 386.3,161.1 390.3,160.0 389.7,155.4 391.4,151.5 393.1,147.0 394.3,143.0 392.0,142.5 393.1,139.6 394.8,135.1 398.8,134.0 402.2,132.3 404.4,130.0Z" fill="#808080" stroke="#000" stroke-width="2.9" stroke-linejoin="round"/>
<path d="M120.8,128.8 123.9,128.1 127.9,130.8 130.4,133.4 127.9,134.6 123.9,133.4 121.3,131.3Z M442.2,288.1 451.4,288.9 454.8,293.1 453.1,298.1 458.9,306.4 448.9,303.1 444.7,307.3 442.2,301.4 440.6,294.7 437.2,289.7Z" fill="#fff" stroke="#000" stroke-width="2.9" stroke-linejoin="round"/>
<path d="M191.8,0V315.1 M383.8,0V315.1 M575.8,0V315.1 M0,27.2H618.6 M0,123.2H618.6 M0,219.2H618.6" stroke="#b0b0b0" stroke-width="1.9" fill="none"/>
<path d="M153.0,326.0 L160.6,314.1 L192.4,263.0 L247.0,209.0 L301.8,156.1 L383.6,83.2 L486.4,1.4 L497.0,-7.0" fill="none" stroke="#000" stroke-width="3.1" stroke-dasharray="11.2,4.4"/>
<path d="M476.3,-9.6 480.3,2.6 493.1,2.6 482.7,10.2 486.7,22.4 476.3,14.9 465.9,22.4 469.9,10.2 459.5,2.6 472.3,2.6Z" fill="none" stroke="#000" stroke-width="2.1" stroke-linejoin="miter"/>
</g>
<rect x="0" y="0" width="618.6" height="315.1" fill="none" stroke="#000" stroke-width="1.6"/>
<path d="M-0.2,315.1v6.6 M191.8,315.1v6.6 M383.8,315.1v6.6 M575.8,315.1v6.6 M0,27.2h-7 M0,123.2h-7 M0,219.2h-7 M0,315.1h-7" stroke="#000" stroke-width="1.6" fill="none"/>
<text x="0.1" y="351.4" font-size="31.7" text-anchor="middle">125.2°E</text>
<text x="192.1" y="351.4" font-size="31.7" text-anchor="middle">127.2°E</text>
<text x="384.1" y="351.4" font-size="31.7" text-anchor="middle">129.2°E</text>
<text x="576.1" y="351.4" font-size="31.7" text-anchor="middle">131.2°E</text>
<text x="-13.5" y="38.4" font-size="31.7" text-anchor="end">35.77°N</text>
<text x="-13.5" y="134.4" font-size="31.7" text-anchor="end">34.77°N</text>
<text x="-13.5" y="230.4" font-size="31.7" text-anchor="end">33.77°N</text>
<text x="-13.5" y="326.3" font-size="31.7" text-anchor="end">32.77°N</text>
<text x="308.7" y="-11.4" font-size="38.3" text-anchor="middle">2022-09-06 08:00:00</text>
<path d="M656.6,-53.6L668.4,-75.9L680.2,-53.6Z" fill="#800000"/>
<path d="M656.6,368.5L668.4,390.8L680.2,368.5Z" fill="#00004c"/>
<rect x="656.6" y="-54.6" width="23.6" height="424.1" fill="url(#cb)"/>
<path d="M656.6,-54.6L668.4,-75.9L680.2,-54.6L680.2,369.5L668.4,390.8L656.6,369.5Z" fill="none" stroke="#000" stroke-width="1.6" stroke-linejoin="miter"/>
<text x="694.1" y="-43.7" font-size="31.7">30</text>
<text x="694.1" y="27.0" font-size="31.7">20</text>
<text x="694.1" y="97.7" font-size="31.7">10</text>
<text x="694.1" y="168.4" font-size="31.7">0</text>
<text x="694.1" y="239.0" font-size="31.7">−10</text>
<text x="694.1" y="309.7" font-size="31.7">−20</text>
<text x="694.1" y="380.4" font-size="31.7">−30</text>
<path d="M680.2,-54.6h7 M680.2,16.1h7 M680.2,86.8h7 M680.2,157.5h7 M680.2,228.1h7 M680.2,298.8h7 M680.2,369.5h7" stroke="#000" stroke-width="1.6" fill="none"/>
<text transform="translate(777.8,157.4) rotate(-90)" font-size="31.7" text-anchor="middle">anomaly (cm)</text>
</g>
<g transform="translate(146.4,1087.8)">
<g clip-path="url(#fr)">
<clipPath id="dr20"><path d="M2.5,21.0 8.0,15.5 77.0,8.0 150.0,1.0 165.0,-3.0 621.6,-3.0 621.6,307.0 430.0,308.0 253.0,310.9 118.0,313.4 34.0,312.0 20.0,308.5 17.4,283.0 8.3,150.0Z"/></clipPath>
<g clip-path="url(#dr20)">
<rect x="-2" y="-2" width="623" height="319" fill="#f6f6ff"/>
<path d="M-6.0,-6.0 143.5,-6.0 144.5,-2.0 147.1,4.0 150.9,10.0 154.6,14.0 174.0,32.0 186.0,45.2 195.2,58.0 198.2,64.0 199.3,68.0 199.2,72.0 197.5,76.0 180.0,96.6 176.0,100.3 174.0,101.4 170.0,102.6 156.0,103.4 150.0,104.5 144.0,106.9 138.0,110.9 134.0,115.3 130.3,122.0 123.5,144.0 120.0,150.0 114.0,155.8 106.0,161.4 100.0,164.1 93.4,166.0 87.3,170.0 66.8,192.0 58.8,202.0 45.6,228.0 43.5,234.0 42.3,240.0 39.8,266.0 41.0,310.0 40.3,322.0 -6.0,322.0ZM124.0,7.6 120.0,8.9 118.4,10.0 117.0,12.0 116.4,14.0 116.6,20.0 118.2,24.0 119.7,26.0 124.0,28.8 128.0,29.4 134.0,28.6 139.2,26.0 141.0,24.0 142.7,20.0 142.7,16.0 141.4,12.0 139.6,10.0 136.0,8.2 130.0,7.2ZM368.1,-6.0 626.0,-6.0 626.0,223.3 620.0,221.9 600.0,214.6 594.0,213.0 588.0,212.8 584.0,214.8 581.9,218.0 581.3,222.0 584.1,244.0 584.1,254.0 583.1,262.0 580.8,270.0 576.2,280.0 570.7,288.0 562.9,296.0 554.0,302.4 544.0,307.3 532.0,310.8 522.0,312.1 504.0,312.6 498.0,313.7 490.0,317.8 487.3,320.0 485.9,322.0 391.1,322.0 388.6,318.0 384.0,314.0 379.2,312.0 362.0,306.8 356.0,303.5 336.0,286.4 330.0,278.9 319.8,260.0 317.2,254.0 316.0,249.5 313.0,218.0 312.8,194.0 313.4,184.0 317.9,160.0 321.5,150.0 325.6,142.0 329.6,136.0 333.5,132.0 340.0,127.7 344.0,124.2 350.0,116.6 352.2,112.0 355.4,102.0 361.2,88.0 364.6,78.0 368.0,62.0 369.4,46.0 369.4,26.0Z" fill="#fff7f7" fill-rule="evenodd"/>
<path d="M390.4,-6.0 626.0,-6.0 626.0,200.5 604.0,200.7 594.0,201.5 588.0,202.8 584.0,204.4 578.0,208.7 574.0,214.0 571.4,220.0 565.8,248.0 563.2,256.0 560.4,262.0 556.0,269.1 550.0,275.9 544.0,280.8 538.0,284.4 530.0,287.7 520.0,289.9 512.0,290.3 498.0,289.3 492.0,289.6 486.3,292.0 470.0,302.7 458.0,307.8 452.0,309.3 444.0,310.3 438.0,310.3 430.0,309.2 422.0,306.8 414.0,303.1 406.0,298.2 400.0,293.2 396.0,288.1 390.9,280.0 375.0,252.0 372.5,246.0 370.7,240.0 366.3,220.0 361.9,196.0 358.8,190.0 348.4,176.0 346.0,170.4 344.5,160.0 344.4,150.0 345.4,140.0 347.5,132.0 355.6,118.0 361.0,100.0 368.7,84.0 374.3,68.0 378.2,52.0 384.0,18.0ZM44.8,78.0 50.0,77.1 58.0,77.1 76.0,78.6 84.0,79.8 92.0,82.4 102.0,87.0 106.0,89.2 110.0,92.3 112.0,94.9 113.2,98.0 117.2,120.0 117.1,128.0 116.0,141.6 114.2,146.0 112.5,148.0 106.0,152.5 98.9,156.0 94.0,157.7 82.0,159.8 65.1,160.0 60.0,159.2 54.0,156.5 42.3,148.0 35.3,142.0 32.3,138.0 30.3,134.0 24.3,116.0 23.0,108.0 23.7,100.0 25.7,90.0 28.0,85.4 30.0,83.5 32.7,82.0Z" fill="#ffe5e5" fill-rule="evenodd"/>
<path d="M426.2,-4.0 428.1,-6.0 509.5,-6.0 511.7,-4.0 520.0,0.1 556.0,12.6 584.0,23.2 618.0,42.7 626.0,46.1 626.0,183.5 598.0,189.8 590.0,192.1 582.0,195.4 574.0,201.0 569.3,206.0 564.3,214.0 561.0,222.0 554.3,242.0 549.6,252.0 546.0,257.4 542.0,262.2 538.0,266.0 532.0,270.3 526.0,273.5 518.0,276.3 510.0,278.0 490.0,280.8 482.0,283.2 464.0,289.8 452.0,292.2 444.0,292.4 436.0,291.2 428.0,288.6 420.0,284.0 414.0,278.9 409.8,274.0 404.3,266.0 395.9,252.0 393.0,246.0 391.0,240.0 384.0,209.9 378.1,188.0 367.0,156.0 365.2,148.0 363.3,134.0 363.3,124.0 365.8,106.0 366.8,102.0 374.4,88.0 383.2,68.0 387.5,56.0 395.0,32.0 398.0,24.2 402.0,17.1 408.0,9.7 416.0,2.8ZM71.4,100.0 84.0,99.4 94.0,100.1 100.0,102.3 103.8,106.0 108.5,114.0 110.2,118.0 111.0,122.0 111.0,128.0 110.0,135.3 108.3,140.0 106.6,142.0 104.0,143.5 98.0,145.1 90.0,146.3 84.0,146.3 78.0,145.0 72.0,142.8 64.0,138.8 60.0,135.5 57.8,132.0 55.0,124.0 54.1,120.0 54.3,116.0 57.6,110.0 62.7,104.0 66.0,101.5Z" fill="#ffd5d5" fill-rule="evenodd"/>
<path d="M415.2,32.0 418.0,31.1 422.0,31.0 446.0,33.2 454.0,34.8 484.0,43.5 510.0,48.8 520.0,50.2 558.0,53.0 568.0,54.7 586.0,61.3 598.0,67.0 604.6,72.0 624.0,90.2 626.0,91.4 626.0,166.0 612.0,173.1 584.0,183.5 576.0,187.9 568.1,194.0 562.6,200.0 557.3,208.0 553.4,216.0 545.3,236.0 538.5,248.0 534.0,253.3 528.9,258.0 524.0,261.4 518.0,264.6 506.0,268.6 464.0,278.0 454.0,279.2 444.0,278.5 438.0,276.9 434.0,275.2 428.6,272.0 423.9,268.0 415.8,258.0 407.0,242.0 404.7,236.0 400.0,219.0 395.2,192.0 389.6,176.0 386.6,164.0 380.4,116.0 380.0,108.0 381.5,100.0 387.0,84.0 412.0,35.3ZM79.8,114.0 82.0,112.9 86.0,112.3 92.0,113.6 96.0,116.0 98.5,120.0 99.0,124.0 98.0,127.8 96.2,130.0 92.0,132.2 86.0,133.1 80.0,132.0 77.0,130.0 74.6,126.0 74.1,122.0 75.7,118.0Z" fill="#ffc3c3" fill-rule="evenodd"/>
<path d="M421.4,68.0 425.5,68.0 428.8,70.0 430.2,72.0 430.6,74.0 430.0,77.0 428.0,78.1 426.0,78.0 422.0,76.6 418.6,74.0 417.7,72.0 418.2,70.0ZM470.7,82.0 486.0,80.6 530.0,83.5 538.0,84.9 562.0,90.5 572.0,93.8 578.0,97.3 594.0,109.2 604.0,118.7 613.6,130.0 616.3,134.0 618.6,140.0 618.8,146.0 617.8,150.0 615.5,154.0 610.0,159.3 604.0,162.7 588.0,169.0 578.0,173.8 568.0,180.5 559.6,188.0 553.1,196.0 548.3,204.0 538.0,228.7 533.1,238.0 526.9,246.0 520.0,252.0 514.0,255.6 508.7,258.0 494.0,262.3 466.0,267.2 458.0,267.8 450.0,267.5 442.0,265.7 438.0,263.8 434.0,260.8 427.0,252.0 422.1,244.0 419.1,238.0 403.9,188.0 401.0,166.0 401.0,152.0 402.3,146.0 404.2,142.0 408.0,136.7 416.0,128.0 421.7,120.0 429.3,108.0 438.0,91.1 440.0,88.3 442.0,87.0 446.0,85.8Z" fill="#ffb3b3" fill-rule="evenodd"/>
<path d="M500.2,122.0 534.0,120.2 556.0,122.2 564.0,123.3 574.0,126.5 590.0,133.8 597.0,140.0 598.4,142.0 598.8,144.0 597.3,146.0 584.0,151.8 572.0,159.6 560.0,170.2 548.0,182.4 542.5,190.0 538.4,198.0 530.3,222.0 526.9,230.0 521.7,238.0 515.3,244.0 508.8,248.0 502.0,250.9 494.0,253.2 486.0,254.8 474.0,256.1 462.0,256.4 452.0,255.9 446.0,254.6 441.8,252.0 436.9,244.0 434.6,238.0 428.3,216.0 416.3,192.0 414.8,188.0 414.4,184.0 416.6,168.0 417.2,152.0 418.0,148.9 420.2,146.0 424.0,143.4 438.0,136.0 446.0,132.7 480.0,124.0Z" fill="#ffa2a2" fill-rule="evenodd"/>
<path d="M488.8,162.0 498.0,160.5 508.0,160.0 522.0,160.4 526.0,160.9 529.0,162.0 529.4,164.0 525.3,176.0 523.6,184.0 521.2,214.0 519.2,224.0 516.4,230.0 512.0,235.2 506.0,239.2 499.6,242.0 492.0,244.1 482.0,245.2 474.0,244.9 464.0,242.8 458.0,240.2 455.7,238.0 452.6,232.0 447.9,218.0 446.7,212.0 446.7,208.0 447.8,196.0 449.4,188.0 451.3,184.0 455.8,178.0 461.2,172.0 466.0,168.2 472.0,165.6Z" fill="#ff9191" fill-rule="evenodd"/>
<path d="M486.6,210.0 490.0,209.0 496.0,208.8 500.0,209.5 504.0,211.9 506.0,214.9 507.2,220.0 506.8,224.0 505.8,226.0 503.6,228.0 499.9,230.0 492.0,232.4 484.0,232.4 480.0,230.6 478.0,228.1 477.1,226.0 476.5,222.0 476.8,220.0 478.0,217.4 480.8,214.0Z" fill="#ff8080" fill-rule="evenodd"/>
<path d="M232.4,-6.0 345.8,-6.0 352.0,10.1 355.2,20.0 358.2,32.0 360.1,44.0 360.9,56.0 360.7,66.0 359.4,76.0 357.0,86.0 349.4,108.0 345.2,116.0 342.0,119.8 338.0,123.2 320.0,133.3 316.8,136.0 300.0,161.7 292.2,182.0 288.5,194.0 284.6,210.0 276.4,252.0 275.5,322.0 140.2,322.0 138.8,316.0 132.4,298.0 125.6,268.0 122.2,260.0 112.5,240.0 103.7,216.0 102.1,208.0 100.7,196.0 100.0,186.0 100.3,182.0 102.2,178.0 105.6,174.0 126.2,154.0 140.0,138.0 144.0,134.5 148.0,132.0 156.0,129.0 164.0,128.0 172.0,128.2 188.0,130.2 192.0,129.6 193.9,128.0 194.4,126.0 194.6,116.0 196.6,110.0 200.0,105.1 206.0,101.0 212.0,99.6 218.0,100.3 224.0,103.1 233.2,110.0 236.0,110.7 240.0,110.2 250.0,107.6 254.0,107.6 262.0,109.0 265.0,108.0 266.0,106.0 264.7,102.0 254.7,86.0 244.5,68.0 239.0,56.0 234.9,44.0 231.8,30.0 230.6,18.0 230.7,8.0ZM624.5,318.0 626.0,317.5 626.0,322.0 619.8,322.0 621.3,320.0Z" fill="#e5e5ff" fill-rule="evenodd"/>
<path d="M285.9,-4.0 289.5,-6.0 305.9,-6.0 318.0,-0.1 326.0,5.2 332.0,10.7 338.0,17.8 344.0,27.4 348.8,38.0 351.9,48.0 353.8,58.0 354.5,68.0 354.2,76.0 352.7,86.0 350.6,94.0 345.6,108.0 342.0,114.2 336.0,120.2 328.0,124.9 315.2,130.0 309.7,134.0 305.1,140.0 288.0,166.4 275.6,184.0 266.0,194.3 252.0,207.9 240.0,219.2 232.0,225.9 206.0,245.5 198.0,249.6 190.0,251.2 174.0,252.7 168.0,252.4 164.0,251.0 158.0,247.3 144.0,236.5 140.0,232.4 137.1,228.0 128.0,210.2 125.0,202.0 118.8,180.0 118.6,176.0 119.6,172.0 122.1,168.0 126.0,164.4 146.0,149.2 154.0,144.2 164.7,140.0 188.0,135.6 194.0,133.2 196.0,131.3 197.7,128.0 199.4,120.0 202.0,114.4 206.0,110.2 210.0,108.1 214.0,107.3 220.0,107.9 232.0,113.3 236.0,114.2 250.0,113.2 264.0,114.1 266.0,113.6 268.9,112.0 270.6,110.0 271.3,108.0 271.5,104.0 270.0,98.1 261.2,76.0 257.9,64.0 256.0,50.0 256.5,36.0 258.0,28.5 260.0,22.4 263.0,16.0 266.0,11.3 270.0,6.6 274.0,2.9 280.0,-1.1Z" fill="#d4d4ff" fill-rule="evenodd"/>
<path d="M297.1,20.0 304.0,19.2 310.0,19.8 318.0,22.2 324.0,25.4 330.0,30.1 336.0,36.6 340.0,42.4 344.0,50.1 346.8,58.0 348.6,66.0 349.3,74.0 349.1,82.0 347.6,92.0 344.7,102.0 342.0,108.3 338.1,114.0 332.0,119.2 326.0,122.5 309.1,128.0 299.8,132.0 296.5,136.0 289.2,150.0 284.0,158.0 270.0,174.4 262.0,182.9 258.0,186.3 252.0,190.1 222.0,205.0 216.0,206.8 204.0,208.3 188.0,209.6 180.0,209.3 174.0,207.6 160.0,200.8 150.0,195.4 144.0,190.9 134.4,180.0 133.3,178.0 132.9,176.0 134.2,174.0 142.0,169.0 155.0,158.0 163.5,152.0 175.0,146.0 188.0,140.4 194.0,136.8 198.2,132.0 204.0,119.0 206.0,116.6 209.4,114.0 214.0,112.3 218.0,112.1 222.0,112.7 232.0,116.1 236.0,116.9 262.0,118.1 268.0,117.4 271.3,116.0 273.7,114.0 275.7,110.0 276.1,104.0 275.1,98.0 270.5,80.0 269.0,70.0 268.9,58.0 270.6,48.0 274.5,38.0 280.1,30.0 284.0,26.4 288.0,23.6 292.0,21.6Z" fill="#c3c3ff" fill-rule="evenodd"/>
<path d="M304.6,36.0 310.0,35.9 316.0,37.0 322.0,39.5 326.0,42.0 332.0,47.3 335.8,52.0 339.4,58.0 342.0,64.0 344.0,71.3 344.9,78.0 345.0,84.0 344.2,92.0 342.3,100.0 340.0,105.8 337.5,110.0 334.1,114.0 328.0,118.4 322.0,121.1 310.0,123.9 296.0,125.7 290.3,128.0 288.0,130.8 283.9,140.0 278.8,148.0 272.0,156.2 260.9,168.0 256.0,171.9 248.0,176.9 236.0,183.2 228.0,186.6 224.0,187.6 218.0,188.1 204.0,187.5 196.0,186.6 188.0,183.3 172.3,172.0 170.0,168.7 169.8,166.0 173.2,160.0 180.3,152.0 190.0,144.6 196.0,138.8 199.3,134.0 205.8,122.0 208.0,119.6 212.0,117.0 216.0,115.9 220.0,115.7 236.0,119.5 264.0,122.0 272.0,121.6 276.0,120.5 278.0,119.2 280.2,116.0 281.1,110.0 280.7,104.0 277.7,86.0 277.0,78.0 277.3,68.0 279.0,60.0 282.2,52.0 284.8,48.0 288.2,44.0 292.0,40.8 296.0,38.5 300.0,36.9Z" fill="#b2b2ff" fill-rule="evenodd"/>
<path d="M301.0,50.0 306.0,48.5 312.0,48.3 318.0,49.5 324.0,52.3 330.0,57.2 334.0,62.1 338.0,69.5 340.1,76.0 341.3,84.0 341.0,92.0 339.3,100.0 336.8,106.0 334.0,110.2 330.0,114.0 324.0,117.6 318.0,119.5 312.0,120.5 306.0,120.8 300.0,120.3 294.0,118.7 290.0,116.0 288.5,114.0 286.0,106.8 284.0,96.0 283.0,86.0 283.2,78.0 284.7,70.0 286.9,64.0 290.7,58.0 296.0,52.8ZM213.4,120.0 218.0,118.8 222.0,118.9 238.0,122.4 266.0,127.1 272.2,130.0 273.5,132.0 273.1,136.0 269.1,144.0 264.0,151.0 251.2,162.0 242.0,168.7 236.0,171.3 230.0,172.2 216.0,172.9 208.0,172.3 202.3,170.0 196.6,166.0 192.0,162.0 190.4,160.0 189.8,158.0 191.0,154.0 198.0,141.4 204.0,128.8 208.0,123.6Z" fill="#a2a2ff" fill-rule="evenodd"/>
<path d="M302.9,60.0 308.0,58.3 314.0,58.2 320.0,59.7 324.0,61.8 328.0,65.0 332.0,69.8 334.4,74.0 336.7,80.0 337.8,86.0 337.9,92.0 337.0,98.0 334.9,104.0 332.5,108.0 328.6,112.0 324.0,114.9 320.0,116.4 316.0,117.3 310.0,117.7 304.0,116.9 300.0,115.7 296.8,114.0 294.0,111.5 291.7,108.0 290.1,104.0 288.6,98.0 287.9,90.0 288.4,82.0 289.8,76.0 292.0,70.8 295.2,66.0 298.0,63.2ZM216.8,122.0 222.0,121.5 226.0,122.1 247.7,128.0 256.3,132.0 258.8,134.0 259.3,136.0 258.9,138.0 257.0,142.0 253.7,146.0 244.0,154.3 238.0,158.3 232.0,160.3 226.0,160.8 218.0,160.5 212.0,158.8 208.0,156.5 203.2,152.0 201.2,148.0 201.3,144.0 203.6,134.0 206.0,129.5 210.0,125.3 214.0,122.9Z" fill="#9090ff" fill-rule="evenodd"/>
<path d="M305.0,68.0 310.0,66.4 314.0,66.2 318.0,66.9 322.0,68.6 326.0,71.4 330.0,76.0 333.7,84.0 334.6,88.0 334.8,94.0 333.0,102.0 330.9,106.0 328.0,109.4 324.0,112.3 320.0,113.9 312.0,115.0 308.0,114.5 304.0,113.3 301.5,112.0 298.0,109.2 295.7,106.0 293.9,102.0 292.9,98.0 292.4,92.0 292.9,86.0 293.8,82.0 295.4,78.0 298.0,73.8 301.8,70.0ZM214.1,126.0 218.0,124.5 224.0,124.3 230.0,125.8 242.1,130.0 245.6,132.0 247.3,134.0 248.1,136.0 247.4,140.0 246.0,142.3 242.0,146.5 238.0,149.5 234.0,151.6 226.0,153.2 220.0,152.9 216.0,151.9 212.0,149.9 208.0,146.2 206.8,144.0 205.7,140.0 205.7,136.0 207.2,132.0 210.0,128.8Z" fill="#8080ff" fill-rule="evenodd"/>
<path d="M308.7,74.0 312.0,73.2 316.0,73.2 322.0,75.4 326.0,78.7 328.0,81.2 331.1,88.0 331.8,92.0 331.8,96.0 330.4,102.0 328.0,106.0 326.1,108.0 323.4,110.0 320.0,111.5 316.0,112.4 312.0,112.3 306.0,110.5 302.3,108.0 300.4,106.0 297.5,100.0 296.7,92.0 297.3,88.0 298.6,84.0 302.5,78.0 306.0,75.2ZM216.6,128.0 220.0,126.9 224.0,126.9 228.0,127.9 232.2,130.0 237.8,134.0 239.0,136.0 238.9,138.0 237.9,140.0 234.0,144.3 228.0,146.8 222.0,147.1 216.0,145.4 212.0,142.0 210.0,138.4 209.6,136.0 210.0,134.0 211.3,132.0Z" fill="#6e6eff" fill-rule="evenodd"/>
<path d="M310.0,80.0 314.0,79.1 320.0,80.4 324.8,84.0 328.2,90.0 329.1,96.0 327.7,102.0 324.9,106.0 320.0,109.2 314.0,110.0 308.0,108.1 304.0,104.7 301.5,100.0 300.8,94.0 302.1,88.0 304.0,84.7 306.0,82.5ZM220.0,130.0 224.0,129.8 228.4,132.0 230.0,134.0 230.6,136.0 230.3,138.0 228.8,140.0 226.0,141.5 224.0,141.9 220.0,141.4 217.5,140.0 215.8,138.0 215.2,136.0 215.5,134.0 216.9,132.0Z" fill="#5e5eff" fill-rule="evenodd"/>
<path d="M310.1,86.0 314.0,84.6 318.0,84.9 322.0,87.1 324.0,89.3 325.4,92.0 326.3,96.0 325.9,100.0 323.7,104.0 320.0,106.8 316.0,107.6 312.0,106.9 308.0,104.3 306.3,102.0 304.9,98.0 304.9,94.0 306.3,90.0 308.0,87.7Z" fill="#4d4dff" fill-rule="evenodd"/>
<path d="M313.3,90.0 316.0,89.4 318.0,89.8 320.0,90.8 322.7,94.0 323.6,98.0 323.2,100.0 322.3,102.0 320.0,104.2 318.0,104.9 314.0,104.7 312.0,103.7 310.2,102.0 309.2,100.0 308.8,96.0 309.3,94.0 310.6,92.0Z" fill="#3c3cff" fill-rule="evenodd"/>
<path d="M313.6,96.0 316.0,94.4 318.0,94.7 320.0,96.9 320.0,100.0 318.0,101.9 315.8,102.0 313.3,100.0 312.9,98.0Z" fill="#2b2bff" fill-rule="evenodd"/>
</g>
<path d="M140.6,-0.6 138.9,4.8 126.4,8.1 127.2,11.1 134.7,11.8 135.6,15.1 143.9,16.1 153.9,13.5 157.6,14.8 154.8,17.8 144.8,20.1 153.1,24.5 152.3,26.2 140.6,24.8 136.4,28.5 132.2,31.8 125.6,35.8 121.4,39.9 123.0,44.0 132.2,45.7 140.6,44.0 143.4,48.7 138.9,46.9 127.2,49.2 122.2,53.2 118.9,59.1 116.4,64.1 120.5,66.9 116.4,66.9 113.0,70.8 112.2,75.3 112.3,76.1 106.8,77.6 111.8,79.3 113.0,83.1 115.3,87.2 118.3,90.2 120.0,92.7 118.3,97.0 115.6,94.4 112.6,90.0 110.0,86.7 108.8,89.2 111.6,93.2 115.0,98.2 118.6,101.2 117.8,103.2 115.3,104.7 116.6,108.2 117.8,111.8 115.8,115.3 113.6,118.1 112.8,120.1 117.3,120.5 123.9,119.5 127.1,118.8 128.9,115.3 129.1,112.1 131.1,110.5 133.1,112.1 132.4,115.8 134.4,117.5 139.1,117.8 140.7,118.9 137.4,120.1 132.9,120.5 127.9,121.1 123.9,121.8 119.8,122.5 113.8,123.8 111.8,125.3 112.3,128.8 113.3,132.3 114.8,136.4 117.8,139.4 121.3,140.2 123.9,143.4 127.9,142.4 128.9,145.4 124.9,145.4 122.8,147.9 121.8,152.4 123.9,156.5 122.8,160.5 123.9,163.0 126.9,164.0 127.4,168.0 130.9,167.5 134.9,167.0 135.9,162.5 137.9,158.5 142.9,157.5 145.4,154.4 147.0,151.4 149.0,147.9 150.2,143.4 151.0,140.9 153.0,141.4 153.8,145.4 153.0,149.4 152.0,152.4 156.0,153.4 160.0,154.4 162.5,156.5 164.0,152.9 167.0,150.4 169.0,146.9 171.6,143.4 173.1,139.9 175.1,136.9 180.1,133.9 186.1,130.8 190.9,130.1 193.1,127.3 195.2,124.8 198.7,125.3 202.2,126.8 204.2,129.3 202.2,133.4 199.2,131.3 197.2,135.4 194.1,139.4 196.2,143.4 199.2,147.4 202.2,151.4 206.2,153.4 208.2,150.4 212.2,147.4 214.2,144.4 210.2,143.4 207.2,141.4 209.2,139.4 214.2,138.4 218.2,140.4 220.3,137.4 218.2,133.4 214.2,129.3 212.2,125.3 211.2,122.3 212.2,119.8 207.2,117.8 214.2,116.3 220.3,113.8 222.3,110.8 223.8,115.3 224.3,120.3 226.3,125.3 225.3,131.3 228.3,135.4 233.3,137.4 234.3,133.4 237.3,129.3 243.4,126.3 247.4,123.3 246.4,117.3 242.4,115.3 238.3,116.3 234.3,114.3 230.3,111.3 228.3,107.2 230.8,105.7 234.3,110.3 238.3,108.2 241.3,105.2 242.4,101.7 245.4,103.2 250.4,104.2 253.7,106.3 258.2,105.3 260.7,101.3 261.7,98.8 263.7,100.3 266.7,101.3 269.2,97.3 272.3,95.3 274.8,92.5 275.6,95.3 275.0,101.3 275.3,107.3 279.8,108.8 281.8,110.8 286.8,109.8 289.3,107.8 291.8,106.3 293.6,107.6 296.1,108.0 298.3,106.8 300.4,105.5 302.1,108.0 299.9,110.2 301.2,111.9 304.6,112.7 308.0,113.5 310.5,112.7 310.5,110.2 310.9,106.8 309.7,103.4 309.2,101.7 311.4,101.3 314.7,100.9 316.4,99.2 316.0,96.6 313.9,95.4 309.7,96.2 306.3,97.9 303.7,99.6 305.0,97.1 308.0,95.4 312.2,93.2 313.9,91.1 317.3,90.3 321.5,91.1 324.9,92.8 326.6,94.9 330.0,94.9 330.4,94.1 328.7,93.2 327.4,89.9 325.7,86.9 324.0,83.9 325.7,83.1 327.4,83.1 328.3,85.6 331.7,86.9 334.2,86.5 335.5,88.2 335.9,90.3 338.4,90.7 341.0,91.6 343.5,89.9 344.3,92.0 348.6,92.0 352.8,91.6 354.5,89.4 356.2,91.1 358.7,88.2 361.3,87.3 362.1,90.7 361.3,94.9 363.4,95.8 366.3,93.7 368.9,90.3 371.0,88.6 373.6,89.4 376.2,87.2 380.2,85.2 384.2,82.2 387.2,78.2 388.8,74.2 391.3,71.2 396.3,68.2 398.3,64.1 399.3,59.1 402.3,55.1 404.3,53.1 408.0,41.5 410.5,33.2 413.0,24.8 415.5,14.8 418.8,6.5 421.4,-0.6 412.2,-0.6 408.0,4.8 403.8,-0.6Z M86.2,156.5 88.7,153.4 92.7,151.4 96.7,148.4 99.8,145.4 100.8,142.4 103.8,143.4 107.8,144.9 111.3,146.9 112.8,150.4 110.8,154.4 107.8,158.0 103.8,160.0 98.7,161.5 93.7,162.5 90.2,162.0 88.2,159.5Z M102.3,125.3 105.8,124.8 108.8,127.3 109.8,132.3 110.8,136.4 107.8,139.4 104.8,138.4 103.3,134.4 102.3,130.3Z M81.7,93.2 83.7,89.7 87.7,87.2 92.2,86.7 92.7,89.2 89.7,91.2 91.7,93.2 96.7,91.2 100.8,93.2 101.8,96.7 98.7,98.2 93.7,97.2 90.7,97.7 86.7,95.7 83.7,95.7Z M101.8,89.2 105.8,87.2 108.8,86.2 110.8,89.2 108.8,93.2 105.8,94.7 103.3,92.7Z M75.1,112.8 78.7,109.8 82.7,107.7 85.2,110.3 84.7,113.3 87.7,112.8 91.2,112.3 92.2,116.3 90.7,119.8 92.7,122.3 93.2,127.3 90.2,128.3 86.7,126.3 85.2,122.3 85.7,118.8 82.7,116.3 78.7,114.3Z M105.3,103.2 110.8,102.2 117.8,101.7 115.8,105.2 110.8,107.2 106.8,106.7Z M98.2,113.8 103.8,111.8 107.8,110.3 111.3,113.3 110.3,117.3 105.8,116.3 101.8,115.8Z M65.6,123.3 69.6,121.3 77.2,120.8 76.7,123.3 73.6,124.3 76.7,127.3 77.2,131.3 73.6,133.4 69.6,132.3 67.1,129.3 68.6,126.3 66.1,125.3Z M77.7,137.4 79.7,135.4 83.7,135.9 87.2,138.4 86.7,142.4 83.7,145.4 80.2,144.9 78.2,141.4Z M78.2,167.0 81.2,165.5 85.2,166.5 86.2,169.0 82.7,170.0 79.2,169.5Z M124.9,181.6 127.9,179.5 129.9,174.5 133.9,174.0 135.9,177.5 138.4,178.0 141.9,180.6 141.4,184.6 138.4,185.1 136.9,181.6 133.9,181.6 129.9,183.6 126.9,185.1 124.9,183.6Z M158.0,177.5 160.5,175.5 164.0,176.0 165.8,179.0 164.0,182.1 160.5,182.6 158.0,180.6Z M198.7,190.6 201.7,190.1 204.2,192.6 204.2,196.1 201.2,195.1 199.2,193.1Z M138.4,161.5 140.9,159.0 144.9,158.5 148.0,161.5 150.0,165.5 149.0,168.5 144.9,168.5 140.9,166.5 138.9,164.0Z M150.0,157.5 153.0,154.9 158.0,154.9 160.0,157.5 157.0,159.5 153.0,160.5Z M153.0,162.5 158.0,162.0 162.5,163.5 161.5,166.5 157.0,168.0 153.5,166.0Z M171.6,161.5 175.1,159.5 179.1,160.5 182.6,163.5 179.1,166.0 176.1,166.5 174.1,164.0Z M183.1,150.9 187.1,148.9 193.1,149.4 196.2,151.9 194.7,154.9 189.1,155.9 184.6,154.4Z M215.7,151.4 220.3,149.9 224.3,152.4 223.8,155.9 219.8,157.5 216.7,155.4Z M240.3,144.9 244.4,143.4 248.4,146.4 249.9,149.9 246.4,149.9 242.9,147.9Z M243.4,135.4 245.4,131.3 247.4,128.3 249.9,131.3 251.4,136.4 249.4,140.4 245.9,139.9Z M184.1,143.4 185.6,139.4 189.1,135.9 191.6,137.4 192.1,143.4 190.1,146.9 186.6,146.9Z M97.2,106.7 98.7,106.0 100.6,107.0 100.3,108.7 98.5,109.5 97.2,108.4Z M255.2,109.3 258.7,107.3 261.7,109.3 261.2,113.4 262.7,117.4 266.7,118.4 263.7,119.9 259.7,122.4 258.7,127.9 256.2,127.4 255.2,123.4 253.2,118.4 252.7,113.4Z M266.7,112.3 269.8,108.8 273.3,111.3 275.3,115.4 274.8,119.4 275.3,123.4 274.3,129.4 271.8,130.4 267.7,129.9 265.7,126.4 264.7,122.4 267.7,118.4 265.7,115.4Z M247.7,127.9 249.7,130.4 251.2,134.4 252.2,138.5 248.7,141.0 244.6,139.5 243.1,135.4 245.1,132.4 246.7,130.4Z M240.1,145.0 243.6,143.5 247.2,146.5 249.2,150.0 245.1,150.0 242.1,148.0Z M288.3,116.4 290.8,115.4 293.4,117.4 292.8,119.9 289.8,120.2 288.3,118.4Z M289.8,134.4 293.9,133.4 297.4,134.9 296.9,138.0 292.8,138.5 290.3,137.0Z M92.1,263.8 93.8,258.8 98.8,253.8 104.7,248.8 113.9,245.5 125.6,241.6 138.9,239.1 152.3,237.9 158.1,239.6 164.0,243.0 167.3,247.1 166.5,253.0 162.3,258.0 157.3,263.0 147.3,266.3 137.2,269.7 125.6,271.0 113.9,269.7 107.2,271.3 102.2,274.4 97.2,271.3 93.5,268.0Z M199.0,190.3 202.4,189.5 204.9,193.7 204.1,197.0 200.7,195.4Z M100.2,44.0 103.0,41.2 107.2,41.2 106.3,44.0 102.2,46.5Z M17.8,131.7 22.0,128.7 25.3,130.1 22.8,134.2 19.5,136.7Z M620.8,130.4 618.3,132.3 611.9,136.1 608.1,141.2 601.8,145.0 599.3,150.0 594.2,153.8 586.6,157.6 584.0,154.5 577.7,155.1 573.9,158.9 571.3,155.7 561.2,157.0 558.7,154.5 553.6,153.8 549.8,157.6 546.0,162.7 543.4,169.1 547.2,176.7 548.5,181.8 544.7,184.3 543.4,189.4 547.2,194.4 545.3,200.8 548.5,203.9 552.5,199.5 559.2,195.4 569.2,194.5 574.2,201.2 580.9,203.7 587.5,201.2 594.2,193.7 600.9,197.0 609.3,196.2 619.6,194.5Z M549.1,205.4 540.8,203.7 534.1,202.0 525.7,204.5 519.1,207.9 510.7,209.5 505.7,213.7 504.0,217.9 506.5,220.4 500.7,223.7 495.7,227.9 489.0,227.1 491.5,230.4 498.2,230.4 497.4,233.3 490.7,234.6 487.3,231.3 483.2,228.8 479.0,231.3 475.6,234.6 469.8,237.9 472.3,241.3 477.3,240.4 468.1,244.6 463.9,247.1 459.8,248.8 457.3,243.0 450.6,240.4 446.4,242.1 445.6,246.3 441.4,248.8 443.1,253.0 448.9,256.3 445.6,261.3 446.4,265.5 442.2,259.7 435.6,257.2 428.9,255.5 427.2,258.0 420.5,258.0 419.7,263.0 418.0,269.7 423.9,273.0 428.0,276.4 433.0,279.7 430.5,283.0 428.0,288.1 426.4,294.7 428.0,301.4 432.2,306.4 437.2,311.4 440.6,316.4 497.4,316.4 492.3,306.4 480.7,304.8 470.6,304.8 477.3,298.1 480.7,294.7 477.3,288.1 474.0,281.4 484.0,274.7 489.0,278.0 497.4,279.7 502.4,288.1 503.2,296.4 510.7,306.4 519.1,316.4 619.6,316.4 619.6,268.0 606.8,266.3 605.1,261.3 607.6,257.2 619.6,256.3 619.6,227.1 607.6,227.9 600.9,234.6 590.9,237.1 580.9,235.4 570.8,232.9 564.2,229.6 559.2,222.9 555.8,214.6 557.5,211.2 552.5,204.5Z M430.5,208.7 437.2,210.4 439.7,213.7 442.2,217.9 439.7,221.2 435.6,222.1 433.0,225.4 428.9,222.1 426.4,217.9 428.0,212.9Z M442.2,247.1 445.6,246.3 448.1,249.6 446.4,253.0 443.1,251.3Z M375.0,276.4 376.5,277.1 376.9,281.6 375.8,285.3 375.0,289.0 376.5,293.4 380.6,291.9 382.4,293.4 380.2,296.4 377.2,298.2 375.0,300.1 374.3,304.5 372.8,306.7 370.6,310.4 368.7,309.7 368.4,306.7 365.4,306.0 362.4,307.5 359.5,310.4 356.5,312.7 353.6,314.9 343.2,316.0 346.2,311.9 350.6,309.7 353.6,305.3 358.0,303.8 361.0,300.1 362.4,296.4 366.9,294.2 369.1,289.0 372.1,286.0 373.5,281.6 373.9,277.9Z M371.3,266.8 373.5,264.6 376.5,263.1 379.5,264.6 379.8,266.8 377.2,269.0 373.5,268.6Z M416.5,253.5 418.7,255.7 417.2,259.4 415.0,263.8 412.0,268.3 408.3,272.0 403.9,274.9 399.4,276.4 396.8,274.9 398.0,272.0 402.4,268.3 404.6,265.3 406.8,259.4 412.0,257.2 414.2,254.9Z M412.4,246.8 415.0,244.2 418.7,244.2 420.2,246.1 417.9,247.9 414.2,248.3Z M328.4,316.0 330.6,313.0 333.6,312.7 335.1,316.0Z M315.6,113.5 317.3,111.0 320.7,109.3 324.9,108.9 328.3,110.2 330.0,110.6 329.1,108.5 327.4,106.8 327.0,105.1 329.5,104.2 332.9,102.6 335.0,101.3 334.6,99.2 335.5,97.5 337.6,97.5 338.4,99.2 338.0,101.7 338.4,104.2 339.7,106.8 339.7,109.3 338.4,111.0 340.1,111.9 340.5,114.0 338.4,115.2 339.7,117.3 341.8,119.9 341.4,121.6 339.3,120.3 337.6,118.6 335.0,119.0 333.3,121.2 335.0,123.3 336.7,125.0 335.9,126.7 333.8,127.1 331.7,129.2 329.5,130.9 328.3,129.6 326.6,128.8 324.9,129.2 324.5,127.5 325.7,126.2 324.9,124.5 323.2,123.7 322.8,121.2 324.9,119.5 326.6,117.8 326.2,116.1 324.0,116.9 322.4,119.0 319.0,118.6 317.3,116.5Z M345.2,94.9 346.9,94.1 349.4,95.4 349.8,98.3 349.0,100.9 347.7,102.1 346.5,100.4 345.6,97.5Z M300.4,116.9 302.1,115.2 306.3,114.4 309.7,114.0 311.4,116.1 310.5,119.5 310.9,121.6 307.6,121.6 305.4,120.3 303.7,119.0 300.8,118.6Z M407.8,128.3 410.6,129.5 412.0,132.3 411.2,136.8 410.1,141.3 407.8,146.4 404.4,150.4 402.7,153.8 401.6,157.1 402.2,160.0 403.9,162.8 402.2,165.6 399.9,167.3 397.1,170.1 395.4,174.1 393.1,176.9 392.0,180.9 389.7,184.8 386.9,187.6 384.1,188.5 381.3,186.5 380.7,182.0 381.8,176.3 383.0,170.7 384.4,165.6 385.8,163.9 387.5,166.7 390.9,165.6 394.3,163.9 392.0,162.8 386.9,162.2 386.3,161.1 390.3,160.0 389.7,155.4 391.4,151.5 393.1,147.0 394.3,143.0 392.0,142.5 393.1,139.6 394.8,135.1 398.8,134.0 402.2,132.3 404.4,130.0Z" fill="#808080" stroke="#000" stroke-width="2.9" stroke-linejoin="round"/>
<path d="M120.8,128.8 123.9,128.1 127.9,130.8 130.4,133.4 127.9,134.6 123.9,133.4 121.3,131.3Z M442.2,288.1 451.4,288.9 454.8,293.1 453.1,298.1 458.9,306.4 448.9,303.1 444.7,307.3 442.2,301.4 440.6,294.7 437.2,289.7Z" fill="#fff" stroke="#000" stroke-width="2.9" stroke-linejoin="round"/>
<path d="M191.8,0V315.1 M383.8,0V315.1 M575.8,0V315.1 M0,27.2H618.6 M0,123.2H618.6 M0,219.2H618.6" stroke="#b0b0b0" stroke-width="1.9" fill="none"/>
<path d="M153.0,326.0 L160.6,314.1 L192.4,263.0 L247.0,209.0 L301.8,156.1 L383.6,83.2 L486.4,1.4 L497.0,-7.0" fill="none" stroke="#000" stroke-width="3.1" stroke-dasharray="11.2,4.4"/>
</g>
<rect x="0" y="0" width="618.6" height="315.1" fill="none" stroke="#000" stroke-width="1.6"/>
<path d="M-0.2,315.1v6.6 M191.8,315.1v6.6 M383.8,315.1v6.6 M575.8,315.1v6.6 M0,27.2h-7 M0,123.2h-7 M0,219.2h-7 M0,315.1h-7" stroke="#000" stroke-width="1.6" fill="none"/>
<text x="0.1" y="351.4" font-size="31.7" text-anchor="middle">125.2°E</text>
<text x="192.1" y="351.4" font-size="31.7" text-anchor="middle">127.2°E</text>
<text x="384.1" y="351.4" font-size="31.7" text-anchor="middle">129.2°E</text>
<text x="576.1" y="351.4" font-size="31.7" text-anchor="middle">131.2°E</text>
<text x="-13.5" y="38.4" font-size="31.7" text-anchor="end">35.77°N</text>
<text x="-13.5" y="134.4" font-size="31.7" text-anchor="end">34.77°N</text>
<text x="-13.5" y="230.4" font-size="31.7" text-anchor="end">33.77°N</text>
<text x="-13.5" y="326.3" font-size="31.7" text-anchor="end">32.77°N</text>
<text x="308.7" y="-11.4" font-size="38.3" text-anchor="middle">2022-09-06 13:00:00</text>
<path d="M656.6,-53.6L668.4,-75.9L680.2,-53.6Z" fill="#800000"/>
<path d="M656.6,368.5L668.4,390.8L680.2,368.5Z" fill="#00004c"/>
<rect x="656.6" y="-54.6" width="23.6" height="424.1" fill="url(#cb)"/>
<path d="M656.6,-54.6L668.4,-75.9L680.2,-54.6L680.2,369.5L668.4,390.8L656.6,369.5Z" fill="none" stroke="#000" stroke-width="1.6" stroke-linejoin="miter"/>
<text x="694.1" y="-43.7" font-size="31.7">30</text>
<text x="694.1" y="27.0" font-size="31.7">20</text>
<text x="694.1" y="97.7" font-size="31.7">10</text>
<text x="694.1" y="168.4" font-size="31.7">0</text>
<text x="694.1" y="239.0" font-size="31.7">−10</text>
<text x="694.1" y="309.7" font-size="31.7">−20</text>
<text x="694.1" y="380.4" font-size="31.7">−30</text>
<path d="M680.2,-54.6h7 M680.2,16.1h7 M680.2,86.8h7 M680.2,157.5h7 M680.2,228.1h7 M680.2,298.8h7 M680.2,369.5h7" stroke="#000" stroke-width="1.6" fill="none"/>
<text transform="translate(777.8,157.4) rotate(-90)" font-size="31.7" text-anchor="middle">anomaly (cm)</text>
</g>
<g transform="translate(1088.7,1087.8)">
<g clip-path="url(#fr)">
<clipPath id="dr21"><path d="M2.5,21.0 8.0,15.5 77.0,8.0 150.0,1.0 165.0,-3.0 621.6,-3.0 621.6,307.0 430.0,308.0 253.0,310.9 118.0,313.4 34.0,312.0 20.0,308.5 17.4,283.0 8.3,150.0Z"/></clipPath>
<g clip-path="url(#dr21)">
<rect x="-2" y="-2" width="623" height="319" fill="#f6f6ff"/>
<path d="M-6.0,-6.0 528.8,-6.0 530.4,-4.0 536.0,-0.7 540.0,0.7 544.0,1.2 550.0,0.6 554.0,-0.7 559.6,-4.0 561.3,-6.0 626.0,-6.0 626.0,223.1 618.0,221.2 594.0,213.6 586.2,214.0 577.0,216.0 572.0,217.8 570.2,220.0 569.7,222.0 567.5,238.0 565.6,246.0 562.5,254.0 558.0,261.9 552.0,269.3 544.3,276.0 536.0,281.0 528.0,284.3 522.0,285.9 514.0,287.2 492.0,287.8 478.0,291.4 470.0,292.8 462.0,293.0 452.0,291.7 448.0,291.9 430.0,299.6 424.0,301.4 416.0,302.7 404.0,302.5 396.0,300.9 384.0,297.5 378.0,297.0 374.0,298.1 370.9,300.0 369.0,302.0 364.0,310.0 362.0,309.8 354.0,302.1 346.0,292.1 336.0,273.1 333.9,268.0 332.2,260.0 329.7,234.0 329.7,206.0 330.2,196.0 335.3,148.0 335.9,136.0 334.7,130.0 331.5,126.0 328.0,123.7 308.0,115.1 284.0,103.5 276.0,101.2 268.0,100.3 260.0,101.2 254.0,103.0 244.0,108.0 226.0,114.8 210.0,124.3 208.0,126.0 200.0,135.2 196.0,137.3 192.0,138.1 184.0,137.3 173.3,134.0 138.0,117.4 132.0,116.0 126.0,116.5 122.0,118.3 118.0,121.0 99.1,136.0 92.0,139.7 84.0,142.0 66.0,144.3 59.3,146.0 46.0,151.2 36.0,158.3 32.0,160.3 11.8,164.0 4.0,166.8 -6.0,171.3ZM126.0,16.0 120.0,16.6 118.0,18.0 117.4,20.0 117.2,24.0 118.5,36.0 122.0,51.1 124.0,54.8 126.0,56.5 128.0,57.2 134.0,57.0 136.0,56.3 138.0,54.6 139.7,50.0 139.9,36.0 138.8,24.0 138.0,20.9 136.0,18.0 132.0,16.4Z" fill="#fff7f7" fill-rule="evenodd"/>
<path d="M144.4,-6.0 421.6,-6.0 421.5,0.0 422.0,4.2 424.6,8.0 430.0,12.3 438.0,15.5 460.2,26.0 474.0,31.9 501.2,40.0 508.0,41.6 538.0,45.9 574.0,44.8 583.5,44.0 614.0,39.0 620.0,37.8 626.0,35.7 626.0,210.0 600.0,206.8 592.0,206.4 574.0,208.8 568.7,210.0 566.0,211.2 564.0,213.1 562.6,216.0 559.8,232.0 557.0,242.0 553.5,250.0 550.0,255.7 545.0,262.0 538.0,268.3 530.0,273.4 522.0,276.9 512.0,279.5 492.0,282.2 474.0,285.9 464.0,286.9 448.0,286.9 426.0,291.8 416.0,291.8 408.0,289.6 402.0,285.9 394.3,278.0 378.3,266.0 374.9,262.0 365.0,246.0 358.7,230.0 355.5,220.0 350.9,184.0 340.9,134.0 339.3,130.0 337.8,128.0 332.9,124.0 310.0,114.5 290.0,103.9 282.0,100.3 272.0,97.8 264.0,97.5 258.0,98.6 254.0,99.9 242.0,106.1 226.0,112.6 208.0,124.7 202.0,132.0 198.0,135.4 194.0,136.7 190.0,136.8 185.0,136.0 179.0,134.0 167.2,128.0 152.8,118.0 142.2,108.0 139.2,104.0 136.4,98.0 135.3,92.0 135.6,86.0 137.1,80.0 138.8,76.0 146.8,62.0 149.9,54.0 152.2,42.0 153.2,28.0 152.8,20.0 151.5,12.0 149.6,6.0ZM63.7,28.0 68.0,27.5 74.0,27.7 90.0,29.3 96.0,30.5 99.2,32.0 102.0,34.4 110.0,44.2 112.3,48.0 114.3,54.0 116.5,76.0 118.1,86.0 115.7,102.0 114.5,108.0 112.0,112.7 96.8,128.0 92.0,131.5 84.7,134.0 57.8,138.0 52.0,138.6 46.0,138.1 36.0,134.8 25.6,130.0 22.0,127.8 18.9,124.0 17.2,120.0 14.9,112.0 12.5,100.0 12.8,92.0 14.8,74.0 16.1,68.0 18.6,62.0 27.4,48.0 32.0,42.0 34.6,40.0 40.0,37.3Z" fill="#ffe5e5" fill-rule="evenodd"/>
<path d="M163.2,-6.0 408.8,-6.0 410.2,2.0 412.3,8.0 416.0,14.0 420.0,17.7 446.0,31.5 468.0,41.8 476.0,44.8 498.0,51.4 508.0,53.8 530.0,57.3 548.0,58.9 580.0,59.9 626.0,56.5 626.0,199.4 598.0,199.8 588.0,200.6 574.0,203.4 568.0,205.5 564.0,207.7 561.5,210.0 558.9,214.0 550.9,238.0 546.8,246.0 542.8,252.0 537.4,258.0 530.1,264.0 524.0,267.7 516.0,271.2 502.0,274.9 476.0,280.1 466.0,281.5 448.0,282.5 434.0,284.4 426.0,284.9 418.0,284.0 410.0,281.3 395.0,272.0 385.0,262.0 380.9,256.0 373.7,240.0 370.4,230.0 364.9,210.0 348.6,130.0 348.0,127.9 346.6,126.0 314.0,114.8 304.4,110.0 290.0,101.5 282.0,97.7 274.0,95.2 268.0,94.3 260.0,94.7 254.0,96.3 248.0,99.0 239.2,104.0 228.0,109.1 222.0,112.9 216.2,118.0 208.0,123.2 200.0,132.9 198.0,134.3 194.0,135.6 190.0,135.6 186.0,134.7 175.7,130.0 164.7,122.0 156.7,114.0 152.4,108.0 149.4,102.0 147.9,96.0 147.5,90.0 149.2,80.0 158.9,54.0 163.1,36.0 164.4,26.0 164.9,16.0 164.5,6.0ZM74.1,62.0 78.0,60.9 82.0,60.8 94.0,63.0 102.0,65.4 104.0,66.7 106.0,69.1 110.0,78.0 111.9,84.0 112.3,88.0 111.9,94.0 111.1,98.0 108.0,104.5 106.0,107.4 102.0,110.5 96.0,112.3 84.0,113.8 78.0,113.7 74.0,112.9 64.0,109.8 58.0,107.2 53.8,104.0 49.2,98.0 47.4,94.0 47.6,90.0 50.6,82.0 54.5,74.0 58.0,70.0 60.8,68.0Z" fill="#ffd5d5" fill-rule="evenodd"/>
<path d="M179.0,-6.0 397.7,-6.0 400.1,2.0 404.6,12.0 409.7,20.0 415.4,26.0 420.0,29.0 446.0,43.1 464.0,51.6 474.0,55.7 506.0,65.1 540.0,71.6 580.0,74.8 618.0,73.5 626.0,73.7 626.0,189.5 584.0,195.6 572.0,199.2 564.0,203.3 560.0,206.6 555.8,212.0 545.1,236.0 541.6,242.0 537.2,248.0 532.0,253.5 526.0,258.4 520.0,262.1 512.0,265.8 502.0,269.1 488.0,272.5 474.0,275.4 462.0,277.0 438.0,279.0 430.0,279.1 422.0,278.1 414.0,275.5 402.0,269.8 398.0,266.7 391.1,256.0 386.0,244.5 378.2,222.0 366.1,174.0 360.2,144.0 357.4,124.0 356.9,122.0 355.5,120.0 352.0,119.4 342.0,120.3 338.0,120.2 322.0,116.2 314.0,113.3 308.0,110.3 290.0,99.1 282.0,94.9 272.0,91.5 264.0,90.7 258.0,91.3 250.0,93.8 226.0,107.2 222.0,110.1 214.0,117.6 208.0,121.7 200.0,131.7 196.0,134.1 190.0,134.2 183.5,132.0 174.4,126.0 166.3,118.0 160.7,110.0 158.0,104.0 156.3,96.0 156.4,88.0 158.7,78.0 168.5,52.0 173.8,34.0 177.1,16.0ZM84.4,82.0 88.0,80.6 96.0,80.6 100.0,81.3 104.0,83.5 106.0,86.0 107.1,90.0 107.1,94.0 106.0,96.9 104.0,99.2 100.3,102.0 96.0,103.5 88.0,102.9 82.0,100.8 80.0,99.1 77.8,96.0 76.8,92.0 77.0,90.0 79.5,86.0Z" fill="#ffc3c3" fill-rule="evenodd"/>
<path d="M194.8,-6.0 386.6,-6.0 390.7,4.0 397.2,16.0 404.0,25.9 410.0,32.3 416.0,36.8 444.0,53.4 470.0,65.7 504.0,76.4 538.0,83.3 580.0,88.3 618.0,89.8 626.0,90.6 626.0,179.7 611.8,184.0 582.0,190.5 572.0,194.3 564.0,198.7 558.0,203.7 554.0,208.4 550.5,214.0 540.0,234.0 532.6,244.0 528.0,248.6 522.0,253.5 510.0,260.3 500.1,264.0 488.0,267.4 474.0,270.5 460.0,272.7 446.0,274.0 436.0,274.3 428.0,273.5 420.0,271.3 416.0,269.3 411.3,266.0 406.5,260.0 398.7,244.0 389.4,220.0 375.9,168.0 369.5,140.0 366.0,120.4 364.0,115.3 362.0,113.3 360.0,112.9 356.0,113.3 346.0,116.4 340.0,117.5 334.0,117.3 324.0,115.4 316.0,112.7 310.0,109.9 288.0,95.1 280.0,90.8 270.0,87.5 260.0,86.7 254.0,87.6 246.0,90.5 238.0,95.2 226.0,103.2 220.0,108.4 213.0,116.0 206.0,121.8 200.0,130.5 196.0,133.0 194.0,133.3 190.0,132.9 184.0,130.2 178.4,126.0 172.7,120.0 167.6,112.0 164.6,104.0 163.5,96.0 164.2,88.0 167.7,76.0 179.0,50.0 184.8,34.0 189.9,16.0Z" fill="#ffb3b3" fill-rule="evenodd"/>
<path d="M211.9,-6.0 374.7,-6.0 377.6,0.0 391.1,22.0 398.7,32.0 406.0,39.3 414.0,45.1 442.0,62.5 466.0,74.3 476.0,78.4 502.0,87.2 532.0,93.8 578.0,101.4 618.0,104.8 626.0,106.6 626.0,168.9 616.3,174.0 610.0,176.7 586.0,183.3 578.0,186.2 570.0,190.0 564.0,193.8 558.0,198.7 551.4,206.0 537.9,228.0 530.0,238.5 520.0,247.8 508.0,255.0 498.0,259.1 486.0,262.8 472.0,266.1 458.0,268.4 448.0,269.6 440.0,269.8 432.0,268.9 424.0,266.7 418.0,263.2 413.9,258.0 405.1,240.0 394.7,216.0 388.3,192.0 386.7,182.0 386.4,166.0 387.5,158.0 389.4,150.0 389.2,146.0 387.1,142.0 374.0,122.8 370.7,116.0 368.8,110.0 367.0,108.0 364.0,107.1 362.0,107.4 346.0,113.4 340.0,115.0 332.0,115.2 324.0,113.9 316.0,111.3 309.5,108.0 288.0,92.1 278.0,86.2 268.0,82.7 262.0,81.8 256.0,81.9 250.0,82.9 242.0,86.1 236.0,89.7 228.0,95.9 220.0,103.4 211.6,114.0 206.0,119.4 200.8,128.0 198.0,131.0 194.0,132.2 191.9,132.0 188.0,130.5 184.2,128.0 178.4,122.0 173.5,114.0 170.9,106.0 170.2,98.0 171.7,88.0 176.0,76.9 189.1,52.0 195.7,38.0 201.2,24.0Z" fill="#ffa2a2" fill-rule="evenodd"/>
<path d="M231.5,-6.0 361.3,-6.0 362.3,-4.0 386.6,30.0 392.8,38.0 398.0,43.7 408.0,51.8 438.0,71.4 470.0,87.5 478.0,90.4 504.0,98.3 542.0,107.5 578.0,114.8 614.0,120.7 619.2,122.0 622.0,123.8 626.0,128.2 626.0,152.8 618.4,162.0 610.5,168.0 602.0,171.9 580.0,178.9 570.0,184.2 562.0,190.0 556.0,195.4 550.0,202.1 534.0,225.4 527.0,234.0 518.0,242.4 508.0,248.9 498.0,253.6 486.0,257.7 472.0,261.2 458.0,263.8 448.0,265.2 442.0,265.4 436.0,264.6 428.0,262.1 424.0,260.0 420.4,256.0 404.0,223.0 399.1,212.0 393.7,192.0 392.8,186.0 393.5,178.0 395.4,168.0 400.9,148.0 401.9,142.0 401.6,138.0 398.3,134.0 389.5,126.0 375.6,108.0 371.6,104.0 368.0,102.8 362.0,103.3 346.0,110.7 338.0,113.1 332.0,113.5 324.0,112.5 316.0,109.9 308.9,106.0 288.0,88.6 276.0,80.8 270.0,78.1 264.0,76.3 256.0,75.2 250.0,75.4 244.0,76.6 238.0,79.0 232.0,82.7 226.0,88.2 220.0,95.2 216.0,100.9 210.5,110.0 204.0,119.0 200.0,127.3 198.0,129.8 196.0,130.8 194.0,131.0 190.5,130.0 187.4,128.0 183.5,124.0 178.9,116.0 176.8,108.0 176.6,100.0 179.2,90.0 184.0,80.4 199.8,58.0 207.0,46.0 222.6,12.0Z" fill="#ff9191" fill-rule="evenodd"/>
<path d="M255.8,-6.0 344.7,-6.0 346.1,-4.0 358.0,7.7 366.0,16.9 390.0,49.7 396.0,57.0 400.0,60.7 412.0,69.3 446.0,88.4 472.0,100.1 505.3,110.0 540.0,118.9 586.0,131.7 602.0,135.2 606.0,136.6 612.0,139.9 613.6,142.0 614.6,146.0 613.5,152.0 609.8,158.0 604.0,162.9 598.0,165.6 586.0,168.7 580.0,171.1 572.0,175.8 564.0,182.0 556.0,189.6 548.6,198.0 532.0,220.6 526.0,227.8 518.0,235.6 508.0,242.8 500.0,247.1 492.0,250.4 472.0,256.1 446.0,260.7 440.0,260.4 436.0,258.9 431.2,256.0 429.0,254.0 424.0,246.6 406.0,210.7 402.0,200.1 399.7,192.0 399.4,188.0 399.7,184.0 407.1,160.0 408.6,152.0 408.8,146.0 407.5,138.0 400.7,124.0 399.4,118.0 399.3,114.0 401.4,106.0 407.4,94.0 408.8,90.0 409.3,84.0 408.0,79.7 406.0,77.2 402.0,75.6 400.0,75.7 396.0,77.1 392.0,80.3 384.0,89.6 380.0,92.7 376.0,94.6 362.0,99.1 346.0,108.0 340.0,110.5 334.0,111.7 328.0,111.7 320.0,110.1 314.0,107.5 306.1,102.0 284.0,81.0 272.0,72.7 264.0,68.8 258.0,66.5 236.0,61.3 232.8,60.0 230.6,58.0 229.3,54.0 229.5,48.0 231.7,38.0 235.1,28.0 239.6,18.0 244.0,10.1ZM204.3,80.0 208.0,79.7 210.0,80.7 210.8,82.0 211.5,86.0 210.5,94.0 207.1,106.0 202.0,117.7 199.2,126.0 198.0,128.2 196.0,129.4 194.0,129.6 190.5,128.0 188.4,126.0 184.7,120.0 182.6,112.0 183.0,104.0 185.8,96.0 190.0,89.9 196.0,84.3 200.0,81.7Z" fill="#ff8080" fill-rule="evenodd"/>
<path d="M293.3,-4.0 302.0,-6.0 306.4,-6.0 312.0,-5.1 328.0,0.2 340.0,6.7 352.0,16.1 362.0,26.5 372.1,40.0 376.9,48.0 379.8,54.0 382.0,62.0 381.9,68.0 379.3,76.0 375.8,82.0 372.4,86.0 367.9,90.0 347.9,104.0 340.6,108.0 334.0,109.9 326.0,110.0 318.0,108.0 310.9,104.0 304.4,98.0 284.0,75.0 263.8,56.0 259.0,50.0 256.9,46.0 255.5,40.0 256.0,32.0 258.7,24.0 263.4,16.0 268.5,10.0 276.0,3.7 284.0,-0.7ZM191.4,108.0 194.0,106.0 196.0,106.1 198.0,108.8 198.5,114.0 198.0,124.0 197.3,126.0 196.0,127.4 194.0,127.6 191.7,126.0 190.4,124.0 189.0,120.0 188.9,114.0 190.0,110.1ZM430.9,108.0 436.0,107.1 440.0,107.1 454.0,109.0 472.0,112.2 503.1,120.0 540.0,130.9 566.0,140.1 582.0,147.6 584.0,147.1 590.6,142.0 594.0,140.7 598.0,140.3 602.1,142.0 603.7,144.0 604.5,148.0 604.0,150.0 602.0,153.1 598.0,156.0 594.0,156.4 586.0,153.4 584.0,153.3 582.0,154.7 558.0,180.3 526.0,220.8 518.0,228.8 508.0,236.5 502.0,240.2 494.0,244.1 478.0,249.3 462.0,252.6 446.0,254.6 442.0,254.2 440.0,252.9 437.2,250.0 431.8,242.0 410.0,198.2 408.0,193.4 407.3,190.0 408.1,186.0 415.5,168.0 417.1,162.0 417.7,156.0 417.4,150.0 415.8,144.0 409.9,134.0 408.3,130.0 408.6,124.0 411.6,118.0 416.0,113.7 422.0,110.5Z" fill="#ff6e6e" fill-rule="evenodd"/>
<path d="M301.8,12.0 310.0,11.1 320.0,12.0 330.0,15.0 340.0,20.1 350.0,27.6 358.0,35.8 364.0,44.0 369.1,54.0 371.1,62.0 371.2,68.0 369.9,74.0 367.4,80.0 361.6,88.0 353.6,96.0 346.0,102.3 338.0,106.9 332.0,108.5 324.0,108.4 316.5,106.0 310.7,102.0 303.5,94.0 290.9,76.0 281.6,62.0 276.6,52.0 275.0,46.0 274.6,40.0 275.8,34.0 278.5,28.0 283.1,22.0 288.0,17.9 294.0,14.5ZM436.1,128.0 450.0,127.7 478.0,130.6 500.0,134.6 522.0,140.3 532.0,142.2 548.0,149.3 556.3,154.0 559.1,156.0 560.7,158.0 561.0,160.0 560.6,162.0 558.1,168.0 552.7,178.0 543.4,192.0 526.0,214.0 520.0,220.1 512.0,227.1 505.2,232.0 498.5,236.0 486.0,241.3 466.0,246.1 460.0,246.4 454.0,245.6 449.4,244.0 446.6,242.0 442.0,236.0 438.2,228.0 433.5,216.0 429.3,204.0 427.3,196.0 426.9,192.0 427.4,186.0 433.1,164.0 434.1,154.0 433.3,148.0 431.2,142.0 428.0,136.8 424.1,132.0 424.8,130.0Z" fill="#ff5e5e" fill-rule="evenodd"/>
<path d="M309.8,26.0 316.0,25.3 324.0,26.0 332.0,28.4 340.0,32.5 347.3,38.0 353.1,44.0 358.0,51.1 361.1,58.0 362.6,66.0 362.4,72.0 360.9,78.0 358.1,84.0 352.6,92.0 347.2,98.0 340.0,103.7 334.0,106.4 328.0,107.3 322.0,106.7 316.0,104.3 310.8,100.0 306.1,94.0 300.1,84.0 294.2,72.0 290.5,62.0 288.8,54.0 288.8,48.0 290.0,42.3 292.0,38.0 295.0,34.0 299.8,30.0 304.0,27.8ZM509.0,158.0 516.0,156.5 528.0,156.0 538.0,156.5 544.1,158.0 546.0,159.7 547.3,162.0 548.3,168.0 546.9,176.0 542.4,186.0 530.0,202.3 522.0,211.5 512.0,220.1 501.1,228.0 492.0,233.0 482.0,236.4 468.0,238.1 464.0,238.1 462.0,237.2 459.5,234.0 456.9,228.0 453.4,218.0 452.4,212.0 453.3,206.0 456.3,194.0 459.8,186.0 462.0,183.3 467.8,178.0 478.0,169.4 482.0,166.7 492.0,163.0Z" fill="#ff4c4c" fill-rule="evenodd"/>
<path d="M311.4,40.0 318.0,38.3 324.0,38.2 330.0,39.5 336.0,41.9 342.0,45.8 346.5,50.0 351.0,56.0 353.8,62.0 355.2,68.0 355.3,74.0 354.1,80.0 351.8,86.0 348.3,92.0 343.5,98.0 338.9,102.0 334.0,104.6 330.0,105.6 324.0,105.7 320.0,104.8 315.0,102.0 311.2,98.0 308.5,94.0 305.3,88.0 302.1,80.0 299.8,72.0 298.7,66.0 298.5,60.0 299.4,54.0 300.9,50.0 304.0,45.3 307.7,42.0ZM516.7,166.0 530.0,164.1 534.0,164.9 538.0,167.9 539.9,172.0 540.1,178.0 539.0,182.0 536.0,187.3 520.0,206.5 514.0,211.4 495.9,224.0 490.0,227.4 484.0,229.4 478.0,229.8 472.0,227.9 469.6,226.0 467.1,222.0 465.8,218.0 465.3,212.0 466.1,206.0 468.0,200.0 473.3,190.0 476.6,186.0 480.9,182.0 490.0,175.5 500.0,171.1Z" fill="#ff3c3c" fill-rule="evenodd"/>
<path d="M320.5,50.0 326.0,49.8 330.0,50.5 334.0,52.0 338.0,54.4 342.0,57.9 345.1,62.0 347.2,66.0 348.8,72.0 349.1,76.0 348.4,82.0 346.5,88.0 344.5,92.0 341.9,96.0 338.1,100.0 334.0,102.7 330.0,104.1 326.0,104.5 322.0,104.1 318.0,102.4 314.9,100.0 311.9,96.0 309.8,92.0 307.6,86.0 306.1,80.0 305.4,74.0 305.5,68.0 307.6,60.0 310.0,56.2 312.1,54.0 316.0,51.4ZM524.9,174.0 528.6,174.0 532.0,175.6 533.4,178.0 533.5,180.0 532.0,183.1 525.1,190.0 518.4,200.0 516.6,202.0 514.0,203.9 498.2,212.0 486.0,221.3 482.0,222.4 480.0,221.9 478.0,220.3 476.8,218.0 476.4,214.0 478.0,207.6 484.2,196.0 492.2,186.0 496.0,183.0 500.0,181.0Z" fill="#ff2a2a" fill-rule="evenodd"/>
<path d="M318.8,62.0 322.0,60.7 326.0,60.2 332.0,61.6 336.0,64.0 338.1,66.0 341.0,70.0 342.7,74.0 343.5,78.0 343.6,82.0 342.5,88.0 341.0,92.0 337.1,98.0 334.0,100.6 330.0,102.4 324.0,103.0 320.0,102.0 318.0,100.8 314.0,96.0 311.7,90.0 310.3,80.0 311.4,72.0 314.0,66.4 316.0,64.1Z" fill="#ff1a1a" fill-rule="evenodd"/>
<path d="M325.0,70.0 330.0,70.6 334.9,74.0 338.0,79.5 338.8,86.0 337.7,92.0 335.7,96.0 334.1,98.0 330.0,100.6 324.0,101.5 320.0,100.4 317.3,98.0 314.8,92.0 314.1,86.0 315.0,80.0 316.0,77.1 317.9,74.0 322.0,70.8Z" fill="#ff0808" fill-rule="evenodd"/>
<path d="M322.2,80.0 326.0,78.7 330.0,79.8 332.3,82.0 334.0,85.3 334.6,90.0 333.7,94.0 332.7,96.0 330.7,98.0 328.0,99.3 324.0,99.8 322.0,99.3 319.7,98.0 317.8,94.0 317.5,90.0 318.1,86.0 320.0,82.1Z" fill="#fb0000" fill-rule="evenodd"/>
<path d="M323.5,88.0 326.0,87.1 328.0,87.7 329.8,90.0 330.0,94.0 328.0,96.4 324.0,97.1 321.7,96.0 321.1,94.0 321.2,92.0 322.0,89.6Z" fill="#f20000" fill-rule="evenodd"/>
<path d="M260.0,104.0 266.0,103.1 272.0,103.2 278.0,104.1 286.0,106.6 324.8,124.0 330.1,128.0 332.1,132.0 332.0,136.0 329.2,144.0 328.0,150.0 315.9,230.0 309.1,264.0 306.0,273.1 300.0,287.0 287.1,314.0 285.6,318.0 284.8,322.0 52.0,322.0 49.8,318.0 34.0,300.8 18.3,280.0 10.2,268.0 7.4,260.0 7.0,256.0 7.2,250.0 11.7,234.0 11.0,230.0 7.2,222.0 5.0,216.0 4.3,210.0 4.9,204.0 6.3,200.0 8.6,196.0 19.1,182.0 24.0,176.2 30.0,171.4 63.5,152.0 68.0,150.7 84.0,148.7 94.0,145.6 102.0,141.6 120.0,130.2 128.0,126.8 134.0,125.9 142.0,126.5 152.0,129.1 178.0,137.7 188.0,139.4 194.0,139.1 198.0,137.7 200.0,136.4 210.0,125.5 226.0,116.6 244.0,110.3 254.0,105.9ZM591.1,232.0 594.0,231.6 598.0,232.3 620.0,240.8 626.0,242.5 626.0,322.0 413.7,322.0 416.1,320.0 432.0,311.8 446.0,303.3 450.0,301.5 454.0,301.2 466.0,301.6 472.0,301.0 480.0,299.2 492.0,294.9 512.0,297.1 524.0,296.6 536.0,293.9 546.0,289.9 552.0,286.5 558.2,282.0 562.7,278.0 568.1,272.0 572.5,266.0 577.0,258.0 586.0,236.4 588.0,233.8Z" fill="#e5e5ff" fill-rule="evenodd"/>
<path d="M263.4,106.0 270.0,105.6 276.0,106.2 284.0,108.1 292.0,111.2 324.0,125.7 327.0,128.0 328.5,130.0 329.2,132.0 329.1,134.0 328.0,136.6 324.4,142.0 322.8,146.0 313.6,190.0 304.6,220.0 301.8,228.0 288.8,250.0 282.1,260.0 268.0,274.9 258.0,283.9 206.0,316.1 198.0,318.8 190.0,320.6 180.0,321.3 174.0,320.5 154.6,316.0 108.0,307.1 100.0,304.9 74.0,296.0 66.0,292.7 60.0,289.1 56.0,285.8 50.6,280.0 41.0,276.0 38.0,273.6 34.0,268.9 24.0,251.5 21.0,244.0 20.3,238.0 19.8,220.0 20.8,212.0 23.2,206.0 29.3,194.0 34.8,186.0 39.4,182.0 66.0,162.4 72.0,159.3 86.0,155.5 94.0,152.6 104.0,147.8 122.0,137.6 128.0,135.0 134.0,133.4 142.0,132.7 150.0,133.4 174.0,138.9 184.0,140.5 190.0,140.8 196.0,139.8 200.0,137.6 201.8,136.0 208.0,128.4 212.0,125.3 230.0,116.6 244.9,112.0 256.0,107.7ZM603.4,278.0 608.0,276.7 614.0,276.0 626.0,276.8 626.0,322.0 453.9,322.0 456.3,320.0 462.0,317.8 490.0,311.0 498.0,310.4 516.0,311.8 526.0,311.8 538.0,310.5 548.0,308.1 558.0,304.5 567.3,300.0 577.3,294.0 594.0,282.7Z" fill="#d4d4ff" fill-rule="evenodd"/>
<path d="M256.4,110.0 264.0,108.4 270.0,108.1 278.0,108.9 286.0,111.0 320.0,125.6 323.7,128.0 325.3,130.0 326.0,132.0 325.6,134.0 320.1,140.0 317.3,144.0 306.4,192.0 302.0,202.6 292.0,223.3 288.0,230.0 284.0,235.0 266.0,255.3 260.0,261.2 256.0,264.1 252.0,266.1 222.0,279.2 212.0,283.0 202.0,284.8 172.0,288.4 158.0,289.4 118.0,284.2 109.0,282.0 101.9,278.0 84.5,266.0 79.3,262.0 75.5,258.0 71.7,252.0 62.5,234.0 60.1,228.0 59.4,222.0 61.3,202.0 63.1,194.0 65.9,188.0 73.3,176.0 77.3,170.0 79.3,168.0 94.0,160.7 124.9,144.0 132.0,140.9 138.0,139.1 144.0,138.2 152.0,138.0 182.0,142.0 190.0,142.2 196.0,141.1 200.0,139.0 202.0,137.2 208.0,129.5 212.0,126.4 230.0,118.3Z" fill="#c3c3ff" fill-rule="evenodd"/>
<path d="M257.5,112.0 264.0,110.8 272.0,110.5 278.0,111.1 286.0,113.1 298.0,117.7 316.6,126.0 320.0,128.1 321.8,130.0 322.3,132.0 321.2,134.0 314.1,140.0 311.0,144.0 309.4,148.0 303.5,172.0 300.7,180.0 296.8,188.0 284.3,210.0 278.0,218.1 256.0,239.6 252.0,242.7 246.0,246.1 214.0,259.6 206.0,262.3 198.0,263.2 164.0,263.2 154.0,262.1 122.0,249.2 118.0,247.2 114.2,244.0 97.1,220.0 93.9,214.0 92.8,210.0 92.2,186.0 92.7,178.0 95.9,172.0 101.5,166.0 108.0,161.4 130.0,149.2 136.7,146.0 144.0,143.5 154.0,142.1 180.0,143.6 190.0,143.6 196.0,142.6 200.0,140.5 202.0,138.7 208.0,130.7 212.0,127.4 232.0,119.2Z" fill="#b2b2ff" fill-rule="evenodd"/>
<path d="M258.6,114.0 266.0,113.0 272.0,112.8 278.0,113.4 286.0,115.3 298.7,120.0 311.8,126.0 315.2,128.0 317.3,130.0 317.5,132.0 315.8,134.0 306.1,142.0 303.3,146.0 294.8,172.0 290.0,182.0 272.0,205.7 268.0,209.7 264.0,212.5 240.0,225.7 230.0,229.9 194.0,235.4 184.0,235.7 176.0,234.2 156.0,229.2 146.7,226.0 142.0,222.7 136.0,217.0 124.0,205.0 120.0,199.8 117.1,194.0 112.2,180.0 111.2,176.0 111.6,172.0 113.4,170.0 139.1,152.0 147.1,148.0 155.0,146.0 190.0,145.1 196.0,144.1 200.0,142.1 202.0,140.4 209.8,130.0 214.0,127.4 234.0,120.1Z" fill="#a2a2ff" fill-rule="evenodd"/>
<path d="M260.0,116.0 272.0,115.2 278.0,115.7 284.0,116.9 293.4,120.0 306.0,125.4 310.0,128.0 311.6,130.0 311.6,132.0 310.1,134.0 302.7,140.0 298.9,144.0 296.7,148.0 290.0,164.0 285.3,172.0 279.1,180.0 270.0,190.4 266.0,193.9 262.0,196.5 240.0,204.5 230.0,206.7 202.0,207.1 186.0,206.6 180.0,205.3 160.0,199.3 152.7,196.0 150.0,194.0 144.3,188.0 137.4,180.0 134.6,176.0 134.0,174.0 134.1,172.0 135.7,168.0 138.1,164.0 145.0,156.0 152.0,151.3 158.0,149.4 172.0,148.8 196.0,145.9 200.0,144.0 202.0,142.3 204.0,140.0 209.0,132.0 211.1,130.0 214.0,128.4 236.0,121.0Z" fill="#9090ff" fill-rule="evenodd"/>
<path d="M262.4,118.0 274.0,117.6 284.0,119.2 292.6,122.0 301.5,126.0 305.2,128.0 306.9,130.0 306.7,132.0 305.1,134.0 297.6,140.0 293.9,144.0 282.9,164.0 274.8,176.0 268.0,182.6 260.0,187.4 246.0,192.5 234.0,194.9 220.0,195.0 200.0,193.6 188.0,191.0 164.0,182.9 156.0,178.1 153.8,176.0 150.9,172.0 149.6,168.0 150.2,162.0 152.2,158.0 154.0,156.0 157.0,154.0 160.0,153.2 170.0,152.6 184.0,148.8 194.0,148.2 198.0,147.2 202.6,144.0 205.6,140.0 210.0,132.1 214.0,129.4 240.0,121.5Z" fill="#8080ff" fill-rule="evenodd"/>
<path d="M269.8,120.0 280.0,120.7 291.3,124.0 298.5,128.0 300.4,130.0 300.5,132.0 299.2,134.0 290.7,142.0 288.0,145.3 271.5,172.0 268.0,175.6 262.0,179.0 246.0,184.5 238.0,186.2 232.0,186.3 204.0,183.9 200.0,183.1 194.0,180.8 180.0,173.4 171.6,168.0 167.5,164.0 167.2,162.0 169.3,160.0 180.9,152.0 186.0,150.5 196.0,150.2 200.0,148.7 202.0,147.3 206.0,142.3 210.0,133.6 212.0,131.5 214.0,130.5 242.0,122.6Z" fill="#6e6eff" fill-rule="evenodd"/>
<path d="M242.7,124.0 270.0,122.6 278.0,122.9 284.0,124.2 292.0,127.6 294.6,130.0 294.9,132.0 293.9,134.0 284.2,144.0 272.0,162.7 268.0,167.8 262.0,171.8 246.0,177.1 240.0,178.4 234.0,178.6 204.0,175.1 198.0,173.4 190.0,170.1 184.0,166.5 181.4,164.0 180.3,162.0 180.0,160.0 180.3,158.0 182.0,155.3 183.4,154.0 186.0,153.0 196.0,153.3 198.0,152.9 202.0,150.9 206.0,146.3 210.0,135.9 211.1,134.0 213.3,132.0Z" fill="#5e5eff" fill-rule="evenodd"/>
<path d="M240.0,126.0 248.0,125.3 278.0,125.6 285.0,128.0 287.7,130.0 288.6,132.0 286.4,136.0 279.4,144.0 266.0,161.7 262.8,164.0 258.0,165.9 244.0,170.0 236.0,170.9 210.0,167.1 202.5,164.0 200.3,162.0 200.5,160.0 204.0,156.0 207.6,150.0 211.5,136.0 212.8,134.0 216.0,132.5 224.0,131.1Z" fill="#4d4dff" fill-rule="evenodd"/>
<path d="M238.3,128.0 246.0,127.1 264.0,129.0 278.0,129.0 280.5,130.0 282.0,131.8 282.1,134.0 279.4,138.0 266.0,152.2 260.0,156.8 254.0,159.3 246.0,161.1 236.0,161.4 222.0,159.8 216.0,157.4 213.3,154.0 212.4,150.0 212.5,142.0 213.6,136.0 216.0,134.4 224.0,133.0Z" fill="#3c3cff" fill-rule="evenodd"/>
<path d="M237.3,130.0 244.0,128.9 250.9,130.0 268.0,135.2 270.0,136.0 270.2,138.0 267.5,142.0 260.3,148.0 252.0,152.3 248.0,153.4 240.0,153.2 230.0,151.9 226.0,150.7 218.0,146.9 216.4,144.0 216.2,142.0 216.5,140.0 217.8,138.0Z" fill="#2b2bff" fill-rule="evenodd"/>
<path d="M237.4,132.0 242.0,130.8 248.3,132.0 252.0,134.0 256.7,138.0 257.5,140.0 257.0,142.0 254.9,144.0 251.5,146.0 245.7,148.0 236.0,148.1 232.0,147.4 228.7,146.0 226.4,144.0 225.1,142.0 225.1,140.0 226.5,138.0 229.0,136.0Z" fill="#1a1aff" fill-rule="evenodd"/>
<path d="M239.1,134.0 242.0,133.3 245.2,134.0 247.4,136.0 248.2,138.0 247.8,140.0 246.0,142.1 242.0,143.6 236.0,144.1 232.0,142.8 231.1,142.0 230.6,140.0 231.8,138.0Z" fill="#0909ff" fill-rule="evenodd"/>
</g>
<path d="M140.6,-0.6 138.9,4.8 126.4,8.1 127.2,11.1 134.7,11.8 135.6,15.1 143.9,16.1 153.9,13.5 157.6,14.8 154.8,17.8 144.8,20.1 153.1,24.5 152.3,26.2 140.6,24.8 136.4,28.5 132.2,31.8 125.6,35.8 121.4,39.9 123.0,44.0 132.2,45.7 140.6,44.0 143.4,48.7 138.9,46.9 127.2,49.2 122.2,53.2 118.9,59.1 116.4,64.1 120.5,66.9 116.4,66.9 113.0,70.8 112.2,75.3 112.3,76.1 106.8,77.6 111.8,79.3 113.0,83.1 115.3,87.2 118.3,90.2 120.0,92.7 118.3,97.0 115.6,94.4 112.6,90.0 110.0,86.7 108.8,89.2 111.6,93.2 115.0,98.2 118.6,101.2 117.8,103.2 115.3,104.7 116.6,108.2 117.8,111.8 115.8,115.3 113.6,118.1 112.8,120.1 117.3,120.5 123.9,119.5 127.1,118.8 128.9,115.3 129.1,112.1 131.1,110.5 133.1,112.1 132.4,115.8 134.4,117.5 139.1,117.8 140.7,118.9 137.4,120.1 132.9,120.5 127.9,121.1 123.9,121.8 119.8,122.5 113.8,123.8 111.8,125.3 112.3,128.8 113.3,132.3 114.8,136.4 117.8,139.4 121.3,140.2 123.9,143.4 127.9,142.4 128.9,145.4 124.9,145.4 122.8,147.9 121.8,152.4 123.9,156.5 122.8,160.5 123.9,163.0 126.9,164.0 127.4,168.0 130.9,167.5 134.9,167.0 135.9,162.5 137.9,158.5 142.9,157.5 145.4,154.4 147.0,151.4 149.0,147.9 150.2,143.4 151.0,140.9 153.0,141.4 153.8,145.4 153.0,149.4 152.0,152.4 156.0,153.4 160.0,154.4 162.5,156.5 164.0,152.9 167.0,150.4 169.0,146.9 171.6,143.4 173.1,139.9 175.1,136.9 180.1,133.9 186.1,130.8 190.9,130.1 193.1,127.3 195.2,124.8 198.7,125.3 202.2,126.8 204.2,129.3 202.2,133.4 199.2,131.3 197.2,135.4 194.1,139.4 196.2,143.4 199.2,147.4 202.2,151.4 206.2,153.4 208.2,150.4 212.2,147.4 214.2,144.4 210.2,143.4 207.2,141.4 209.2,139.4 214.2,138.4 218.2,140.4 220.3,137.4 218.2,133.4 214.2,129.3 212.2,125.3 211.2,122.3 212.2,119.8 207.2,117.8 214.2,116.3 220.3,113.8 222.3,110.8 223.8,115.3 224.3,120.3 226.3,125.3 225.3,131.3 228.3,135.4 233.3,137.4 234.3,133.4 237.3,129.3 243.4,126.3 247.4,123.3 246.4,117.3 242.4,115.3 238.3,116.3 234.3,114.3 230.3,111.3 228.3,107.2 230.8,105.7 234.3,110.3 238.3,108.2 241.3,105.2 242.4,101.7 245.4,103.2 250.4,104.2 253.7,106.3 258.2,105.3 260.7,101.3 261.7,98.8 263.7,100.3 266.7,101.3 269.2,97.3 272.3,95.3 274.8,92.5 275.6,95.3 275.0,101.3 275.3,107.3 279.8,108.8 281.8,110.8 286.8,109.8 289.3,107.8 291.8,106.3 293.6,107.6 296.1,108.0 298.3,106.8 300.4,105.5 302.1,108.0 299.9,110.2 301.2,111.9 304.6,112.7 308.0,113.5 310.5,112.7 310.5,110.2 310.9,106.8 309.7,103.4 309.2,101.7 311.4,101.3 314.7,100.9 316.4,99.2 316.0,96.6 313.9,95.4 309.7,96.2 306.3,97.9 303.7,99.6 305.0,97.1 308.0,95.4 312.2,93.2 313.9,91.1 317.3,90.3 321.5,91.1 324.9,92.8 326.6,94.9 330.0,94.9 330.4,94.1 328.7,93.2 327.4,89.9 325.7,86.9 324.0,83.9 325.7,83.1 327.4,83.1 328.3,85.6 331.7,86.9 334.2,86.5 335.5,88.2 335.9,90.3 338.4,90.7 341.0,91.6 343.5,89.9 344.3,92.0 348.6,92.0 352.8,91.6 354.5,89.4 356.2,91.1 358.7,88.2 361.3,87.3 362.1,90.7 361.3,94.9 363.4,95.8 366.3,93.7 368.9,90.3 371.0,88.6 373.6,89.4 376.2,87.2 380.2,85.2 384.2,82.2 387.2,78.2 388.8,74.2 391.3,71.2 396.3,68.2 398.3,64.1 399.3,59.1 402.3,55.1 404.3,53.1 408.0,41.5 410.5,33.2 413.0,24.8 415.5,14.8 418.8,6.5 421.4,-0.6 412.2,-0.6 408.0,4.8 403.8,-0.6Z M86.2,156.5 88.7,153.4 92.7,151.4 96.7,148.4 99.8,145.4 100.8,142.4 103.8,143.4 107.8,144.9 111.3,146.9 112.8,150.4 110.8,154.4 107.8,158.0 103.8,160.0 98.7,161.5 93.7,162.5 90.2,162.0 88.2,159.5Z M102.3,125.3 105.8,124.8 108.8,127.3 109.8,132.3 110.8,136.4 107.8,139.4 104.8,138.4 103.3,134.4 102.3,130.3Z M81.7,93.2 83.7,89.7 87.7,87.2 92.2,86.7 92.7,89.2 89.7,91.2 91.7,93.2 96.7,91.2 100.8,93.2 101.8,96.7 98.7,98.2 93.7,97.2 90.7,97.7 86.7,95.7 83.7,95.7Z M101.8,89.2 105.8,87.2 108.8,86.2 110.8,89.2 108.8,93.2 105.8,94.7 103.3,92.7Z M75.1,112.8 78.7,109.8 82.7,107.7 85.2,110.3 84.7,113.3 87.7,112.8 91.2,112.3 92.2,116.3 90.7,119.8 92.7,122.3 93.2,127.3 90.2,128.3 86.7,126.3 85.2,122.3 85.7,118.8 82.7,116.3 78.7,114.3Z M105.3,103.2 110.8,102.2 117.8,101.7 115.8,105.2 110.8,107.2 106.8,106.7Z M98.2,113.8 103.8,111.8 107.8,110.3 111.3,113.3 110.3,117.3 105.8,116.3 101.8,115.8Z M65.6,123.3 69.6,121.3 77.2,120.8 76.7,123.3 73.6,124.3 76.7,127.3 77.2,131.3 73.6,133.4 69.6,132.3 67.1,129.3 68.6,126.3 66.1,125.3Z M77.7,137.4 79.7,135.4 83.7,135.9 87.2,138.4 86.7,142.4 83.7,145.4 80.2,144.9 78.2,141.4Z M78.2,167.0 81.2,165.5 85.2,166.5 86.2,169.0 82.7,170.0 79.2,169.5Z M124.9,181.6 127.9,179.5 129.9,174.5 133.9,174.0 135.9,177.5 138.4,178.0 141.9,180.6 141.4,184.6 138.4,185.1 136.9,181.6 133.9,181.6 129.9,183.6 126.9,185.1 124.9,183.6Z M158.0,177.5 160.5,175.5 164.0,176.0 165.8,179.0 164.0,182.1 160.5,182.6 158.0,180.6Z M198.7,190.6 201.7,190.1 204.2,192.6 204.2,196.1 201.2,195.1 199.2,193.1Z M138.4,161.5 140.9,159.0 144.9,158.5 148.0,161.5 150.0,165.5 149.0,168.5 144.9,168.5 140.9,166.5 138.9,164.0Z M150.0,157.5 153.0,154.9 158.0,154.9 160.0,157.5 157.0,159.5 153.0,160.5Z M153.0,162.5 158.0,162.0 162.5,163.5 161.5,166.5 157.0,168.0 153.5,166.0Z M171.6,161.5 175.1,159.5 179.1,160.5 182.6,163.5 179.1,166.0 176.1,166.5 174.1,164.0Z M183.1,150.9 187.1,148.9 193.1,149.4 196.2,151.9 194.7,154.9 189.1,155.9 184.6,154.4Z M215.7,151.4 220.3,149.9 224.3,152.4 223.8,155.9 219.8,157.5 216.7,155.4Z M240.3,144.9 244.4,143.4 248.4,146.4 249.9,149.9 246.4,149.9 242.9,147.9Z M243.4,135.4 245.4,131.3 247.4,128.3 249.9,131.3 251.4,136.4 249.4,140.4 245.9,139.9Z M184.1,143.4 185.6,139.4 189.1,135.9 191.6,137.4 192.1,143.4 190.1,146.9 186.6,146.9Z M97.2,106.7 98.7,106.0 100.6,107.0 100.3,108.7 98.5,109.5 97.2,108.4Z M255.2,109.3 258.7,107.3 261.7,109.3 261.2,113.4 262.7,117.4 266.7,118.4 263.7,119.9 259.7,122.4 258.7,127.9 256.2,127.4 255.2,123.4 253.2,118.4 252.7,113.4Z M266.7,112.3 269.8,108.8 273.3,111.3 275.3,115.4 274.8,119.4 275.3,123.4 274.3,129.4 271.8,130.4 267.7,129.9 265.7,126.4 264.7,122.4 267.7,118.4 265.7,115.4Z M247.7,127.9 249.7,130.4 251.2,134.4 252.2,138.5 248.7,141.0 244.6,139.5 243.1,135.4 245.1,132.4 246.7,130.4Z M240.1,145.0 243.6,143.5 247.2,146.5 249.2,150.0 245.1,150.0 242.1,148.0Z M288.3,116.4 290.8,115.4 293.4,117.4 292.8,119.9 289.8,120.2 288.3,118.4Z M289.8,134.4 293.9,133.4 297.4,134.9 296.9,138.0 292.8,138.5 290.3,137.0Z M92.1,263.8 93.8,258.8 98.8,253.8 104.7,248.8 113.9,245.5 125.6,241.6 138.9,239.1 152.3,237.9 158.1,239.6 164.0,243.0 167.3,247.1 166.5,253.0 162.3,258.0 157.3,263.0 147.3,266.3 137.2,269.7 125.6,271.0 113.9,269.7 107.2,271.3 102.2,274.4 97.2,271.3 93.5,268.0Z M199.0,190.3 202.4,189.5 204.9,193.7 204.1,197.0 200.7,195.4Z M100.2,44.0 103.0,41.2 107.2,41.2 106.3,44.0 102.2,46.5Z M17.8,131.7 22.0,128.7 25.3,130.1 22.8,134.2 19.5,136.7Z M620.8,130.4 618.3,132.3 611.9,136.1 608.1,141.2 601.8,145.0 599.3,150.0 594.2,153.8 586.6,157.6 584.0,154.5 577.7,155.1 573.9,158.9 571.3,155.7 561.2,157.0 558.7,154.5 553.6,153.8 549.8,157.6 546.0,162.7 543.4,169.1 547.2,176.7 548.5,181.8 544.7,184.3 543.4,189.4 547.2,194.4 545.3,200.8 548.5,203.9 552.5,199.5 559.2,195.4 569.2,194.5 574.2,201.2 580.9,203.7 587.5,201.2 594.2,193.7 600.9,197.0 609.3,196.2 619.6,194.5Z M549.1,205.4 540.8,203.7 534.1,202.0 525.7,204.5 519.1,207.9 510.7,209.5 505.7,213.7 504.0,217.9 506.5,220.4 500.7,223.7 495.7,227.9 489.0,227.1 491.5,230.4 498.2,230.4 497.4,233.3 490.7,234.6 487.3,231.3 483.2,228.8 479.0,231.3 475.6,234.6 469.8,237.9 472.3,241.3 477.3,240.4 468.1,244.6 463.9,247.1 459.8,248.8 457.3,243.0 450.6,240.4 446.4,242.1 445.6,246.3 441.4,248.8 443.1,253.0 448.9,256.3 445.6,261.3 446.4,265.5 442.2,259.7 435.6,257.2 428.9,255.5 427.2,258.0 420.5,258.0 419.7,263.0 418.0,269.7 423.9,273.0 428.0,276.4 433.0,279.7 430.5,283.0 428.0,288.1 426.4,294.7 428.0,301.4 432.2,306.4 437.2,311.4 440.6,316.4 497.4,316.4 492.3,306.4 480.7,304.8 470.6,304.8 477.3,298.1 480.7,294.7 477.3,288.1 474.0,281.4 484.0,274.7 489.0,278.0 497.4,279.7 502.4,288.1 503.2,296.4 510.7,306.4 519.1,316.4 619.6,316.4 619.6,268.0 606.8,266.3 605.1,261.3 607.6,257.2 619.6,256.3 619.6,227.1 607.6,227.9 600.9,234.6 590.9,237.1 580.9,235.4 570.8,232.9 564.2,229.6 559.2,222.9 555.8,214.6 557.5,211.2 552.5,204.5Z M430.5,208.7 437.2,210.4 439.7,213.7 442.2,217.9 439.7,221.2 435.6,222.1 433.0,225.4 428.9,222.1 426.4,217.9 428.0,212.9Z M442.2,247.1 445.6,246.3 448.1,249.6 446.4,253.0 443.1,251.3Z M375.0,276.4 376.5,277.1 376.9,281.6 375.8,285.3 375.0,289.0 376.5,293.4 380.6,291.9 382.4,293.4 380.2,296.4 377.2,298.2 375.0,300.1 374.3,304.5 372.8,306.7 370.6,310.4 368.7,309.7 368.4,306.7 365.4,306.0 362.4,307.5 359.5,310.4 356.5,312.7 353.6,314.9 343.2,316.0 346.2,311.9 350.6,309.7 353.6,305.3 358.0,303.8 361.0,300.1 362.4,296.4 366.9,294.2 369.1,289.0 372.1,286.0 373.5,281.6 373.9,277.9Z M371.3,266.8 373.5,264.6 376.5,263.1 379.5,264.6 379.8,266.8 377.2,269.0 373.5,268.6Z M416.5,253.5 418.7,255.7 417.2,259.4 415.0,263.8 412.0,268.3 408.3,272.0 403.9,274.9 399.4,276.4 396.8,274.9 398.0,272.0 402.4,268.3 404.6,265.3 406.8,259.4 412.0,257.2 414.2,254.9Z M412.4,246.8 415.0,244.2 418.7,244.2 420.2,246.1 417.9,247.9 414.2,248.3Z M328.4,316.0 330.6,313.0 333.6,312.7 335.1,316.0Z M315.6,113.5 317.3,111.0 320.7,109.3 324.9,108.9 328.3,110.2 330.0,110.6 329.1,108.5 327.4,106.8 327.0,105.1 329.5,104.2 332.9,102.6 335.0,101.3 334.6,99.2 335.5,97.5 337.6,97.5 338.4,99.2 338.0,101.7 338.4,104.2 339.7,106.8 339.7,109.3 338.4,111.0 340.1,111.9 340.5,114.0 338.4,115.2 339.7,117.3 341.8,119.9 341.4,121.6 339.3,120.3 337.6,118.6 335.0,119.0 333.3,121.2 335.0,123.3 336.7,125.0 335.9,126.7 333.8,127.1 331.7,129.2 329.5,130.9 328.3,129.6 326.6,128.8 324.9,129.2 324.5,127.5 325.7,126.2 324.9,124.5 323.2,123.7 322.8,121.2 324.9,119.5 326.6,117.8 326.2,116.1 324.0,116.9 322.4,119.0 319.0,118.6 317.3,116.5Z M345.2,94.9 346.9,94.1 349.4,95.4 349.8,98.3 349.0,100.9 347.7,102.1 346.5,100.4 345.6,97.5Z M300.4,116.9 302.1,115.2 306.3,114.4 309.7,114.0 311.4,116.1 310.5,119.5 310.9,121.6 307.6,121.6 305.4,120.3 303.7,119.0 300.8,118.6Z M407.8,128.3 410.6,129.5 412.0,132.3 411.2,136.8 410.1,141.3 407.8,146.4 404.4,150.4 402.7,153.8 401.6,157.1 402.2,160.0 403.9,162.8 402.2,165.6 399.9,167.3 397.1,170.1 395.4,174.1 393.1,176.9 392.0,180.9 389.7,184.8 386.9,187.6 384.1,188.5 381.3,186.5 380.7,182.0 381.8,176.3 383.0,170.7 384.4,165.6 385.8,163.9 387.5,166.7 390.9,165.6 394.3,163.9 392.0,162.8 386.9,162.2 386.3,161.1 390.3,160.0 389.7,155.4 391.4,151.5 393.1,147.0 394.3,143.0 392.0,142.5 393.1,139.6 394.8,135.1 398.8,134.0 402.2,132.3 404.4,130.0Z" fill="#808080" stroke="#000" stroke-width="2.9" stroke-linejoin="round"/>
<path d="M120.8,128.8 123.9,128.1 127.9,130.8 130.4,133.4 127.9,134.6 123.9,133.4 121.3,131.3Z M442.2,288.1 451.4,288.9 454.8,293.1 453.1,298.1 458.9,306.4 448.9,303.1 444.7,307.3 442.2,301.4 440.6,294.7 437.2,289.7Z" fill="#fff" stroke="#000" stroke-width="2.9" stroke-linejoin="round"/>
<path d="M191.8,0V315.1 M383.8,0V315.1 M575.8,0V315.1 M0,27.2H618.6 M0,123.2H618.6 M0,219.2H618.6" stroke="#b0b0b0" stroke-width="1.9" fill="none"/>
<path d="M153.0,326.0 L160.6,314.1 L192.4,263.0 L247.0,209.0 L301.8,156.1 L383.6,83.2 L486.4,1.4 L497.0,-7.0" fill="none" stroke="#000" stroke-width="3.1" stroke-dasharray="11.2,4.4"/>
</g>
<rect x="0" y="0" width="618.6" height="315.1" fill="none" stroke="#000" stroke-width="1.6"/>
<path d="M-0.2,315.1v6.6 M191.8,315.1v6.6 M383.8,315.1v6.6 M575.8,315.1v6.6 M0,27.2h-7 M0,123.2h-7 M0,219.2h-7 M0,315.1h-7" stroke="#000" stroke-width="1.6" fill="none"/>
<text x="0.1" y="351.4" font-size="31.7" text-anchor="middle">125.2°E</text>
<text x="192.1" y="351.4" font-size="31.7" text-anchor="middle">127.2°E</text>
<text x="384.1" y="351.4" font-size="31.7" text-anchor="middle">129.2°E</text>
<text x="576.1" y="351.4" font-size="31.7" text-anchor="middle">131.2°E</text>
<text x="-13.5" y="38.4" font-size="31.7" text-anchor="end">35.77°N</text>
<text x="-13.5" y="134.4" font-size="31.7" text-anchor="end">34.77°N</text>
<text x="-13.5" y="230.4" font-size="31.7" text-anchor="end">33.77°N</text>
<text x="-13.5" y="326.3" font-size="31.7" text-anchor="end">32.77°N</text>
<text x="308.7" y="-11.4" font-size="38.3" text-anchor="middle">2022-09-06 11:00:00</text>
<path d="M656.6,-53.6L668.4,-75.9L680.2,-53.6Z" fill="#800000"/>
<path d="M656.6,368.5L668.4,390.8L680.2,368.5Z" fill="#00004c"/>
<rect x="656.6" y="-54.6" width="23.6" height="424.1" fill="url(#cb)"/>
<path d="M656.6,-54.6L668.4,-75.9L680.2,-54.6L680.2,369.5L668.4,390.8L656.6,369.5Z" fill="none" stroke="#000" stroke-width="1.6" stroke-linejoin="miter"/>
<text x="694.1" y="-43.7" font-size="31.7">30</text>
<text x="694.1" y="27.0" font-size="31.7">20</text>
<text x="694.1" y="97.7" font-size="31.7">10</text>
<text x="694.1" y="168.4" font-size="31.7">0</text>
<text x="694.1" y="239.0" font-size="31.7">−10</text>
<text x="694.1" y="309.7" font-size="31.7">−20</text>
<text x="694.1" y="380.4" font-size="31.7">−30</text>
<path d="M680.2,-54.6h7 M680.2,16.1h7 M680.2,86.8h7 M680.2,157.5h7 M680.2,228.1h7 M680.2,298.8h7 M680.2,369.5h7" stroke="#000" stroke-width="1.6" fill="none"/>
<text transform="translate(777.8,157.4) rotate(-90)" font-size="31.7" text-anchor="middle">anomaly (cm)</text>
</g>
<text class="cap" x="50" y="1564" font-size="52.7">(a) Air pressure induced anomaly</text>
<text class="cap" x="1048" y="1564" font-size="52.7">(b) Wind induced anomaly</text>
</svg></body></html>
